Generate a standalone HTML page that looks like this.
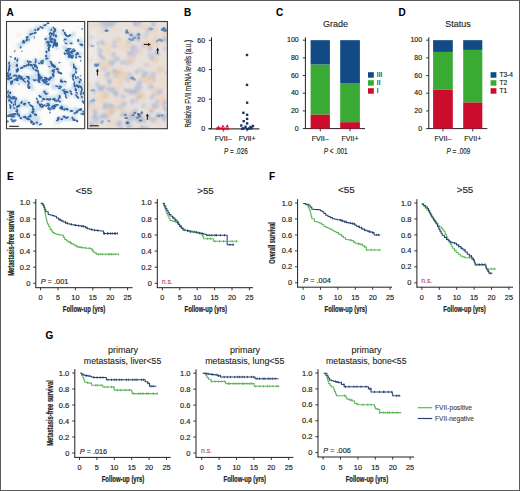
<!DOCTYPE html>
<html><head><meta charset="utf-8"><style>
html,body{margin:0;padding:0;background:#fff;}
svg{display:block;font-family:"Liberation Sans", sans-serif;}
</style></head><body>
<svg width="520" height="491" viewBox="0 0 520 491">
<rect width="520" height="491" fill="#fff"/>
<text x="6.60" y="15.60" font-size="10" text-anchor="start" fill="#000" font-weight="bold" stroke="#000" stroke-width="0.1">A</text>
<text x="184.00" y="15.60" font-size="10" text-anchor="start" fill="#000" font-weight="bold" stroke="#000" stroke-width="0.1">B</text>
<text x="276.00" y="15.60" font-size="10" text-anchor="start" fill="#000" font-weight="bold" stroke="#000" stroke-width="0.1">C</text>
<text x="398.60" y="15.60" font-size="10" text-anchor="start" fill="#000" font-weight="bold" stroke="#000" stroke-width="0.1">D</text>
<text x="6.90" y="179.60" font-size="10" text-anchor="start" fill="#000" font-weight="bold" stroke="#000" stroke-width="0.1">E</text>
<text x="269.00" y="179.60" font-size="10" text-anchor="start" fill="#000" font-weight="bold" stroke="#000" stroke-width="0.1">F</text>
<text x="45.60" y="338.60" font-size="10" text-anchor="start" fill="#000" font-weight="bold" stroke="#000" stroke-width="0.1">G</text>
<defs><clipPath id="f1"><rect x="7" y="22" width="77.2" height="106.3"/></clipPath><clipPath id="f2"><rect x="88" y="22" width="79.5" height="106.5"/></clipPath><filter id="bl" x="-10%" y="-10%" width="120%" height="120%"><feGaussianBlur stdDeviation="0.45"/></filter><filter id="bl2" x="-10%" y="-10%" width="120%" height="120%"><feGaussianBlur stdDeviation="1.2"/></filter><filter id="bl3" x="-10%" y="-10%" width="120%" height="120%"><feGaussianBlur stdDeviation="0.9"/></filter></defs>
<g clip-path="url(#f1)">
<rect x="7.00" y="22.00" width="78.00" height="106.50" fill="#fbfbf9"/>
<ellipse cx="32.3" cy="38.0" rx="4.0" ry="1.7" fill="#f6f1e6" opacity="0.45"/>
<ellipse cx="48.8" cy="60.8" rx="2.2" ry="2.8" fill="#f6f1e6" opacity="0.45"/>
<ellipse cx="9.9" cy="68.0" rx="2.2" ry="1.7" fill="#f6f1e6" opacity="0.45"/>
<ellipse cx="40.1" cy="109.6" rx="2.4" ry="2.1" fill="#f6f1e6" opacity="0.45"/>
<ellipse cx="55.9" cy="122.5" rx="3.7" ry="2.5" fill="#f6f1e6" opacity="0.45"/>
<ellipse cx="83.1" cy="26.9" rx="4.6" ry="2.2" fill="#f6f1e6" opacity="0.45"/>
<ellipse cx="18.3" cy="34.5" rx="2.9" ry="3.5" fill="#f6f1e6" opacity="0.45"/>
<ellipse cx="21.1" cy="83.6" rx="3.9" ry="2.4" fill="#f6f1e6" opacity="0.45"/>
<ellipse cx="49.7" cy="28.7" rx="2.2" ry="2.0" fill="#f6f1e6" opacity="0.45"/>
<ellipse cx="60.1" cy="67.3" rx="2.9" ry="3.0" fill="#f6f1e6" opacity="0.45"/>
<ellipse cx="42.3" cy="53.8" rx="4.4" ry="3.2" fill="#f6f1e6" opacity="0.45"/>
<ellipse cx="26.0" cy="82.9" rx="3.6" ry="3.7" fill="#f6f1e6" opacity="0.45"/>
<ellipse cx="63.9" cy="52.5" rx="4.9" ry="1.8" fill="#f6f1e6" opacity="0.45"/>
<ellipse cx="39.6" cy="102.3" rx="2.5" ry="2.7" fill="#f6f1e6" opacity="0.45"/>
<ellipse cx="10.1" cy="92.8" rx="4.3" ry="2.9" fill="#f6f1e6" opacity="0.45"/>
<ellipse cx="75.3" cy="55.3" rx="4.1" ry="3.0" fill="#f6f1e6" opacity="0.45"/>
<ellipse cx="52.2" cy="70.4" rx="4.5" ry="3.9" fill="#f6f1e6" opacity="0.45"/>
<ellipse cx="44.0" cy="92.4" rx="2.2" ry="3.3" fill="#f6f1e6" opacity="0.45"/>
<ellipse cx="57.5" cy="127.3" rx="4.5" ry="2.2" fill="#f6f1e6" opacity="0.45"/>
<ellipse cx="37.1" cy="92.9" rx="2.1" ry="2.7" fill="#f6f1e6" opacity="0.45"/>
<ellipse cx="20.1" cy="34.4" rx="2.2" ry="3.4" fill="#f6f1e6" opacity="0.45"/>
<ellipse cx="17.1" cy="48.2" rx="3.2" ry="3.7" fill="#f6f1e6" opacity="0.45"/>
<ellipse cx="13.3" cy="69.6" rx="3.6" ry="3.7" fill="#f6f1e6" opacity="0.45"/>
<ellipse cx="70.9" cy="113.6" rx="2.8" ry="2.5" fill="#f6f1e6" opacity="0.45"/>
<ellipse cx="35.0" cy="115.7" rx="4.9" ry="1.9" fill="#f6f1e6" opacity="0.45"/>
<g filter="url(#bl2)" opacity="0.7">
<ellipse cx="20.0" cy="44.8" rx="3.19" ry="2.21" fill="#b4d3ec" transform="rotate(-50 20.0 44.8)"/>
<ellipse cx="22.8" cy="43.1" rx="3.55" ry="2.55" fill="#b4d3ec" transform="rotate(-44 22.8 43.1)"/>
<ellipse cx="27.3" cy="40.1" rx="3.50" ry="2.62" fill="#b4d3ec" transform="rotate(-80 27.3 40.1)"/>
<ellipse cx="31.5" cy="35.2" rx="2.70" ry="2.51" fill="#b4d3ec" transform="rotate(-52 31.5 35.2)"/>
<ellipse cx="29.1" cy="34.0" rx="2.94" ry="2.04" fill="#b4d3ec" transform="rotate(-69 29.1 34.0)"/>
<ellipse cx="31.9" cy="31.1" rx="2.63" ry="2.70" fill="#b4d3ec" transform="rotate(-55 31.9 31.1)"/>
<ellipse cx="36.7" cy="27.7" rx="2.96" ry="2.10" fill="#b4d3ec" transform="rotate(-43 36.7 27.7)"/>
<ellipse cx="44.4" cy="25.8" rx="2.69" ry="2.08" fill="#b4d3ec" transform="rotate(-33 44.4 25.8)"/>
<ellipse cx="43.8" cy="26.2" rx="2.62" ry="2.76" fill="#b4d3ec" transform="rotate(-46 43.8 26.2)"/>
<ellipse cx="50.3" cy="29.8" rx="3.13" ry="2.78" fill="#b4d3ec" transform="rotate(66 50.3 29.8)"/>
<ellipse cx="51.9" cy="32.6" rx="2.77" ry="2.62" fill="#b4d3ec" transform="rotate(90 51.9 32.6)"/>
<ellipse cx="51.8" cy="34.8" rx="3.41" ry="2.79" fill="#b4d3ec" transform="rotate(84 51.8 34.8)"/>
<ellipse cx="51.0" cy="40.5" rx="2.83" ry="2.41" fill="#b4d3ec" transform="rotate(120 51.0 40.5)"/>
<ellipse cx="47.5" cy="38.8" rx="2.86" ry="2.55" fill="#b4d3ec" transform="rotate(88 47.5 38.8)"/>
<ellipse cx="48.3" cy="47.2" rx="3.56" ry="2.29" fill="#b4d3ec" transform="rotate(133 48.3 47.2)"/>
<ellipse cx="47.3" cy="45.1" rx="3.22" ry="2.72" fill="#b4d3ec" transform="rotate(78 47.3 45.1)"/>
<ellipse cx="47.5" cy="51.9" rx="2.68" ry="2.53" fill="#b4d3ec" transform="rotate(120 47.5 51.9)"/>
<ellipse cx="48.2" cy="56.6" rx="2.78" ry="2.63" fill="#b4d3ec" transform="rotate(95 48.2 56.6)"/>
<ellipse cx="55.3" cy="31.0" rx="3.00" ry="2.76" fill="#b4d3ec" transform="rotate(77 55.3 31.0)"/>
<ellipse cx="53.3" cy="32.3" rx="3.50" ry="2.65" fill="#b4d3ec" transform="rotate(60 53.3 32.3)"/>
<ellipse cx="56.0" cy="37.1" rx="2.95" ry="2.44" fill="#b4d3ec" transform="rotate(95 56.0 37.1)"/>
<ellipse cx="53.0" cy="40.3" rx="3.13" ry="2.75" fill="#b4d3ec" transform="rotate(112 53.0 40.3)"/>
<ellipse cx="55.5" cy="44.1" rx="2.85" ry="2.23" fill="#b4d3ec" transform="rotate(81 55.5 44.1)"/>
<ellipse cx="53.9" cy="44.5" rx="2.73" ry="2.73" fill="#b4d3ec" transform="rotate(96 53.9 44.5)"/>
<ellipse cx="55.3" cy="42.7" rx="3.02" ry="2.73" fill="#b4d3ec" transform="rotate(107 55.3 42.7)"/>
<ellipse cx="56.5" cy="46.9" rx="3.04" ry="2.15" fill="#b4d3ec" transform="rotate(45 56.5 46.9)"/>
<ellipse cx="65.2" cy="47.7" rx="3.33" ry="2.45" fill="#b4d3ec" transform="rotate(17 65.2 47.7)"/>
<ellipse cx="68.1" cy="50.5" rx="2.71" ry="2.45" fill="#b4d3ec" transform="rotate(38 68.1 50.5)"/>
<ellipse cx="69.9" cy="52.3" rx="3.16" ry="2.61" fill="#b4d3ec" transform="rotate(19 69.9 52.3)"/>
<ellipse cx="75.5" cy="53.4" rx="3.11" ry="2.55" fill="#b4d3ec" transform="rotate(19 75.5 53.4)"/>
<ellipse cx="77.9" cy="54.7" rx="3.30" ry="2.70" fill="#b4d3ec" transform="rotate(76 77.9 54.7)"/>
<ellipse cx="67.9" cy="56.7" rx="3.44" ry="2.11" fill="#b4d3ec" transform="rotate(58 67.9 56.7)"/>
<ellipse cx="69.1" cy="55.0" rx="2.67" ry="2.54" fill="#b4d3ec" transform="rotate(8 69.1 55.0)"/>
<ellipse cx="75.9" cy="55.4" rx="3.26" ry="2.11" fill="#b4d3ec" transform="rotate(-11 75.9 55.4)"/>
<ellipse cx="79.5" cy="54.1" rx="3.00" ry="2.39" fill="#b4d3ec" transform="rotate(5 79.5 54.1)"/>
<ellipse cx="17.5" cy="60.1" rx="3.12" ry="2.27" fill="#b4d3ec" transform="rotate(96 17.5 60.1)"/>
<ellipse cx="15.3" cy="63.0" rx="3.15" ry="2.35" fill="#b4d3ec" transform="rotate(67 15.3 63.0)"/>
<ellipse cx="14.8" cy="65.5" rx="2.66" ry="2.79" fill="#b4d3ec" transform="rotate(72 14.8 65.5)"/>
<ellipse cx="19.1" cy="68.4" rx="2.64" ry="2.62" fill="#b4d3ec" transform="rotate(55 19.1 68.4)"/>
<ellipse cx="16.1" cy="71.0" rx="3.42" ry="2.21" fill="#b4d3ec" transform="rotate(100 16.1 71.0)"/>
<ellipse cx="9.7" cy="62.8" rx="2.69" ry="2.05" fill="#b4d3ec" transform="rotate(98 9.7 62.8)"/>
<ellipse cx="8.3" cy="65.9" rx="3.23" ry="2.64" fill="#b4d3ec" transform="rotate(115 8.3 65.9)"/>
<ellipse cx="10.1" cy="67.2" rx="3.05" ry="2.27" fill="#b4d3ec" transform="rotate(110 10.1 67.2)"/>
<ellipse cx="10.5" cy="72.9" rx="3.13" ry="2.19" fill="#b4d3ec" transform="rotate(70 10.5 72.9)"/>
<ellipse cx="7.3" cy="73.9" rx="2.91" ry="2.24" fill="#b4d3ec" transform="rotate(75 7.3 73.9)"/>
<ellipse cx="7.2" cy="81.2" rx="2.95" ry="2.01" fill="#b4d3ec" transform="rotate(73 7.2 81.2)"/>
<ellipse cx="20.4" cy="67.9" rx="2.79" ry="2.38" fill="#b4d3ec" transform="rotate(-13 20.4 67.9)"/>
<ellipse cx="26.8" cy="66.4" rx="3.10" ry="2.67" fill="#b4d3ec" transform="rotate(-21 26.8 66.4)"/>
<ellipse cx="30.0" cy="65.4" rx="2.94" ry="2.67" fill="#b4d3ec" transform="rotate(17 30.0 65.4)"/>
<ellipse cx="34.9" cy="63.3" rx="2.65" ry="2.10" fill="#b4d3ec" transform="rotate(-20 34.9 63.3)"/>
<ellipse cx="36.4" cy="62.5" rx="2.68" ry="2.67" fill="#b4d3ec" transform="rotate(-33 36.4 62.5)"/>
<ellipse cx="41.7" cy="61.7" rx="2.89" ry="2.37" fill="#b4d3ec" transform="rotate(-27 41.7 61.7)"/>
<ellipse cx="41.7" cy="61.2" rx="3.57" ry="2.44" fill="#b4d3ec" transform="rotate(-5 41.7 61.2)"/>
<ellipse cx="47.1" cy="58.9" rx="2.60" ry="2.31" fill="#b4d3ec" transform="rotate(-47 47.1 58.9)"/>
<ellipse cx="9.6" cy="76.5" rx="2.60" ry="2.21" fill="#b4d3ec" transform="rotate(-11 9.6 76.5)"/>
<ellipse cx="11.2" cy="75.4" rx="2.90" ry="2.19" fill="#b4d3ec" transform="rotate(-45 11.2 75.4)"/>
<ellipse cx="16.7" cy="77.3" rx="3.32" ry="2.70" fill="#b4d3ec" transform="rotate(-0 16.7 77.3)"/>
<ellipse cx="18.6" cy="78.2" rx="3.32" ry="2.51" fill="#b4d3ec" transform="rotate(-13 18.6 78.2)"/>
<ellipse cx="22.8" cy="78.3" rx="3.33" ry="2.65" fill="#b4d3ec" transform="rotate(20 22.8 78.3)"/>
<ellipse cx="25.2" cy="77.4" rx="3.40" ry="2.66" fill="#b4d3ec" transform="rotate(35 25.2 77.4)"/>
<ellipse cx="31.5" cy="79.1" rx="2.83" ry="2.02" fill="#b4d3ec" transform="rotate(25 31.5 79.1)"/>
<ellipse cx="31.2" cy="77.2" rx="3.16" ry="2.50" fill="#b4d3ec" transform="rotate(35 31.2 77.2)"/>
<ellipse cx="37.5" cy="79.7" rx="3.40" ry="2.60" fill="#b4d3ec" transform="rotate(-23 37.5 79.7)"/>
<ellipse cx="39.8" cy="80.5" rx="3.34" ry="2.20" fill="#b4d3ec" transform="rotate(-36 39.8 80.5)"/>
<ellipse cx="40.6" cy="80.6" rx="3.34" ry="2.78" fill="#b4d3ec" transform="rotate(-26 40.6 80.6)"/>
<ellipse cx="45.8" cy="79.1" rx="3.37" ry="2.49" fill="#b4d3ec" transform="rotate(7 45.8 79.1)"/>
<ellipse cx="35.1" cy="60.7" rx="3.34" ry="2.24" fill="#b4d3ec" transform="rotate(78 35.1 60.7)"/>
<ellipse cx="34.5" cy="63.5" rx="3.27" ry="2.55" fill="#b4d3ec" transform="rotate(80 34.5 63.5)"/>
<ellipse cx="35.3" cy="69.0" rx="3.07" ry="2.09" fill="#b4d3ec" transform="rotate(93 35.3 69.0)"/>
<ellipse cx="36.0" cy="74.9" rx="2.62" ry="2.37" fill="#b4d3ec" transform="rotate(99 36.0 74.9)"/>
<ellipse cx="40.3" cy="75.9" rx="2.81" ry="2.76" fill="#b4d3ec" transform="rotate(52 40.3 75.9)"/>
<ellipse cx="39.3" cy="75.9" rx="3.55" ry="2.11" fill="#b4d3ec" transform="rotate(70 39.3 75.9)"/>
<ellipse cx="43.3" cy="82.8" rx="2.83" ry="2.72" fill="#b4d3ec" transform="rotate(35 43.3 82.8)"/>
<ellipse cx="44.0" cy="80.2" rx="3.05" ry="2.24" fill="#b4d3ec" transform="rotate(20 44.0 80.2)"/>
<ellipse cx="47.7" cy="81.9" rx="2.60" ry="2.60" fill="#b4d3ec" transform="rotate(-21 47.7 81.9)"/>
<ellipse cx="51.1" cy="80.1" rx="3.50" ry="2.23" fill="#b4d3ec" transform="rotate(-30 51.1 80.1)"/>
<ellipse cx="52.7" cy="78.8" rx="2.96" ry="2.34" fill="#b4d3ec" transform="rotate(-78 52.7 78.8)"/>
<ellipse cx="51.6" cy="72.2" rx="2.89" ry="2.75" fill="#b4d3ec" transform="rotate(-61 51.6 72.2)"/>
<ellipse cx="52.8" cy="70.5" rx="2.97" ry="2.76" fill="#b4d3ec" transform="rotate(-106 52.8 70.5)"/>
<ellipse cx="54.1" cy="66.2" rx="3.54" ry="2.44" fill="#b4d3ec" transform="rotate(-88 54.1 66.2)"/>
<ellipse cx="49.9" cy="64.3" rx="3.35" ry="2.52" fill="#b4d3ec" transform="rotate(-120 49.9 64.3)"/>
<ellipse cx="49.1" cy="63.6" rx="3.07" ry="2.27" fill="#b4d3ec" transform="rotate(-143 49.1 63.6)"/>
<ellipse cx="52.3" cy="66.5" rx="3.26" ry="2.24" fill="#b4d3ec" transform="rotate(22 52.3 66.5)"/>
<ellipse cx="54.2" cy="65.9" rx="2.81" ry="2.72" fill="#b4d3ec" transform="rotate(15 54.2 65.9)"/>
<ellipse cx="55.9" cy="70.8" rx="3.05" ry="2.11" fill="#b4d3ec" transform="rotate(74 55.9 70.8)"/>
<ellipse cx="57.4" cy="70.3" rx="2.84" ry="2.21" fill="#b4d3ec" transform="rotate(17 57.4 70.3)"/>
<ellipse cx="12.3" cy="83.9" rx="3.01" ry="2.42" fill="#b4d3ec" transform="rotate(-43 12.3 83.9)"/>
<ellipse cx="12.6" cy="79.3" rx="3.57" ry="2.10" fill="#b4d3ec" transform="rotate(-52 12.6 79.3)"/>
<ellipse cx="17.3" cy="80.7" rx="2.87" ry="2.20" fill="#b4d3ec" transform="rotate(-33 17.3 80.7)"/>
<ellipse cx="19.3" cy="80.4" rx="3.47" ry="2.02" fill="#b4d3ec" transform="rotate(11 19.3 80.4)"/>
<ellipse cx="22.3" cy="79.7" rx="3.19" ry="2.00" fill="#b4d3ec" transform="rotate(29 22.3 79.7)"/>
<ellipse cx="26.6" cy="81.5" rx="3.57" ry="2.20" fill="#b4d3ec" transform="rotate(56 26.6 81.5)"/>
<ellipse cx="25.4" cy="81.4" rx="3.54" ry="2.58" fill="#b4d3ec" transform="rotate(44 25.4 81.4)"/>
<ellipse cx="30.6" cy="85.0" rx="2.64" ry="2.63" fill="#b4d3ec" transform="rotate(82 30.6 85.0)"/>
<ellipse cx="31.7" cy="88.0" rx="2.73" ry="2.20" fill="#b4d3ec" transform="rotate(65 31.7 88.0)"/>
<ellipse cx="41.1" cy="76.4" rx="3.12" ry="2.47" fill="#b4d3ec" transform="rotate(7 41.1 76.4)"/>
<ellipse cx="41.5" cy="80.2" rx="2.90" ry="2.37" fill="#b4d3ec" transform="rotate(3 41.5 80.2)"/>
<ellipse cx="48.0" cy="82.0" rx="2.83" ry="2.20" fill="#b4d3ec" transform="rotate(-16 48.0 82.0)"/>
<ellipse cx="51.3" cy="78.9" rx="3.10" ry="2.54" fill="#b4d3ec" transform="rotate(-48 51.3 78.9)"/>
<ellipse cx="50.9" cy="78.3" rx="2.83" ry="2.03" fill="#b4d3ec" transform="rotate(-26 50.9 78.3)"/>
<ellipse cx="8.8" cy="92.2" rx="3.40" ry="2.59" fill="#b4d3ec" transform="rotate(61 8.8 92.2)"/>
<ellipse cx="8.4" cy="96.9" rx="3.42" ry="2.18" fill="#b4d3ec" transform="rotate(69 8.4 96.9)"/>
<ellipse cx="10.9" cy="96.4" rx="3.10" ry="2.15" fill="#b4d3ec" transform="rotate(114 10.9 96.4)"/>
<ellipse cx="10.0" cy="101.0" rx="2.75" ry="2.31" fill="#b4d3ec" transform="rotate(114 10.0 101.0)"/>
<ellipse cx="12.4" cy="102.0" rx="2.66" ry="2.31" fill="#b4d3ec" transform="rotate(67 12.4 102.0)"/>
<ellipse cx="11.1" cy="110.6" rx="3.53" ry="2.26" fill="#b4d3ec" transform="rotate(133 11.1 110.6)"/>
<ellipse cx="17.4" cy="109.4" rx="3.26" ry="2.30" fill="#b4d3ec" transform="rotate(-71 17.4 109.4)"/>
<ellipse cx="18.1" cy="104.7" rx="2.88" ry="2.28" fill="#b4d3ec" transform="rotate(-73 18.1 104.7)"/>
<ellipse cx="21.3" cy="104.6" rx="2.96" ry="2.66" fill="#b4d3ec" transform="rotate(-59 21.3 104.6)"/>
<ellipse cx="25.1" cy="101.5" rx="2.97" ry="2.74" fill="#b4d3ec" transform="rotate(12 25.1 101.5)"/>
<ellipse cx="26.0" cy="105.2" rx="3.01" ry="2.65" fill="#b4d3ec" transform="rotate(-19 26.0 105.2)"/>
<ellipse cx="29.0" cy="104.7" rx="3.52" ry="2.21" fill="#b4d3ec" transform="rotate(22 29.0 104.7)"/>
<ellipse cx="34.7" cy="109.0" rx="3.56" ry="2.49" fill="#b4d3ec" transform="rotate(37 34.7 109.0)"/>
<ellipse cx="35.0" cy="110.5" rx="2.60" ry="2.60" fill="#b4d3ec" transform="rotate(47 35.0 110.5)"/>
<ellipse cx="37.2" cy="118.0" rx="2.83" ry="2.38" fill="#b4d3ec" transform="rotate(30 37.2 118.0)"/>
<ellipse cx="16.5" cy="100.1" rx="3.03" ry="2.39" fill="#b4d3ec" transform="rotate(78 16.5 100.1)"/>
<ellipse cx="13.1" cy="105.3" rx="3.42" ry="2.62" fill="#b4d3ec" transform="rotate(112 13.1 105.3)"/>
<ellipse cx="13.4" cy="105.8" rx="3.38" ry="2.06" fill="#b4d3ec" transform="rotate(86 13.4 105.8)"/>
<ellipse cx="15.4" cy="107.6" rx="2.63" ry="2.44" fill="#b4d3ec" transform="rotate(26 15.4 107.6)"/>
<ellipse cx="18.6" cy="113.5" rx="2.86" ry="2.07" fill="#b4d3ec" transform="rotate(90 18.6 113.5)"/>
<ellipse cx="18.2" cy="115.1" rx="2.83" ry="2.33" fill="#b4d3ec" transform="rotate(53 18.2 115.1)"/>
<ellipse cx="22.8" cy="118.2" rx="3.26" ry="2.10" fill="#b4d3ec" transform="rotate(30 22.8 118.2)"/>
<ellipse cx="25.3" cy="117.9" rx="3.34" ry="2.16" fill="#b4d3ec" transform="rotate(-3 25.3 117.9)"/>
<ellipse cx="26.5" cy="116.4" rx="3.18" ry="2.26" fill="#b4d3ec" transform="rotate(33 26.5 116.4)"/>
<ellipse cx="32.5" cy="117.0" rx="3.41" ry="2.52" fill="#b4d3ec" transform="rotate(-82 32.5 117.0)"/>
<ellipse cx="31.1" cy="112.6" rx="3.44" ry="2.73" fill="#b4d3ec" transform="rotate(-41 31.1 112.6)"/>
<ellipse cx="31.9" cy="111.0" rx="3.57" ry="2.47" fill="#b4d3ec" transform="rotate(-85 31.9 111.0)"/>
<ellipse cx="37.7" cy="102.3" rx="2.86" ry="2.62" fill="#b4d3ec" transform="rotate(60 37.7 102.3)"/>
<ellipse cx="38.2" cy="104.4" rx="2.82" ry="2.29" fill="#b4d3ec" transform="rotate(72 38.2 104.4)"/>
<ellipse cx="38.9" cy="103.7" rx="3.25" ry="2.16" fill="#b4d3ec" transform="rotate(71 38.9 103.7)"/>
<ellipse cx="40.8" cy="108.0" rx="2.91" ry="2.16" fill="#b4d3ec" transform="rotate(-33 40.8 108.0)"/>
<ellipse cx="48.4" cy="104.2" rx="3.00" ry="2.44" fill="#b4d3ec" transform="rotate(-39 48.4 104.2)"/>
<ellipse cx="49.9" cy="104.5" rx="3.01" ry="2.23" fill="#b4d3ec" transform="rotate(14 49.9 104.5)"/>
<ellipse cx="55.9" cy="105.0" rx="2.96" ry="2.33" fill="#b4d3ec" transform="rotate(5 55.9 105.0)"/>
<ellipse cx="62.1" cy="106.6" rx="3.33" ry="2.16" fill="#b4d3ec" transform="rotate(0 62.1 106.6)"/>
<ellipse cx="62.3" cy="107.0" rx="3.01" ry="2.71" fill="#b4d3ec" transform="rotate(44 62.3 107.0)"/>
<ellipse cx="64.9" cy="107.6" rx="3.24" ry="2.73" fill="#b4d3ec" transform="rotate(26 64.9 107.6)"/>
<ellipse cx="69.2" cy="110.0" rx="2.75" ry="2.23" fill="#b4d3ec" transform="rotate(22 69.2 110.0)"/>
<ellipse cx="75.8" cy="110.1" rx="3.40" ry="2.77" fill="#b4d3ec" transform="rotate(-9 75.8 110.1)"/>
<ellipse cx="75.0" cy="113.1" rx="3.08" ry="2.04" fill="#b4d3ec" transform="rotate(25 75.0 113.1)"/>
<ellipse cx="82.3" cy="112.1" rx="3.42" ry="2.13" fill="#b4d3ec" transform="rotate(1 82.3 112.1)"/>
<ellipse cx="77.8" cy="80.1" rx="3.43" ry="2.15" fill="#b4d3ec" transform="rotate(100 77.8 80.1)"/>
<ellipse cx="78.8" cy="81.9" rx="2.72" ry="2.20" fill="#b4d3ec" transform="rotate(68 78.8 81.9)"/>
<ellipse cx="82.0" cy="84.6" rx="3.36" ry="2.03" fill="#b4d3ec" transform="rotate(80 82.0 84.6)"/>
<ellipse cx="79.7" cy="90.3" rx="3.23" ry="2.24" fill="#b4d3ec" transform="rotate(79 79.7 90.3)"/>
<ellipse cx="82.0" cy="91.6" rx="3.05" ry="2.35" fill="#b4d3ec" transform="rotate(93 82.0 91.6)"/>
<ellipse cx="82.4" cy="94.0" rx="3.36" ry="2.62" fill="#b4d3ec" transform="rotate(63 82.4 94.0)"/>
<ellipse cx="81.4" cy="99.1" rx="2.73" ry="2.34" fill="#b4d3ec" transform="rotate(54 81.4 99.1)"/>
<ellipse cx="73.8" cy="76.3" rx="3.24" ry="2.07" fill="#b4d3ec" transform="rotate(48 73.8 76.3)"/>
<ellipse cx="76.0" cy="81.2" rx="3.10" ry="2.30" fill="#b4d3ec" transform="rotate(49 76.0 81.2)"/>
<ellipse cx="74.0" cy="86.3" rx="3.33" ry="2.65" fill="#b4d3ec" transform="rotate(115 74.0 86.3)"/>
<ellipse cx="77.5" cy="85.5" rx="3.52" ry="2.13" fill="#b4d3ec" transform="rotate(113 77.5 85.5)"/>
<ellipse cx="78.2" cy="88.9" rx="3.36" ry="2.13" fill="#b4d3ec" transform="rotate(68 78.2 88.9)"/>
<ellipse cx="76.4" cy="95.6" rx="3.10" ry="2.74" fill="#b4d3ec" transform="rotate(54 76.4 95.6)"/>
<ellipse cx="76.5" cy="95.4" rx="2.64" ry="2.15" fill="#b4d3ec" transform="rotate(66 76.5 95.4)"/>
<ellipse cx="45.4" cy="91.6" rx="2.77" ry="2.63" fill="#b4d3ec" transform="rotate(62 45.4 91.6)"/>
<ellipse cx="64.8" cy="91.4" rx="3.47" ry="2.44" fill="#b4d3ec" transform="rotate(59 64.8 91.4)"/>
<ellipse cx="68.4" cy="94.8" rx="3.23" ry="2.32" fill="#b4d3ec" transform="rotate(103 68.4 94.8)"/>
<ellipse cx="58.3" cy="120.9" rx="2.96" ry="2.61" fill="#b4d3ec" transform="rotate(-9 58.3 120.9)"/>
<ellipse cx="60.0" cy="119.4" rx="3.42" ry="2.20" fill="#b4d3ec" transform="rotate(-46 60.0 119.4)"/>
<ellipse cx="67.4" cy="118.3" rx="2.91" ry="2.00" fill="#b4d3ec" transform="rotate(11 67.4 118.3)"/>
<ellipse cx="65.5" cy="118.5" rx="3.11" ry="2.72" fill="#b4d3ec" transform="rotate(-5 65.5 118.5)"/>
<ellipse cx="70.0" cy="118.8" rx="2.60" ry="2.28" fill="#b4d3ec" transform="rotate(-11 70.0 118.8)"/>
<ellipse cx="74.1" cy="118.6" rx="3.19" ry="2.16" fill="#b4d3ec" transform="rotate(28 74.1 118.6)"/>
<ellipse cx="61.8" cy="79.8" rx="2.84" ry="2.12" fill="#b4d3ec" transform="rotate(64 61.8 79.8)"/>
<ellipse cx="63.8" cy="83.7" rx="3.00" ry="2.21" fill="#b4d3ec" transform="rotate(53 63.8 83.7)"/>
<ellipse cx="72.6" cy="64.3" rx="3.25" ry="2.36" fill="#b4d3ec" transform="rotate(46 72.6 64.3)"/>
<ellipse cx="76.8" cy="68.8" rx="2.64" ry="2.43" fill="#b4d3ec" transform="rotate(85 76.8 68.8)"/>
<ellipse cx="74.5" cy="69.5" rx="2.61" ry="2.44" fill="#b4d3ec" transform="rotate(128 74.5 69.5)"/>
<ellipse cx="72.6" cy="74.6" rx="3.11" ry="2.51" fill="#b4d3ec" transform="rotate(116 72.6 74.6)"/>
<ellipse cx="27.1" cy="118.9" rx="2.65" ry="2.71" fill="#b4d3ec" transform="rotate(20 27.1 118.9)"/>
<ellipse cx="32.2" cy="119.6" rx="3.35" ry="2.37" fill="#b4d3ec" transform="rotate(58 32.2 119.6)"/>
<ellipse cx="34.8" cy="121.3" rx="2.83" ry="2.03" fill="#b4d3ec" transform="rotate(-21 34.8 121.3)"/>
<ellipse cx="38.3" cy="123.4" rx="3.31" ry="2.21" fill="#b4d3ec" transform="rotate(31 38.3 123.4)"/>
<ellipse cx="63.4" cy="32.8" rx="2.87" ry="2.51" fill="#b4d3ec" transform="rotate(47 63.4 32.8)"/>
<ellipse cx="66.8" cy="37.4" rx="2.86" ry="2.19" fill="#b4d3ec" transform="rotate(11 66.8 37.4)"/>
<ellipse cx="72.8" cy="34.8" rx="3.48" ry="2.26" fill="#b4d3ec" transform="rotate(-49 72.8 34.8)"/>
<ellipse cx="80.1" cy="41.2" rx="3.27" ry="2.78" fill="#b4d3ec" transform="rotate(70 80.1 41.2)"/>
<ellipse cx="82.3" cy="45.2" rx="3.04" ry="2.58" fill="#b4d3ec" transform="rotate(81 82.3 45.2)"/>
<ellipse cx="58.7" cy="96.1" rx="2.68" ry="2.73" fill="#b4d3ec" transform="rotate(113 58.7 96.1)"/>
<ellipse cx="57.0" cy="98.0" rx="2.94" ry="2.11" fill="#b4d3ec" transform="rotate(134 57.0 98.0)"/>
<ellipse cx="54.2" cy="86.8" rx="3.30" ry="2.59" fill="#b4d3ec" transform="rotate(36 54.2 86.8)"/>
<ellipse cx="59.2" cy="86.9" rx="3.42" ry="2.71" fill="#b4d3ec" transform="rotate(49 59.2 86.9)"/>
<ellipse cx="63.0" cy="90.4" rx="2.71" ry="2.16" fill="#b4d3ec" transform="rotate(58 63.0 90.4)"/>
<ellipse cx="62.4" cy="91.5" rx="3.23" ry="2.66" fill="#b4d3ec" transform="rotate(48 62.4 91.5)"/>
<ellipse cx="67.5" cy="90.6" rx="3.36" ry="2.16" fill="#b4d3ec" transform="rotate(-2 67.5 90.6)"/>
<ellipse cx="69.9" cy="91.2" rx="2.88" ry="2.57" fill="#b4d3ec" transform="rotate(10 69.9 91.2)"/>
<ellipse cx="26.4" cy="63.0" rx="3.45" ry="2.49" fill="#b4d3ec" transform="rotate(45 26.4 63.0)"/>
<ellipse cx="28.7" cy="62.8" rx="2.95" ry="2.56" fill="#b4d3ec" transform="rotate(64 28.7 62.8)"/>
<ellipse cx="32.5" cy="68.5" rx="3.42" ry="2.14" fill="#b4d3ec" transform="rotate(5 32.5 68.5)"/>
<ellipse cx="33.8" cy="69.1" rx="2.60" ry="2.39" fill="#b4d3ec" transform="rotate(67 33.8 69.1)"/>
<ellipse cx="42.7" cy="95.0" rx="2.95" ry="2.67" fill="#b4d3ec" transform="rotate(39 42.7 95.0)"/>
<ellipse cx="45.6" cy="97.3" rx="3.30" ry="2.40" fill="#b4d3ec" transform="rotate(20 45.6 97.3)"/>
<ellipse cx="47.0" cy="98.2" rx="3.30" ry="2.63" fill="#b4d3ec" transform="rotate(6 47.0 98.2)"/>
<ellipse cx="51.9" cy="98.0" rx="3.49" ry="2.07" fill="#b4d3ec" transform="rotate(-21 51.9 98.0)"/>
<ellipse cx="54.8" cy="98.6" rx="3.50" ry="2.40" fill="#b4d3ec" transform="rotate(17 54.8 98.6)"/>
<ellipse cx="59.7" cy="99.7" rx="3.13" ry="2.60" fill="#b4d3ec" transform="rotate(31 59.7 99.7)"/>
<ellipse cx="66.8" cy="40.9" rx="2.76" ry="2.67" fill="#b4d3ec" transform="rotate(22 66.8 40.9)"/>
<ellipse cx="70.0" cy="42.0" rx="3.37" ry="2.46" fill="#b4d3ec" transform="rotate(29 70.0 42.0)"/>
</g>
<g filter="url(#bl)">
<ellipse cx="20.7" cy="47.4" rx="1.33" ry="0.82" fill="#33609a" transform="rotate(-67 20.7 47.4)"/>
<ellipse cx="24.2" cy="42.4" rx="1.37" ry="0.83" fill="#33609a" transform="rotate(-73 24.2 42.4)"/>
<ellipse cx="23.2" cy="41.6" rx="1.88" ry="0.99" fill="#33609a" transform="rotate(-70 23.2 41.6)"/>
<ellipse cx="26.7" cy="39.9" rx="1.89" ry="1.02" fill="#33609a" transform="rotate(-57 26.7 39.9)"/>
<ellipse cx="27.4" cy="37.5" rx="1.27" ry="0.78" fill="#33609a" transform="rotate(-39 27.4 37.5)"/>
<ellipse cx="27.1" cy="37.1" rx="1.69" ry="0.90" fill="#33609a" transform="rotate(-25 27.1 37.1)"/>
<ellipse cx="30.5" cy="34.2" rx="1.48" ry="1.00" fill="#33609a" transform="rotate(-38 30.5 34.2)"/>
<ellipse cx="32.4" cy="33.6" rx="1.49" ry="0.79" fill="#33609a" transform="rotate(-28 32.4 33.6)"/>
<ellipse cx="35.2" cy="32.9" rx="1.80" ry="0.97" fill="#33609a" transform="rotate(-31 35.2 32.9)"/>
<ellipse cx="35.3" cy="30.0" rx="1.27" ry="0.87" fill="#33609a" transform="rotate(-36 35.3 30.0)"/>
<ellipse cx="38.1" cy="29.6" rx="1.50" ry="0.88" fill="#33609a" transform="rotate(-50 38.1 29.6)"/>
<ellipse cx="38.5" cy="28.8" rx="1.33" ry="0.96" fill="#33609a" transform="rotate(-2 38.5 28.8)"/>
<ellipse cx="40.5" cy="26.9" rx="1.23" ry="0.92" fill="#33609a" transform="rotate(1 40.5 26.9)"/>
<ellipse cx="42.4" cy="27.9" rx="1.27" ry="0.93" fill="#33609a" transform="rotate(-31 42.4 27.9)"/>
<ellipse cx="45.0" cy="25.1" rx="1.78" ry="0.91" fill="#33609a" transform="rotate(-13 45.0 25.1)"/>
<ellipse cx="48.0" cy="23.2" rx="1.47" ry="1.01" fill="#33609a" transform="rotate(-10 48.0 23.2)"/>
<ellipse cx="53.5" cy="27.8" rx="1.39" ry="0.86" fill="#33609a" transform="rotate(68 53.5 27.8)"/>
<ellipse cx="51.4" cy="29.8" rx="1.45" ry="0.81" fill="#33609a" transform="rotate(113 51.4 29.8)"/>
<ellipse cx="52.0" cy="33.9" rx="1.35" ry="1.02" fill="#33609a" transform="rotate(101 52.0 33.9)"/>
<ellipse cx="49.9" cy="33.6" rx="1.77" ry="0.95" fill="#33609a" transform="rotate(123 49.9 33.6)"/>
<ellipse cx="50.5" cy="36.2" rx="1.45" ry="0.96" fill="#33609a" transform="rotate(136 50.5 36.2)"/>
<ellipse cx="50.6" cy="39.9" rx="1.58" ry="0.75" fill="#33609a" transform="rotate(89 50.6 39.9)"/>
<ellipse cx="48.6" cy="43.3" rx="1.46" ry="0.80" fill="#33609a" transform="rotate(87 48.6 43.3)"/>
<ellipse cx="47.8" cy="41.9" rx="1.40" ry="0.80" fill="#33609a" transform="rotate(115 47.8 41.9)"/>
<ellipse cx="48.4" cy="45.3" rx="1.66" ry="0.84" fill="#33609a" transform="rotate(109 48.4 45.3)"/>
<ellipse cx="49.0" cy="47.9" rx="1.83" ry="1.01" fill="#33609a" transform="rotate(122 49.0 47.9)"/>
<ellipse cx="48.9" cy="50.2" rx="1.21" ry="1.08" fill="#33609a" transform="rotate(65 48.9 50.2)"/>
<ellipse cx="46.5" cy="51.9" rx="1.36" ry="1.01" fill="#33609a" transform="rotate(72 46.5 51.9)"/>
<ellipse cx="46.1" cy="55.9" rx="1.32" ry="1.06" fill="#33609a" transform="rotate(117 46.1 55.9)"/>
<ellipse cx="55.0" cy="29.8" rx="1.75" ry="1.04" fill="#33609a" transform="rotate(112 55.0 29.8)"/>
<ellipse cx="54.9" cy="30.5" rx="1.51" ry="1.05" fill="#33609a" transform="rotate(101 54.9 30.5)"/>
<ellipse cx="53.8" cy="32.3" rx="1.55" ry="0.72" fill="#33609a" transform="rotate(59 53.8 32.3)"/>
<ellipse cx="53.6" cy="34.9" rx="1.58" ry="1.05" fill="#33609a" transform="rotate(84 53.6 34.9)"/>
<ellipse cx="55.9" cy="35.9" rx="1.67" ry="1.04" fill="#33609a" transform="rotate(89 55.9 35.9)"/>
<ellipse cx="54.6" cy="40.2" rx="1.65" ry="0.95" fill="#33609a" transform="rotate(72 54.6 40.2)"/>
<ellipse cx="54.9" cy="40.6" rx="1.43" ry="1.09" fill="#33609a" transform="rotate(132 54.9 40.6)"/>
<ellipse cx="53.9" cy="44.3" rx="1.70" ry="0.95" fill="#33609a" transform="rotate(69 53.9 44.3)"/>
<ellipse cx="54.8" cy="44.2" rx="1.57" ry="1.01" fill="#33609a" transform="rotate(100 54.8 44.2)"/>
<ellipse cx="53.1" cy="46.2" rx="1.78" ry="0.82" fill="#33609a" transform="rotate(105 53.1 46.2)"/>
<ellipse cx="55.2" cy="42.6" rx="1.55" ry="1.09" fill="#33609a" transform="rotate(62 55.2 42.6)"/>
<ellipse cx="56.8" cy="43.6" rx="1.41" ry="0.93" fill="#33609a" transform="rotate(65 56.8 43.6)"/>
<ellipse cx="57.2" cy="44.6" rx="1.82" ry="0.92" fill="#33609a" transform="rotate(94 57.2 44.6)"/>
<ellipse cx="55.8" cy="45.3" rx="1.85" ry="0.94" fill="#33609a" transform="rotate(57 55.8 45.3)"/>
<ellipse cx="66.2" cy="50.8" rx="1.63" ry="0.95" fill="#33609a" transform="rotate(26 66.2 50.8)"/>
<ellipse cx="67.7" cy="50.7" rx="1.67" ry="0.88" fill="#33609a" transform="rotate(-2 67.7 50.7)"/>
<ellipse cx="68.2" cy="49.8" rx="1.74" ry="1.07" fill="#33609a" transform="rotate(-14 68.2 49.8)"/>
<ellipse cx="70.9" cy="52.5" rx="1.59" ry="0.80" fill="#33609a" transform="rotate(38 70.9 52.5)"/>
<ellipse cx="72.4" cy="51.3" rx="1.65" ry="1.07" fill="#33609a" transform="rotate(14 72.4 51.3)"/>
<ellipse cx="74.3" cy="50.9" rx="1.77" ry="0.93" fill="#33609a" transform="rotate(-8 74.3 50.9)"/>
<ellipse cx="77.7" cy="53.3" rx="1.61" ry="1.08" fill="#33609a" transform="rotate(37 77.7 53.3)"/>
<ellipse cx="79.9" cy="56.7" rx="1.65" ry="0.78" fill="#33609a" transform="rotate(17 79.9 56.7)"/>
<ellipse cx="64.8" cy="53.6" rx="1.29" ry="1.09" fill="#33609a" transform="rotate(39 64.8 53.6)"/>
<ellipse cx="69.4" cy="54.9" rx="1.70" ry="0.80" fill="#33609a" transform="rotate(-7 69.4 54.9)"/>
<ellipse cx="70.5" cy="56.3" rx="1.70" ry="1.04" fill="#33609a" transform="rotate(46 70.5 56.3)"/>
<ellipse cx="72.1" cy="57.7" rx="1.52" ry="1.07" fill="#33609a" transform="rotate(-12 72.1 57.7)"/>
<ellipse cx="76.0" cy="57.4" rx="1.21" ry="0.96" fill="#33609a" transform="rotate(-61 76.0 57.4)"/>
<ellipse cx="76.3" cy="54.6" rx="1.32" ry="1.04" fill="#33609a" transform="rotate(-11 76.3 54.6)"/>
<ellipse cx="15.2" cy="58.6" rx="1.51" ry="0.97" fill="#33609a" transform="rotate(106 15.2 58.6)"/>
<ellipse cx="17.3" cy="60.2" rx="1.64" ry="0.87" fill="#33609a" transform="rotate(111 17.3 60.2)"/>
<ellipse cx="16.7" cy="65.0" rx="1.60" ry="0.82" fill="#33609a" transform="rotate(120 16.7 65.0)"/>
<ellipse cx="17.1" cy="65.8" rx="1.43" ry="0.94" fill="#33609a" transform="rotate(94 17.1 65.8)"/>
<ellipse cx="17.9" cy="69.4" rx="1.50" ry="1.06" fill="#33609a" transform="rotate(58 17.9 69.4)"/>
<ellipse cx="17.8" cy="70.3" rx="1.77" ry="0.81" fill="#33609a" transform="rotate(99 17.8 70.3)"/>
<ellipse cx="16.8" cy="71.0" rx="1.77" ry="1.05" fill="#33609a" transform="rotate(77 16.8 71.0)"/>
<ellipse cx="9.1" cy="63.1" rx="1.60" ry="0.81" fill="#33609a" transform="rotate(110 9.1 63.1)"/>
<ellipse cx="9.4" cy="66.3" rx="1.44" ry="0.73" fill="#33609a" transform="rotate(113 9.4 66.3)"/>
<ellipse cx="9.5" cy="66.1" rx="1.85" ry="0.79" fill="#33609a" transform="rotate(102 9.5 66.1)"/>
<ellipse cx="9.3" cy="69.1" rx="1.38" ry="1.00" fill="#33609a" transform="rotate(64 9.3 69.1)"/>
<ellipse cx="8.8" cy="70.3" rx="1.74" ry="0.79" fill="#33609a" transform="rotate(106 8.8 70.3)"/>
<ellipse cx="10.2" cy="74.4" rx="1.53" ry="0.94" fill="#33609a" transform="rotate(97 10.2 74.4)"/>
<ellipse cx="7.8" cy="73.4" rx="1.45" ry="0.93" fill="#33609a" transform="rotate(110 7.8 73.4)"/>
<ellipse cx="8.6" cy="75.7" rx="1.90" ry="0.85" fill="#33609a" transform="rotate(64 8.6 75.7)"/>
<ellipse cx="8.8" cy="79.1" rx="1.62" ry="0.84" fill="#33609a" transform="rotate(72 8.8 79.1)"/>
<ellipse cx="6.6" cy="79.5" rx="1.81" ry="0.89" fill="#33609a" transform="rotate(130 6.6 79.5)"/>
<ellipse cx="21.9" cy="67.7" rx="1.86" ry="1.01" fill="#33609a" transform="rotate(-22 21.9 67.7)"/>
<ellipse cx="26.8" cy="65.2" rx="1.34" ry="0.77" fill="#33609a" transform="rotate(-49 26.8 65.2)"/>
<ellipse cx="24.5" cy="66.1" rx="1.52" ry="1.08" fill="#33609a" transform="rotate(9 24.5 66.1)"/>
<ellipse cx="28.5" cy="65.0" rx="1.28" ry="1.08" fill="#33609a" transform="rotate(-24 28.5 65.0)"/>
<ellipse cx="30.8" cy="64.9" rx="1.67" ry="0.86" fill="#33609a" transform="rotate(15 30.8 64.9)"/>
<ellipse cx="32.1" cy="65.3" rx="1.36" ry="0.72" fill="#33609a" transform="rotate(25 32.1 65.3)"/>
<ellipse cx="34.6" cy="64.8" rx="1.79" ry="0.72" fill="#33609a" transform="rotate(19 34.6 64.8)"/>
<ellipse cx="39.3" cy="63.4" rx="1.24" ry="0.76" fill="#33609a" transform="rotate(25 39.3 63.4)"/>
<ellipse cx="42.2" cy="63.2" rx="1.61" ry="1.00" fill="#33609a" transform="rotate(-23 42.2 63.2)"/>
<ellipse cx="41.1" cy="61.6" rx="1.54" ry="0.77" fill="#33609a" transform="rotate(-63 41.1 61.6)"/>
<ellipse cx="42.8" cy="61.2" rx="1.70" ry="0.78" fill="#33609a" transform="rotate(-71 42.8 61.2)"/>
<ellipse cx="46.9" cy="58.5" rx="1.81" ry="1.06" fill="#33609a" transform="rotate(-7 46.9 58.5)"/>
<ellipse cx="8.1" cy="76.7" rx="1.79" ry="0.95" fill="#33609a" transform="rotate(19 8.1 76.7)"/>
<ellipse cx="10.4" cy="78.5" rx="1.64" ry="0.76" fill="#33609a" transform="rotate(-13 10.4 78.5)"/>
<ellipse cx="11.0" cy="77.8" rx="1.30" ry="1.05" fill="#33609a" transform="rotate(-8 11.0 77.8)"/>
<ellipse cx="14.3" cy="75.6" rx="1.79" ry="0.83" fill="#33609a" transform="rotate(-27 14.3 75.6)"/>
<ellipse cx="16.3" cy="75.8" rx="1.28" ry="1.09" fill="#33609a" transform="rotate(17 16.3 75.8)"/>
<ellipse cx="19.4" cy="76.6" rx="1.53" ry="0.81" fill="#33609a" transform="rotate(-9 19.4 76.6)"/>
<ellipse cx="19.6" cy="76.1" rx="1.90" ry="1.07" fill="#33609a" transform="rotate(46 19.6 76.1)"/>
<ellipse cx="21.5" cy="78.1" rx="1.71" ry="0.82" fill="#33609a" transform="rotate(-20 21.5 78.1)"/>
<ellipse cx="24.4" cy="78.6" rx="1.30" ry="0.70" fill="#33609a" transform="rotate(0 24.4 78.6)"/>
<ellipse cx="27.7" cy="76.9" rx="1.84" ry="0.79" fill="#33609a" transform="rotate(7 27.7 76.9)"/>
<ellipse cx="28.0" cy="77.2" rx="1.70" ry="0.78" fill="#33609a" transform="rotate(30 28.0 77.2)"/>
<ellipse cx="28.8" cy="78.8" rx="1.39" ry="0.78" fill="#33609a" transform="rotate(11 28.8 78.8)"/>
<ellipse cx="33.9" cy="80.0" rx="1.34" ry="0.73" fill="#33609a" transform="rotate(17 33.9 80.0)"/>
<ellipse cx="35.2" cy="80.2" rx="1.77" ry="0.83" fill="#33609a" transform="rotate(-20 35.2 80.2)"/>
<ellipse cx="38.9" cy="79.9" rx="1.84" ry="0.89" fill="#33609a" transform="rotate(-23 38.9 79.9)"/>
<ellipse cx="39.0" cy="78.8" rx="1.46" ry="0.77" fill="#33609a" transform="rotate(18 39.0 78.8)"/>
<ellipse cx="41.0" cy="78.1" rx="1.51" ry="0.91" fill="#33609a" transform="rotate(-4 41.0 78.1)"/>
<ellipse cx="42.9" cy="80.6" rx="1.42" ry="0.98" fill="#33609a" transform="rotate(20 42.9 80.6)"/>
<ellipse cx="45.6" cy="77.9" rx="1.87" ry="0.90" fill="#33609a" transform="rotate(20 45.6 77.9)"/>
<ellipse cx="47.1" cy="79.2" rx="1.88" ry="0.79" fill="#33609a" transform="rotate(-39 47.1 79.2)"/>
<ellipse cx="35.7" cy="59.6" rx="1.22" ry="0.74" fill="#33609a" transform="rotate(118 35.7 59.6)"/>
<ellipse cx="35.7" cy="61.9" rx="1.60" ry="0.91" fill="#33609a" transform="rotate(103 35.7 61.9)"/>
<ellipse cx="35.2" cy="66.6" rx="1.23" ry="0.75" fill="#33609a" transform="rotate(111 35.2 66.6)"/>
<ellipse cx="36.3" cy="66.3" rx="1.48" ry="0.75" fill="#33609a" transform="rotate(69 36.3 66.3)"/>
<ellipse cx="37.2" cy="68.1" rx="1.72" ry="0.77" fill="#33609a" transform="rotate(101 37.2 68.1)"/>
<ellipse cx="38.1" cy="71.3" rx="1.79" ry="0.91" fill="#33609a" transform="rotate(63 38.1 71.3)"/>
<ellipse cx="38.5" cy="73.7" rx="1.37" ry="0.83" fill="#33609a" transform="rotate(57 38.5 73.7)"/>
<ellipse cx="39.5" cy="75.8" rx="1.77" ry="1.04" fill="#33609a" transform="rotate(97 39.5 75.8)"/>
<ellipse cx="38.5" cy="77.6" rx="1.37" ry="0.87" fill="#33609a" transform="rotate(99 38.5 77.6)"/>
<ellipse cx="39.3" cy="79.4" rx="1.50" ry="0.90" fill="#33609a" transform="rotate(38 39.3 79.4)"/>
<ellipse cx="38.9" cy="81.5" rx="1.86" ry="0.95" fill="#33609a" transform="rotate(40 38.9 81.5)"/>
<ellipse cx="44.8" cy="82.6" rx="1.65" ry="0.81" fill="#33609a" transform="rotate(-12 44.8 82.6)"/>
<ellipse cx="44.6" cy="82.1" rx="1.63" ry="0.80" fill="#33609a" transform="rotate(50 44.6 82.1)"/>
<ellipse cx="46.8" cy="84.1" rx="1.41" ry="0.96" fill="#33609a" transform="rotate(6 46.8 84.1)"/>
<ellipse cx="48.5" cy="84.3" rx="1.39" ry="0.89" fill="#33609a" transform="rotate(-44 48.5 84.3)"/>
<ellipse cx="49.4" cy="79.2" rx="1.41" ry="0.86" fill="#33609a" transform="rotate(-71 49.4 79.2)"/>
<ellipse cx="51.0" cy="77.9" rx="1.79" ry="0.94" fill="#33609a" transform="rotate(-42 51.0 77.9)"/>
<ellipse cx="53.6" cy="75.9" rx="1.52" ry="0.92" fill="#33609a" transform="rotate(-70 53.6 75.9)"/>
<ellipse cx="53.2" cy="74.2" rx="1.36" ry="0.90" fill="#33609a" transform="rotate(-102 53.2 74.2)"/>
<ellipse cx="53.8" cy="71.7" rx="1.80" ry="0.80" fill="#33609a" transform="rotate(-95 53.8 71.7)"/>
<ellipse cx="53.7" cy="70.2" rx="1.41" ry="1.01" fill="#33609a" transform="rotate(-50 53.7 70.2)"/>
<ellipse cx="52.4" cy="70.9" rx="1.24" ry="0.86" fill="#33609a" transform="rotate(-88 52.4 70.9)"/>
<ellipse cx="54.3" cy="65.9" rx="1.87" ry="1.00" fill="#33609a" transform="rotate(-136 54.3 65.9)"/>
<ellipse cx="52.3" cy="65.2" rx="1.63" ry="1.04" fill="#33609a" transform="rotate(-104 52.3 65.2)"/>
<ellipse cx="51.2" cy="63.1" rx="1.73" ry="0.89" fill="#33609a" transform="rotate(-100 51.2 63.1)"/>
<ellipse cx="50.9" cy="61.8" rx="1.81" ry="0.70" fill="#33609a" transform="rotate(-143 50.9 61.8)"/>
<ellipse cx="52.1" cy="64.9" rx="1.60" ry="0.87" fill="#33609a" transform="rotate(71 52.1 64.9)"/>
<ellipse cx="54.5" cy="66.6" rx="1.52" ry="0.88" fill="#33609a" transform="rotate(30 54.5 66.6)"/>
<ellipse cx="54.1" cy="67.0" rx="1.47" ry="0.83" fill="#33609a" transform="rotate(43 54.1 67.0)"/>
<ellipse cx="57.6" cy="68.7" rx="1.33" ry="0.82" fill="#33609a" transform="rotate(35 57.6 68.7)"/>
<ellipse cx="57.2" cy="69.4" rx="1.84" ry="0.83" fill="#33609a" transform="rotate(10 57.2 69.4)"/>
<ellipse cx="60.9" cy="73.3" rx="1.50" ry="1.06" fill="#33609a" transform="rotate(25 60.9 73.3)"/>
<ellipse cx="58.7" cy="72.3" rx="1.84" ry="1.01" fill="#33609a" transform="rotate(46 58.7 72.3)"/>
<ellipse cx="11.4" cy="83.6" rx="1.68" ry="0.86" fill="#33609a" transform="rotate(-35 11.4 83.6)"/>
<ellipse cx="11.4" cy="82.2" rx="1.67" ry="0.91" fill="#33609a" transform="rotate(-5 11.4 82.2)"/>
<ellipse cx="11.9" cy="81.5" rx="1.60" ry="1.05" fill="#33609a" transform="rotate(-32 11.9 81.5)"/>
<ellipse cx="15.1" cy="79.4" rx="1.90" ry="0.84" fill="#33609a" transform="rotate(-28 15.1 79.4)"/>
<ellipse cx="17.3" cy="78.3" rx="1.88" ry="1.03" fill="#33609a" transform="rotate(-26 17.3 78.3)"/>
<ellipse cx="17.1" cy="80.1" rx="1.77" ry="1.10" fill="#33609a" transform="rotate(-0 17.1 80.1)"/>
<ellipse cx="20.9" cy="77.1" rx="1.56" ry="0.90" fill="#33609a" transform="rotate(-28 20.9 77.1)"/>
<ellipse cx="20.7" cy="78.7" rx="1.45" ry="1.10" fill="#33609a" transform="rotate(38 20.7 78.7)"/>
<ellipse cx="23.0" cy="79.7" rx="1.41" ry="0.98" fill="#33609a" transform="rotate(51 23.0 79.7)"/>
<ellipse cx="24.6" cy="81.5" rx="1.67" ry="0.78" fill="#33609a" transform="rotate(37 24.6 81.5)"/>
<ellipse cx="28.2" cy="81.4" rx="1.57" ry="1.10" fill="#33609a" transform="rotate(41 28.2 81.4)"/>
<ellipse cx="28.9" cy="82.6" rx="1.73" ry="0.74" fill="#33609a" transform="rotate(54 28.9 82.6)"/>
<ellipse cx="28.4" cy="84.9" rx="1.63" ry="1.02" fill="#33609a" transform="rotate(101 28.4 84.9)"/>
<ellipse cx="28.3" cy="87.5" rx="1.70" ry="0.84" fill="#33609a" transform="rotate(66 28.3 87.5)"/>
<ellipse cx="29.5" cy="87.5" rx="1.61" ry="0.84" fill="#33609a" transform="rotate(107 29.5 87.5)"/>
<ellipse cx="38.6" cy="75.6" rx="1.61" ry="1.08" fill="#33609a" transform="rotate(65 38.6 75.6)"/>
<ellipse cx="40.9" cy="77.4" rx="1.85" ry="1.04" fill="#33609a" transform="rotate(5 40.9 77.4)"/>
<ellipse cx="43.2" cy="80.2" rx="1.62" ry="1.08" fill="#33609a" transform="rotate(23 43.2 80.2)"/>
<ellipse cx="45.2" cy="79.8" rx="1.70" ry="0.79" fill="#33609a" transform="rotate(29 45.2 79.8)"/>
<ellipse cx="46.3" cy="81.0" rx="1.37" ry="0.77" fill="#33609a" transform="rotate(6 46.3 81.0)"/>
<ellipse cx="46.3" cy="82.0" rx="1.59" ry="0.75" fill="#33609a" transform="rotate(-29 46.3 82.0)"/>
<ellipse cx="49.3" cy="79.5" rx="1.29" ry="1.03" fill="#33609a" transform="rotate(-45 49.3 79.5)"/>
<ellipse cx="50.3" cy="77.8" rx="1.37" ry="0.71" fill="#33609a" transform="rotate(-71 50.3 77.8)"/>
<ellipse cx="52.7" cy="74.7" rx="1.26" ry="0.81" fill="#33609a" transform="rotate(-42 52.7 74.7)"/>
<ellipse cx="8.0" cy="91.9" rx="1.76" ry="0.76" fill="#33609a" transform="rotate(106 8.0 91.9)"/>
<ellipse cx="10.1" cy="92.8" rx="1.35" ry="1.08" fill="#33609a" transform="rotate(115 10.1 92.8)"/>
<ellipse cx="8.8" cy="95.4" rx="1.69" ry="0.80" fill="#33609a" transform="rotate(57 8.8 95.4)"/>
<ellipse cx="10.3" cy="98.0" rx="1.63" ry="0.79" fill="#33609a" transform="rotate(65 10.3 98.0)"/>
<ellipse cx="9.1" cy="100.4" rx="1.39" ry="1.01" fill="#33609a" transform="rotate(86 9.1 100.4)"/>
<ellipse cx="10.9" cy="101.7" rx="1.47" ry="0.73" fill="#33609a" transform="rotate(69 10.9 101.7)"/>
<ellipse cx="11.7" cy="102.6" rx="1.28" ry="0.92" fill="#33609a" transform="rotate(110 11.7 102.6)"/>
<ellipse cx="10.1" cy="105.4" rx="1.42" ry="0.79" fill="#33609a" transform="rotate(68 10.1 105.4)"/>
<ellipse cx="10.5" cy="107.2" rx="1.84" ry="1.01" fill="#33609a" transform="rotate(92 10.5 107.2)"/>
<ellipse cx="17.7" cy="106.5" rx="1.22" ry="0.97" fill="#33609a" transform="rotate(-54 17.7 106.5)"/>
<ellipse cx="17.3" cy="106.5" rx="1.69" ry="0.80" fill="#33609a" transform="rotate(-27 17.3 106.5)"/>
<ellipse cx="19.1" cy="105.7" rx="1.28" ry="1.07" fill="#33609a" transform="rotate(-61 19.1 105.7)"/>
<ellipse cx="21.6" cy="102.8" rx="1.31" ry="0.78" fill="#33609a" transform="rotate(-71 21.6 102.8)"/>
<ellipse cx="21.4" cy="102.1" rx="1.65" ry="0.77" fill="#33609a" transform="rotate(-52 21.4 102.1)"/>
<ellipse cx="24.8" cy="103.8" rx="1.50" ry="0.97" fill="#33609a" transform="rotate(-3 24.8 103.8)"/>
<ellipse cx="24.0" cy="104.4" rx="1.40" ry="0.72" fill="#33609a" transform="rotate(33 24.0 104.4)"/>
<ellipse cx="29.0" cy="102.7" rx="1.28" ry="1.02" fill="#33609a" transform="rotate(-4 29.0 102.7)"/>
<ellipse cx="30.6" cy="105.3" rx="1.69" ry="0.86" fill="#33609a" transform="rotate(24 30.6 105.3)"/>
<ellipse cx="32.1" cy="106.2" rx="1.86" ry="0.87" fill="#33609a" transform="rotate(24 32.1 106.2)"/>
<ellipse cx="33.1" cy="109.5" rx="1.64" ry="0.88" fill="#33609a" transform="rotate(76 33.1 109.5)"/>
<ellipse cx="33.2" cy="108.7" rx="1.85" ry="0.75" fill="#33609a" transform="rotate(54 33.2 108.7)"/>
<ellipse cx="33.0" cy="112.6" rx="1.38" ry="0.92" fill="#33609a" transform="rotate(84 33.0 112.6)"/>
<ellipse cx="36.2" cy="114.5" rx="1.24" ry="0.84" fill="#33609a" transform="rotate(46 36.2 114.5)"/>
<ellipse cx="35.2" cy="114.7" rx="1.69" ry="0.97" fill="#33609a" transform="rotate(38 35.2 114.7)"/>
<ellipse cx="14.1" cy="97.6" rx="1.86" ry="0.84" fill="#33609a" transform="rotate(91 14.1 97.6)"/>
<ellipse cx="16.0" cy="98.7" rx="1.43" ry="1.03" fill="#33609a" transform="rotate(100 16.0 98.7)"/>
<ellipse cx="15.3" cy="101.5" rx="1.62" ry="0.88" fill="#33609a" transform="rotate(107 15.3 101.5)"/>
<ellipse cx="15.3" cy="104.1" rx="1.45" ry="0.78" fill="#33609a" transform="rotate(80 15.3 104.1)"/>
<ellipse cx="13.5" cy="105.0" rx="1.51" ry="0.75" fill="#33609a" transform="rotate(109 13.5 105.0)"/>
<ellipse cx="14.3" cy="108.1" rx="1.25" ry="0.70" fill="#33609a" transform="rotate(33 14.3 108.1)"/>
<ellipse cx="17.2" cy="110.3" rx="1.89" ry="0.93" fill="#33609a" transform="rotate(72 17.2 110.3)"/>
<ellipse cx="16.5" cy="111.6" rx="1.58" ry="0.70" fill="#33609a" transform="rotate(35 16.5 111.6)"/>
<ellipse cx="19.2" cy="115.5" rx="1.66" ry="0.80" fill="#33609a" transform="rotate(87 19.2 115.5)"/>
<ellipse cx="17.9" cy="114.1" rx="1.79" ry="0.82" fill="#33609a" transform="rotate(76 17.9 114.1)"/>
<ellipse cx="20.8" cy="118.1" rx="1.32" ry="1.01" fill="#33609a" transform="rotate(36 20.8 118.1)"/>
<ellipse cx="24.4" cy="116.8" rx="1.78" ry="0.83" fill="#33609a" transform="rotate(-16 24.4 116.8)"/>
<ellipse cx="24.9" cy="117.1" rx="1.37" ry="0.72" fill="#33609a" transform="rotate(29 24.9 117.1)"/>
<ellipse cx="27.5" cy="118.7" rx="1.83" ry="1.08" fill="#33609a" transform="rotate(20 27.5 118.7)"/>
<ellipse cx="29.0" cy="116.8" rx="1.61" ry="0.73" fill="#33609a" transform="rotate(-8 29.0 116.8)"/>
<ellipse cx="29.6" cy="116.4" rx="1.26" ry="0.72" fill="#33609a" transform="rotate(-31 29.6 116.4)"/>
<ellipse cx="30.5" cy="115.8" rx="1.79" ry="1.04" fill="#33609a" transform="rotate(-98 30.5 115.8)"/>
<ellipse cx="32.5" cy="111.7" rx="1.56" ry="0.87" fill="#33609a" transform="rotate(-52 32.5 111.7)"/>
<ellipse cx="33.1" cy="111.9" rx="1.83" ry="0.77" fill="#33609a" transform="rotate(-41 33.1 111.9)"/>
<ellipse cx="36.9" cy="98.8" rx="1.34" ry="0.73" fill="#33609a" transform="rotate(53 36.9 98.8)"/>
<ellipse cx="37.9" cy="102.0" rx="1.81" ry="1.09" fill="#33609a" transform="rotate(92 37.9 102.0)"/>
<ellipse cx="39.9" cy="104.5" rx="1.67" ry="0.94" fill="#33609a" transform="rotate(33 39.9 104.5)"/>
<ellipse cx="40.1" cy="105.6" rx="1.65" ry="0.82" fill="#33609a" transform="rotate(62 40.1 105.6)"/>
<ellipse cx="42.0" cy="104.6" rx="1.68" ry="0.88" fill="#33609a" transform="rotate(42 42.0 104.6)"/>
<ellipse cx="42.1" cy="106.9" rx="1.49" ry="0.91" fill="#33609a" transform="rotate(-6 42.1 106.9)"/>
<ellipse cx="44.0" cy="105.5" rx="1.82" ry="0.92" fill="#33609a" transform="rotate(-34 44.0 105.5)"/>
<ellipse cx="46.6" cy="105.7" rx="1.57" ry="0.80" fill="#33609a" transform="rotate(-40 46.6 105.7)"/>
<ellipse cx="48.2" cy="105.1" rx="1.28" ry="0.91" fill="#33609a" transform="rotate(-6 48.2 105.1)"/>
<ellipse cx="48.8" cy="105.5" rx="1.51" ry="1.05" fill="#33609a" transform="rotate(-30 48.8 105.5)"/>
<ellipse cx="52.7" cy="106.6" rx="1.89" ry="0.99" fill="#33609a" transform="rotate(-27 52.7 106.6)"/>
<ellipse cx="54.2" cy="105.5" rx="1.87" ry="0.93" fill="#33609a" transform="rotate(-23 54.2 105.5)"/>
<ellipse cx="55.2" cy="106.7" rx="1.37" ry="0.85" fill="#33609a" transform="rotate(-31 55.2 106.7)"/>
<ellipse cx="57.1" cy="104.9" rx="1.70" ry="0.87" fill="#33609a" transform="rotate(7 57.1 104.9)"/>
<ellipse cx="60.8" cy="108.4" rx="1.84" ry="1.05" fill="#33609a" transform="rotate(26 60.8 108.4)"/>
<ellipse cx="61.8" cy="106.9" rx="1.68" ry="1.03" fill="#33609a" transform="rotate(40 61.8 106.9)"/>
<ellipse cx="62.4" cy="108.9" rx="1.71" ry="0.72" fill="#33609a" transform="rotate(53 62.4 108.9)"/>
<ellipse cx="64.4" cy="109.4" rx="1.28" ry="1.07" fill="#33609a" transform="rotate(43 64.4 109.4)"/>
<ellipse cx="66.9" cy="109.1" rx="1.79" ry="0.93" fill="#33609a" transform="rotate(18 66.9 109.1)"/>
<ellipse cx="67.0" cy="109.2" rx="1.33" ry="0.92" fill="#33609a" transform="rotate(43 67.0 109.2)"/>
<ellipse cx="71.4" cy="111.0" rx="1.81" ry="0.92" fill="#33609a" transform="rotate(-3 71.4 111.0)"/>
<ellipse cx="74.7" cy="113.1" rx="1.44" ry="0.76" fill="#33609a" transform="rotate(-42 74.7 113.1)"/>
<ellipse cx="76.6" cy="112.4" rx="1.33" ry="1.03" fill="#33609a" transform="rotate(-40 76.6 112.4)"/>
<ellipse cx="77.6" cy="111.0" rx="1.79" ry="0.86" fill="#33609a" transform="rotate(-32 77.6 111.0)"/>
<ellipse cx="80.9" cy="109.4" rx="1.35" ry="1.06" fill="#33609a" transform="rotate(-20 80.9 109.4)"/>
<ellipse cx="80.7" cy="109.5" rx="1.53" ry="0.93" fill="#33609a" transform="rotate(-18 80.7 109.5)"/>
<ellipse cx="78.0" cy="77.3" rx="1.43" ry="0.71" fill="#33609a" transform="rotate(81 78.0 77.3)"/>
<ellipse cx="80.6" cy="79.6" rx="1.67" ry="0.81" fill="#33609a" transform="rotate(51 80.6 79.6)"/>
<ellipse cx="79.5" cy="82.0" rx="1.57" ry="1.08" fill="#33609a" transform="rotate(81 79.5 82.0)"/>
<ellipse cx="78.9" cy="86.5" rx="1.81" ry="1.01" fill="#33609a" transform="rotate(95 78.9 86.5)"/>
<ellipse cx="81.1" cy="87.2" rx="1.76" ry="1.05" fill="#33609a" transform="rotate(61 81.1 87.2)"/>
<ellipse cx="81.9" cy="89.6" rx="1.72" ry="0.90" fill="#33609a" transform="rotate(94 81.9 89.6)"/>
<ellipse cx="81.1" cy="91.9" rx="1.24" ry="0.83" fill="#33609a" transform="rotate(75 81.1 91.9)"/>
<ellipse cx="83.4" cy="93.2" rx="1.37" ry="0.79" fill="#33609a" transform="rotate(72 83.4 93.2)"/>
<ellipse cx="81.0" cy="93.9" rx="1.52" ry="0.88" fill="#33609a" transform="rotate(108 81.0 93.9)"/>
<ellipse cx="81.9" cy="97.0" rx="1.41" ry="0.82" fill="#33609a" transform="rotate(51 81.9 97.0)"/>
<ellipse cx="83.1" cy="102.0" rx="1.84" ry="0.93" fill="#33609a" transform="rotate(70 83.1 102.0)"/>
<ellipse cx="73.0" cy="76.4" rx="1.45" ry="1.01" fill="#33609a" transform="rotate(115 73.0 76.4)"/>
<ellipse cx="75.7" cy="77.5" rx="1.83" ry="0.81" fill="#33609a" transform="rotate(79 75.7 77.5)"/>
<ellipse cx="73.2" cy="79.4" rx="1.69" ry="0.79" fill="#33609a" transform="rotate(64 73.2 79.4)"/>
<ellipse cx="74.2" cy="83.1" rx="1.65" ry="0.78" fill="#33609a" transform="rotate(106 74.2 83.1)"/>
<ellipse cx="77.1" cy="85.8" rx="1.77" ry="1.05" fill="#33609a" transform="rotate(51 77.1 85.8)"/>
<ellipse cx="74.6" cy="85.7" rx="1.81" ry="0.96" fill="#33609a" transform="rotate(83 74.6 85.7)"/>
<ellipse cx="75.4" cy="89.3" rx="1.65" ry="0.86" fill="#33609a" transform="rotate(96 75.4 89.3)"/>
<ellipse cx="76.2" cy="89.9" rx="1.23" ry="0.95" fill="#33609a" transform="rotate(73 76.2 89.9)"/>
<ellipse cx="76.9" cy="93.0" rx="1.52" ry="0.71" fill="#33609a" transform="rotate(62 76.9 93.0)"/>
<ellipse cx="77.8" cy="97.4" rx="1.63" ry="0.99" fill="#33609a" transform="rotate(48 77.8 97.4)"/>
<ellipse cx="76.4" cy="95.6" rx="1.74" ry="0.74" fill="#33609a" transform="rotate(54 76.4 95.6)"/>
<ellipse cx="44.5" cy="91.8" rx="1.59" ry="0.96" fill="#33609a" transform="rotate(40 44.5 91.8)"/>
<ellipse cx="46.0" cy="93.7" rx="1.70" ry="1.01" fill="#33609a" transform="rotate(17 46.0 93.7)"/>
<ellipse cx="64.5" cy="92.7" rx="1.52" ry="0.81" fill="#33609a" transform="rotate(102 64.5 92.7)"/>
<ellipse cx="67.1" cy="92.1" rx="1.53" ry="0.96" fill="#33609a" transform="rotate(34 67.1 92.1)"/>
<ellipse cx="66.1" cy="97.2" rx="1.73" ry="0.74" fill="#33609a" transform="rotate(49 66.1 97.2)"/>
<ellipse cx="65.6" cy="94.7" rx="1.59" ry="0.77" fill="#33609a" transform="rotate(69 65.6 94.7)"/>
<ellipse cx="58.3" cy="118.0" rx="1.72" ry="1.07" fill="#33609a" transform="rotate(-37 58.3 118.0)"/>
<ellipse cx="57.7" cy="119.9" rx="1.89" ry="0.90" fill="#33609a" transform="rotate(-32 57.7 119.9)"/>
<ellipse cx="61.7" cy="119.2" rx="1.43" ry="1.06" fill="#33609a" transform="rotate(-17 61.7 119.2)"/>
<ellipse cx="64.0" cy="116.6" rx="1.48" ry="1.05" fill="#33609a" transform="rotate(10 64.0 116.6)"/>
<ellipse cx="65.9" cy="117.7" rx="1.86" ry="0.95" fill="#33609a" transform="rotate(29 65.9 117.7)"/>
<ellipse cx="67.8" cy="117.2" rx="1.36" ry="0.78" fill="#33609a" transform="rotate(-5 67.8 117.2)"/>
<ellipse cx="72.5" cy="117.9" rx="1.35" ry="0.93" fill="#33609a" transform="rotate(57 72.5 117.9)"/>
<ellipse cx="73.9" cy="120.0" rx="1.73" ry="1.03" fill="#33609a" transform="rotate(6 73.9 120.0)"/>
<ellipse cx="74.3" cy="119.7" rx="1.31" ry="0.97" fill="#33609a" transform="rotate(49 74.3 119.7)"/>
<ellipse cx="77.1" cy="121.0" rx="1.35" ry="1.05" fill="#33609a" transform="rotate(49 77.1 121.0)"/>
<ellipse cx="61.6" cy="81.6" rx="1.80" ry="1.10" fill="#33609a" transform="rotate(11 61.6 81.6)"/>
<ellipse cx="61.1" cy="80.5" rx="1.21" ry="1.06" fill="#33609a" transform="rotate(67 61.1 80.5)"/>
<ellipse cx="65.1" cy="81.6" rx="1.68" ry="0.74" fill="#33609a" transform="rotate(11 65.1 81.6)"/>
<ellipse cx="73.8" cy="65.4" rx="1.89" ry="0.71" fill="#33609a" transform="rotate(83 73.8 65.4)"/>
<ellipse cx="74.6" cy="67.1" rx="1.55" ry="0.79" fill="#33609a" transform="rotate(24 74.6 67.1)"/>
<ellipse cx="74.0" cy="67.3" rx="1.42" ry="1.05" fill="#33609a" transform="rotate(91 74.0 67.3)"/>
<ellipse cx="75.9" cy="69.1" rx="1.33" ry="0.97" fill="#33609a" transform="rotate(103 75.9 69.1)"/>
<ellipse cx="76.0" cy="72.3" rx="1.45" ry="0.90" fill="#33609a" transform="rotate(81 76.0 72.3)"/>
<ellipse cx="73.6" cy="74.9" rx="1.82" ry="0.99" fill="#33609a" transform="rotate(141 73.6 74.9)"/>
<ellipse cx="25.5" cy="117.6" rx="1.23" ry="0.90" fill="#33609a" transform="rotate(4 25.5 117.6)"/>
<ellipse cx="29.0" cy="119.4" rx="1.68" ry="0.96" fill="#33609a" transform="rotate(-1 29.0 119.4)"/>
<ellipse cx="31.2" cy="122.0" rx="1.81" ry="0.99" fill="#33609a" transform="rotate(67 31.2 122.0)"/>
<ellipse cx="32.2" cy="121.8" rx="1.47" ry="0.85" fill="#33609a" transform="rotate(40 32.2 121.8)"/>
<ellipse cx="33.7" cy="123.9" rx="1.63" ry="1.07" fill="#33609a" transform="rotate(-28 33.7 123.9)"/>
<ellipse cx="36.9" cy="122.2" rx="1.34" ry="0.75" fill="#33609a" transform="rotate(-11 36.9 122.2)"/>
<ellipse cx="40.6" cy="124.3" rx="1.69" ry="0.83" fill="#33609a" transform="rotate(-24 40.6 124.3)"/>
<ellipse cx="63.1" cy="30.4" rx="1.20" ry="1.00" fill="#33609a" transform="rotate(78 63.1 30.4)"/>
<ellipse cx="64.8" cy="33.1" rx="1.36" ry="0.95" fill="#33609a" transform="rotate(80 64.8 33.1)"/>
<ellipse cx="65.7" cy="34.8" rx="1.57" ry="0.95" fill="#33609a" transform="rotate(38 65.7 34.8)"/>
<ellipse cx="66.9" cy="35.9" rx="1.36" ry="0.95" fill="#33609a" transform="rotate(48 66.9 35.9)"/>
<ellipse cx="69.8" cy="35.5" rx="1.57" ry="0.89" fill="#33609a" transform="rotate(-21 69.8 35.5)"/>
<ellipse cx="69.3" cy="35.5" rx="1.57" ry="0.91" fill="#33609a" transform="rotate(-35 69.3 35.5)"/>
<ellipse cx="78.2" cy="40.6" rx="1.52" ry="0.96" fill="#33609a" transform="rotate(79 78.2 40.6)"/>
<ellipse cx="81.7" cy="44.8" rx="1.47" ry="1.03" fill="#33609a" transform="rotate(24 81.7 44.8)"/>
<ellipse cx="80.6" cy="44.5" rx="1.27" ry="0.84" fill="#33609a" transform="rotate(39 80.6 44.5)"/>
<ellipse cx="59.7" cy="96.5" rx="1.48" ry="1.10" fill="#33609a" transform="rotate(75 59.7 96.5)"/>
<ellipse cx="59.0" cy="98.3" rx="1.73" ry="0.76" fill="#33609a" transform="rotate(125 59.0 98.3)"/>
<ellipse cx="58.2" cy="100.4" rx="1.46" ry="0.84" fill="#33609a" transform="rotate(86 58.2 100.4)"/>
<ellipse cx="56.8" cy="100.8" rx="1.24" ry="0.77" fill="#33609a" transform="rotate(109 56.8 100.8)"/>
<ellipse cx="56.7" cy="86.2" rx="1.78" ry="0.74" fill="#33609a" transform="rotate(8 56.7 86.2)"/>
<ellipse cx="60.4" cy="86.7" rx="1.75" ry="0.95" fill="#33609a" transform="rotate(21 60.4 86.7)"/>
<ellipse cx="59.3" cy="88.2" rx="1.70" ry="0.82" fill="#33609a" transform="rotate(17 59.3 88.2)"/>
<ellipse cx="63.3" cy="90.4" rx="1.47" ry="0.93" fill="#33609a" transform="rotate(16 63.3 90.4)"/>
<ellipse cx="64.9" cy="92.4" rx="1.46" ry="0.97" fill="#33609a" transform="rotate(41 64.9 92.4)"/>
<ellipse cx="65.3" cy="92.1" rx="1.57" ry="0.90" fill="#33609a" transform="rotate(18 65.3 92.1)"/>
<ellipse cx="70.6" cy="91.4" rx="1.52" ry="0.88" fill="#33609a" transform="rotate(33 70.6 91.4)"/>
<ellipse cx="71.4" cy="93.8" rx="1.51" ry="0.90" fill="#33609a" transform="rotate(54 71.4 93.8)"/>
<ellipse cx="27.8" cy="61.3" rx="1.48" ry="0.72" fill="#33609a" transform="rotate(62 27.8 61.3)"/>
<ellipse cx="28.7" cy="63.4" rx="1.28" ry="0.79" fill="#33609a" transform="rotate(64 28.7 63.4)"/>
<ellipse cx="30.1" cy="61.8" rx="1.73" ry="0.93" fill="#33609a" transform="rotate(16 30.1 61.8)"/>
<ellipse cx="31.2" cy="65.3" rx="1.24" ry="0.98" fill="#33609a" transform="rotate(44 31.2 65.3)"/>
<ellipse cx="33.1" cy="68.2" rx="1.81" ry="0.76" fill="#33609a" transform="rotate(56 33.1 68.2)"/>
<ellipse cx="34.7" cy="66.2" rx="1.39" ry="0.80" fill="#33609a" transform="rotate(68 34.7 66.2)"/>
<ellipse cx="35.8" cy="70.2" rx="1.56" ry="0.87" fill="#33609a" transform="rotate(38 35.8 70.2)"/>
<ellipse cx="39.5" cy="96.2" rx="1.80" ry="0.80" fill="#33609a" transform="rotate(61 39.5 96.2)"/>
<ellipse cx="40.4" cy="96.6" rx="1.52" ry="0.90" fill="#33609a" transform="rotate(31 40.4 96.6)"/>
<ellipse cx="43.4" cy="99.2" rx="1.84" ry="0.92" fill="#33609a" transform="rotate(19 43.4 99.2)"/>
<ellipse cx="44.0" cy="98.9" rx="1.60" ry="0.83" fill="#33609a" transform="rotate(33 44.0 98.9)"/>
<ellipse cx="47.5" cy="99.2" rx="1.76" ry="0.94" fill="#33609a" transform="rotate(1 47.5 99.2)"/>
<ellipse cx="50.3" cy="99.1" rx="1.24" ry="0.87" fill="#33609a" transform="rotate(12 50.3 99.1)"/>
<ellipse cx="49.8" cy="99.8" rx="1.62" ry="0.77" fill="#33609a" transform="rotate(-44 49.8 99.8)"/>
<ellipse cx="54.0" cy="99.0" rx="1.67" ry="0.97" fill="#33609a" transform="rotate(-14 54.0 99.0)"/>
<ellipse cx="53.7" cy="99.5" rx="1.84" ry="0.78" fill="#33609a" transform="rotate(9 53.7 99.5)"/>
<ellipse cx="54.9" cy="100.4" rx="1.49" ry="0.96" fill="#33609a" transform="rotate(65 54.9 100.4)"/>
<ellipse cx="59.8" cy="101.6" rx="1.24" ry="0.98" fill="#33609a" transform="rotate(10 59.8 101.6)"/>
<ellipse cx="65.2" cy="39.4" rx="1.61" ry="0.83" fill="#33609a" transform="rotate(15 65.2 39.4)"/>
<ellipse cx="66.0" cy="43.4" rx="1.79" ry="0.76" fill="#33609a" transform="rotate(21 66.0 43.4)"/>
<ellipse cx="71.1" cy="43.4" rx="1.47" ry="0.96" fill="#33609a" transform="rotate(1 71.1 43.4)"/>
<ellipse cx="46.8" cy="42.4" rx="1.3" ry="1.1" fill="#3a6aa8" opacity="0.85"/>
<ellipse cx="50.8" cy="41.4" rx="1.9" ry="0.9" fill="#3a6aa8" opacity="0.85"/>
<ellipse cx="51.6" cy="39.0" rx="2.1" ry="1.4" fill="#3a6aa8" opacity="0.85"/>
<ellipse cx="52.5" cy="42.2" rx="1.5" ry="1.0" fill="#3a6aa8" opacity="0.85"/>
<ellipse cx="51.0" cy="42.0" rx="2.1" ry="0.9" fill="#3a6aa8" opacity="0.85"/>
<ellipse cx="48.9" cy="44.9" rx="1.8" ry="1.1" fill="#3a6aa8" opacity="0.85"/>
<ellipse cx="45.7" cy="39.1" rx="1.5" ry="1.3" fill="#3a6aa8" opacity="0.85"/>
<ellipse cx="51.8" cy="39.8" rx="2.1" ry="0.8" fill="#3a6aa8" opacity="0.85"/>
<ellipse cx="49.8" cy="45.7" rx="1.5" ry="1.4" fill="#3a6aa8" opacity="0.85"/>
<ellipse cx="50.3" cy="38.4" rx="1.5" ry="1.1" fill="#3a6aa8" opacity="0.85"/>
<ellipse cx="69.5" cy="55.4" rx="1.4" ry="1.3" fill="#3a6aa8" opacity="0.85"/>
<ellipse cx="70.0" cy="48.7" rx="1.8" ry="0.9" fill="#3a6aa8" opacity="0.85"/>
<ellipse cx="72.5" cy="55.9" rx="1.8" ry="1.1" fill="#3a6aa8" opacity="0.85"/>
<ellipse cx="67.3" cy="53.1" rx="1.3" ry="1.2" fill="#3a6aa8" opacity="0.85"/>
<ellipse cx="68.3" cy="53.8" rx="1.6" ry="1.0" fill="#3a6aa8" opacity="0.85"/>
<ellipse cx="73.6" cy="49.6" rx="1.4" ry="1.4" fill="#3a6aa8" opacity="0.85"/>
<ellipse cx="70.3" cy="56.4" rx="2.1" ry="1.1" fill="#3a6aa8" opacity="0.85"/>
<ellipse cx="68.5" cy="48.9" rx="2.1" ry="0.9" fill="#3a6aa8" opacity="0.85"/>
<ellipse cx="72.0" cy="53.4" rx="1.3" ry="1.1" fill="#3a6aa8" opacity="0.85"/>
<ellipse cx="68.6" cy="53.4" rx="1.7" ry="1.0" fill="#3a6aa8" opacity="0.85"/>
<ellipse cx="69.0" cy="52.0" rx="1.4" ry="0.9" fill="#3a6aa8" opacity="0.85"/>
<ellipse cx="69.4" cy="56.7" rx="1.7" ry="1.3" fill="#3a6aa8" opacity="0.85"/>
<ellipse cx="7.1" cy="121.5" rx="1.7" ry="1.3" fill="#3a6aa8" opacity="0.85"/>
<ellipse cx="11.6" cy="119.5" rx="1.4" ry="1.3" fill="#3a6aa8" opacity="0.85"/>
<ellipse cx="8.2" cy="116.1" rx="1.2" ry="1.0" fill="#3a6aa8" opacity="0.85"/>
<ellipse cx="11.1" cy="116.3" rx="2.1" ry="0.9" fill="#3a6aa8" opacity="0.85"/>
<ellipse cx="11.6" cy="115.9" rx="1.8" ry="1.3" fill="#3a6aa8" opacity="0.85"/>
<ellipse cx="12.7" cy="114.5" rx="1.4" ry="1.2" fill="#3a6aa8" opacity="0.85"/>
<ellipse cx="14.9" cy="114.3" rx="1.8" ry="1.2" fill="#3a6aa8" opacity="0.85"/>
<ellipse cx="13.5" cy="116.7" rx="2.0" ry="1.1" fill="#3a6aa8" opacity="0.85"/>
<ellipse cx="14.4" cy="114.1" rx="2.1" ry="1.0" fill="#3a6aa8" opacity="0.85"/>
<ellipse cx="10.3" cy="114.7" rx="1.4" ry="1.2" fill="#3a6aa8" opacity="0.85"/>
<ellipse cx="12.4" cy="115.2" rx="1.5" ry="0.9" fill="#3a6aa8" opacity="0.85"/>
<ellipse cx="8.6" cy="115.8" rx="1.5" ry="1.4" fill="#3a6aa8" opacity="0.85"/>
<ellipse cx="15.0" cy="120.3" rx="1.7" ry="1.1" fill="#3a6aa8" opacity="0.85"/>
<ellipse cx="13.2" cy="121.3" rx="2.0" ry="1.2" fill="#3a6aa8" opacity="0.85"/>
<ellipse cx="9.2" cy="96.8" rx="2.0" ry="1.3" fill="#3a6aa8" opacity="0.85"/>
<ellipse cx="8.6" cy="97.3" rx="1.5" ry="0.9" fill="#3a6aa8" opacity="0.85"/>
<ellipse cx="13.8" cy="97.0" rx="1.9" ry="0.9" fill="#3a6aa8" opacity="0.85"/>
<ellipse cx="13.0" cy="98.6" rx="2.1" ry="1.2" fill="#3a6aa8" opacity="0.85"/>
<ellipse cx="13.0" cy="97.8" rx="1.8" ry="1.1" fill="#3a6aa8" opacity="0.85"/>
<ellipse cx="13.0" cy="97.7" rx="2.1" ry="1.0" fill="#3a6aa8" opacity="0.85"/>
<ellipse cx="53.7" cy="106.3" rx="2.1" ry="0.9" fill="#3a6aa8" opacity="0.85"/>
<ellipse cx="53.7" cy="108.3" rx="1.5" ry="1.3" fill="#3a6aa8" opacity="0.85"/>
<ellipse cx="47.9" cy="103.6" rx="1.7" ry="0.9" fill="#3a6aa8" opacity="0.85"/>
<ellipse cx="49.9" cy="109.3" rx="1.9" ry="1.2" fill="#3a6aa8" opacity="0.85"/>
<ellipse cx="49.1" cy="108.3" rx="2.0" ry="1.2" fill="#3a6aa8" opacity="0.85"/>
<ellipse cx="53.5" cy="108.6" rx="1.6" ry="0.9" fill="#3a6aa8" opacity="0.85"/>
<ellipse cx="83.9" cy="114.0" rx="1.5" ry="1.2" fill="#3a6aa8" opacity="0.85"/>
<ellipse cx="85.0" cy="113.8" rx="1.2" ry="1.1" fill="#3a6aa8" opacity="0.85"/>
<ellipse cx="80.1" cy="109.7" rx="2.0" ry="1.1" fill="#3a6aa8" opacity="0.85"/>
<ellipse cx="83.6" cy="111.7" rx="1.5" ry="0.9" fill="#3a6aa8" opacity="0.85"/>
<ellipse cx="82.1" cy="114.1" rx="1.8" ry="1.0" fill="#3a6aa8" opacity="0.85"/>
<ellipse cx="14.7" cy="51.2" rx="1.2" ry="0.8" fill="#4a6f9e" opacity="0.75" transform="rotate(126 14.7 51.2)"/>
<ellipse cx="69.3" cy="35.6" rx="0.9" ry="0.8" fill="#4a6f9e" opacity="0.75" transform="rotate(123 69.3 35.6)"/>
<ellipse cx="22.0" cy="51.2" rx="1.1" ry="0.6" fill="#4a6f9e" opacity="0.75" transform="rotate(172 22.0 51.2)"/>
<ellipse cx="75.6" cy="86.5" rx="1.1" ry="0.7" fill="#4a6f9e" opacity="0.75" transform="rotate(161 75.6 86.5)"/>
<ellipse cx="80.6" cy="75.7" rx="1.0" ry="0.8" fill="#4a6f9e" opacity="0.75" transform="rotate(178 80.6 75.7)"/>
<ellipse cx="20.3" cy="77.8" rx="1.0" ry="0.9" fill="#4a6f9e" opacity="0.75" transform="rotate(0 20.3 77.8)"/>
<ellipse cx="42.5" cy="107.2" rx="1.1" ry="0.5" fill="#4a6f9e" opacity="0.75" transform="rotate(45 42.5 107.2)"/>
<ellipse cx="50.0" cy="112.7" rx="1.1" ry="0.9" fill="#4a6f9e" opacity="0.75" transform="rotate(92 50.0 112.7)"/>
<ellipse cx="75.9" cy="92.3" rx="1.3" ry="0.7" fill="#4a6f9e" opacity="0.75" transform="rotate(14 75.9 92.3)"/>
<ellipse cx="80.8" cy="60.6" rx="1.3" ry="0.7" fill="#4a6f9e" opacity="0.75" transform="rotate(119 80.8 60.6)"/>
<ellipse cx="47.7" cy="93.4" rx="1.2" ry="0.6" fill="#4a6f9e" opacity="0.75" transform="rotate(163 47.7 93.4)"/>
<ellipse cx="82.2" cy="28.9" rx="1.3" ry="0.7" fill="#4a6f9e" opacity="0.75" transform="rotate(150 82.2 28.9)"/>
<ellipse cx="42.0" cy="101.1" rx="1.3" ry="0.8" fill="#4a6f9e" opacity="0.75" transform="rotate(160 42.0 101.1)"/>
<ellipse cx="10.7" cy="56.8" rx="1.5" ry="0.9" fill="#4a6f9e" opacity="0.75" transform="rotate(25 10.7 56.8)"/>
<ellipse cx="19.0" cy="84.1" rx="0.9" ry="0.7" fill="#4a6f9e" opacity="0.75" transform="rotate(104 19.0 84.1)"/>
<ellipse cx="64.8" cy="89.7" rx="1.4" ry="0.6" fill="#4a6f9e" opacity="0.75" transform="rotate(51 64.8 89.7)"/>
<ellipse cx="49.4" cy="66.8" rx="1.3" ry="0.8" fill="#4a6f9e" opacity="0.75" transform="rotate(176 49.4 66.8)"/>
<ellipse cx="59.4" cy="62.6" rx="1.3" ry="0.8" fill="#4a6f9e" opacity="0.75" transform="rotate(173 59.4 62.6)"/>
<ellipse cx="29.1" cy="39.8" rx="1.4" ry="0.8" fill="#4a6f9e" opacity="0.75" transform="rotate(104 29.1 39.8)"/>
<ellipse cx="34.4" cy="37.5" rx="1.4" ry="0.6" fill="#4a6f9e" opacity="0.75" transform="rotate(93 34.4 37.5)"/>
<ellipse cx="64.1" cy="40.8" rx="0.9" ry="0.6" fill="#4a6f9e" opacity="0.75" transform="rotate(56 64.1 40.8)"/>
<ellipse cx="37.1" cy="123.6" rx="1.0" ry="0.6" fill="#4a6f9e" opacity="0.75" transform="rotate(173 37.1 123.6)"/>
</g>
</g>
<g clip-path="url(#f2)">
<rect x="88.00" y="22.00" width="79.50" height="106.50" fill="#e7e0dc"/>
<g filter="url(#bl3)">
<ellipse cx="101.2" cy="95.8" rx="4.4" ry="2.9" fill="#f0dcc8" opacity="0.55"/>
<ellipse cx="151.4" cy="108.4" rx="4.5" ry="3.0" fill="#ebcfb2" opacity="0.55"/>
<ellipse cx="88.3" cy="61.7" rx="3.2" ry="4.1" fill="#efd6c0" opacity="0.55"/>
<ellipse cx="106.6" cy="46.9" rx="4.3" ry="4.5" fill="#eed3b8" opacity="0.55"/>
<ellipse cx="149.7" cy="65.5" rx="3.1" ry="3.2" fill="#efd6c0" opacity="0.55"/>
<ellipse cx="127.8" cy="34.4" rx="3.1" ry="4.0" fill="#f0dcc8" opacity="0.55"/>
<ellipse cx="95.1" cy="108.5" rx="4.4" ry="3.6" fill="#eed3b8" opacity="0.55"/>
<ellipse cx="115.4" cy="73.9" rx="5.0" ry="3.4" fill="#ebcfb2" opacity="0.55"/>
<ellipse cx="153.6" cy="30.0" rx="3.6" ry="4.4" fill="#ebcfb2" opacity="0.55"/>
<ellipse cx="159.5" cy="102.8" rx="3.4" ry="3.5" fill="#eed3b8" opacity="0.55"/>
<ellipse cx="154.2" cy="43.5" rx="5.7" ry="3.3" fill="#ebcfb2" opacity="0.55"/>
<ellipse cx="117.2" cy="70.3" rx="4.0" ry="3.5" fill="#efd6c0" opacity="0.55"/>
<ellipse cx="109.3" cy="111.3" rx="5.2" ry="4.5" fill="#ebcfb2" opacity="0.55"/>
<ellipse cx="127.7" cy="74.6" rx="4.7" ry="3.1" fill="#ebcfb2" opacity="0.55"/>
<ellipse cx="166.4" cy="34.1" rx="4.9" ry="4.2" fill="#ebcfb2" opacity="0.55"/>
<ellipse cx="114.6" cy="103.5" rx="3.7" ry="2.8" fill="#f0dcc8" opacity="0.55"/>
<ellipse cx="161.9" cy="40.6" rx="4.1" ry="3.9" fill="#efd6c0" opacity="0.55"/>
<ellipse cx="142.1" cy="118.2" rx="4.2" ry="4.5" fill="#ebcfb2" opacity="0.55"/>
<ellipse cx="164.9" cy="85.2" rx="4.5" ry="3.3" fill="#f0dcc8" opacity="0.55"/>
<ellipse cx="107.8" cy="115.7" rx="4.7" ry="3.4" fill="#ebcfb2" opacity="0.55"/>
<ellipse cx="120.6" cy="101.3" rx="5.5" ry="2.6" fill="#eed3b8" opacity="0.55"/>
<ellipse cx="108.6" cy="53.0" rx="3.7" ry="3.3" fill="#efd6c0" opacity="0.55"/>
<ellipse cx="157.6" cy="91.1" rx="6.0" ry="4.0" fill="#ebcfb2" opacity="0.55"/>
<ellipse cx="126.3" cy="49.0" rx="3.1" ry="2.9" fill="#efd6c0" opacity="0.55"/>
<ellipse cx="155.1" cy="107.1" rx="4.8" ry="3.4" fill="#f0dcc8" opacity="0.55"/>
<ellipse cx="134.5" cy="112.9" rx="3.4" ry="3.7" fill="#f0dcc8" opacity="0.55"/>
<ellipse cx="99.1" cy="99.1" rx="5.1" ry="4.4" fill="#efd6c0" opacity="0.55"/>
<ellipse cx="89.9" cy="85.5" rx="5.6" ry="3.7" fill="#ebcfb2" opacity="0.55"/>
<ellipse cx="108.6" cy="65.4" rx="3.4" ry="2.7" fill="#ebcfb2" opacity="0.55"/>
<ellipse cx="95.5" cy="24.7" rx="5.4" ry="2.6" fill="#efd6c0" opacity="0.55"/>
<ellipse cx="97.5" cy="52.1" rx="4.6" ry="3.1" fill="#f0dcc8" opacity="0.55"/>
<ellipse cx="127.5" cy="45.5" rx="3.5" ry="4.2" fill="#ebcfb2" opacity="0.55"/>
<ellipse cx="104.1" cy="101.6" rx="4.8" ry="3.5" fill="#eed3b8" opacity="0.55"/>
<ellipse cx="147.6" cy="28.1" rx="4.2" ry="4.2" fill="#eed3b8" opacity="0.55"/>
<ellipse cx="119.8" cy="82.7" rx="3.8" ry="3.9" fill="#ebcfb2" opacity="0.55"/>
<ellipse cx="113.1" cy="26.5" rx="3.5" ry="4.0" fill="#efd6c0" opacity="0.55"/>
<ellipse cx="167.2" cy="109.5" rx="5.8" ry="2.7" fill="#efd6c0" opacity="0.55"/>
<ellipse cx="136.1" cy="76.4" rx="5.9" ry="3.1" fill="#f0dcc8" opacity="0.55"/>
<ellipse cx="144.0" cy="78.3" rx="3.2" ry="4.1" fill="#ebcfb2" opacity="0.55"/>
<ellipse cx="166.1" cy="60.0" rx="5.0" ry="3.3" fill="#f0dcc8" opacity="0.55"/>
<ellipse cx="157.4" cy="91.7" rx="4.5" ry="4.4" fill="#efd6c0" opacity="0.55"/>
<ellipse cx="142.4" cy="97.5" rx="4.6" ry="3.3" fill="#efd6c0" opacity="0.55"/>
<ellipse cx="120.1" cy="46.1" rx="5.0" ry="2.6" fill="#eed3b8" opacity="0.55"/>
<ellipse cx="110.0" cy="85.1" rx="5.2" ry="3.4" fill="#efd6c0" opacity="0.55"/>
<ellipse cx="106.9" cy="63.2" rx="3.7" ry="4.3" fill="#efd6c0" opacity="0.55"/>
<ellipse cx="140.3" cy="26.0" rx="4.5" ry="3.9" fill="#ebcfb2" opacity="0.55"/>
<ellipse cx="159.2" cy="105.4" rx="3.7" ry="4.3" fill="#f0dcc8" opacity="0.55"/>
<ellipse cx="118.9" cy="87.8" rx="3.5" ry="2.9" fill="#eed3b8" opacity="0.55"/>
<ellipse cx="158.1" cy="98.7" rx="4.7" ry="2.7" fill="#eed3b8" opacity="0.55"/>
<ellipse cx="112.2" cy="123.0" rx="5.9" ry="4.5" fill="#efd6c0" opacity="0.55"/>
<ellipse cx="101.3" cy="68.4" rx="4.1" ry="3.7" fill="#f0dcc8" opacity="0.55"/>
<ellipse cx="103.1" cy="30.8" rx="4.0" ry="3.0" fill="#eed3b8" opacity="0.55"/>
<ellipse cx="155.6" cy="38.4" rx="3.7" ry="3.9" fill="#ebcfb2" opacity="0.55"/>
<ellipse cx="145.3" cy="38.8" rx="4.4" ry="3.4" fill="#efd6c0" opacity="0.55"/>
<ellipse cx="137.4" cy="52.0" rx="5.0" ry="3.7" fill="#ebcfb2" opacity="0.55"/>
<ellipse cx="95.9" cy="126.3" rx="3.1" ry="4.1" fill="#ebcfb2" opacity="0.55"/>
<ellipse cx="162.8" cy="97.4" rx="3.2" ry="3.7" fill="#eed3b8" opacity="0.55"/>
<ellipse cx="119.9" cy="69.2" rx="3.7" ry="2.5" fill="#efd6c0" opacity="0.55"/>
<ellipse cx="131.6" cy="32.1" rx="3.6" ry="3.2" fill="#f0dcc8" opacity="0.55"/>
<ellipse cx="88.2" cy="39.8" rx="4.6" ry="2.6" fill="#efd6c0" opacity="0.55"/>
<ellipse cx="103.0" cy="65.1" rx="3.7" ry="4.1" fill="#ebcfb2" opacity="0.55"/>
<ellipse cx="155.5" cy="121.0" rx="5.0" ry="2.6" fill="#eed3b8" opacity="0.55"/>
<ellipse cx="122.9" cy="111.1" rx="3.5" ry="3.5" fill="#ebcfb2" opacity="0.55"/>
<ellipse cx="130.1" cy="79.3" rx="4.4" ry="4.1" fill="#efd6c0" opacity="0.55"/>
<ellipse cx="115.0" cy="50.9" rx="3.9" ry="3.8" fill="#f0dcc8" opacity="0.55"/>
<ellipse cx="88.7" cy="108.3" rx="3.6" ry="2.7" fill="#eed3b8" opacity="0.55"/>
<ellipse cx="154.3" cy="60.5" rx="3.2" ry="2.6" fill="#f0dcc8" opacity="0.55"/>
<ellipse cx="127.6" cy="94.8" rx="3.5" ry="2.7" fill="#efd6c0" opacity="0.55"/>
<ellipse cx="162.5" cy="79.6" rx="3.6" ry="2.9" fill="#efd6c0" opacity="0.55"/>
<ellipse cx="164.3" cy="67.3" rx="5.5" ry="2.9" fill="#f0dcc8" opacity="0.55"/>
<ellipse cx="91.2" cy="59.7" rx="3.0" ry="1.6" fill="#c6cadb" opacity="0.75" transform="rotate(114 91.2 59.7)"/>
<ellipse cx="117.5" cy="73.2" rx="3.3" ry="2.2" fill="#b2bed8" opacity="0.75" transform="rotate(145 117.5 73.2)"/>
<ellipse cx="105.4" cy="105.2" rx="3.3" ry="2.5" fill="#c6cadb" opacity="0.75" transform="rotate(96 105.4 105.2)"/>
<ellipse cx="119.2" cy="122.8" rx="2.2" ry="1.9" fill="#a8b5d0" opacity="0.75" transform="rotate(143 119.2 122.8)"/>
<ellipse cx="137.1" cy="87.0" rx="2.4" ry="2.4" fill="#b2bed8" opacity="0.75" transform="rotate(116 137.1 87.0)"/>
<ellipse cx="130.9" cy="116.3" rx="2.8" ry="1.9" fill="#aeb9d3" opacity="0.75" transform="rotate(41 130.9 116.3)"/>
<ellipse cx="124.0" cy="104.1" rx="2.5" ry="2.1" fill="#bfc4d8" opacity="0.75" transform="rotate(164 124.0 104.1)"/>
<ellipse cx="116.2" cy="93.9" rx="3.4" ry="2.4" fill="#bfc4d8" opacity="0.75" transform="rotate(103 116.2 93.9)"/>
<ellipse cx="164.4" cy="102.8" rx="3.1" ry="1.8" fill="#a8b5d0" opacity="0.75" transform="rotate(133 164.4 102.8)"/>
<ellipse cx="130.6" cy="61.6" rx="2.4" ry="2.2" fill="#c6cadb" opacity="0.75" transform="rotate(53 130.6 61.6)"/>
<ellipse cx="137.1" cy="71.7" rx="3.0" ry="1.8" fill="#b2bed8" opacity="0.75" transform="rotate(135 137.1 71.7)"/>
<ellipse cx="122.4" cy="62.5" rx="2.2" ry="2.4" fill="#b2bed8" opacity="0.75" transform="rotate(86 122.4 62.5)"/>
<ellipse cx="104.5" cy="106.4" rx="3.2" ry="2.3" fill="#bfc4d8" opacity="0.75" transform="rotate(106 104.5 106.4)"/>
<ellipse cx="146.5" cy="128.3" rx="2.2" ry="2.3" fill="#b2bed8" opacity="0.75" transform="rotate(26 146.5 128.3)"/>
<ellipse cx="157.3" cy="53.7" rx="2.5" ry="2.3" fill="#b2bed8" opacity="0.75" transform="rotate(35 157.3 53.7)"/>
<ellipse cx="153.0" cy="73.7" rx="3.3" ry="1.7" fill="#b6bfd6" opacity="0.75" transform="rotate(5 153.0 73.7)"/>
<ellipse cx="114.7" cy="59.9" rx="2.9" ry="2.2" fill="#c6cadb" opacity="0.75" transform="rotate(113 114.7 59.9)"/>
<ellipse cx="157.2" cy="102.4" rx="3.1" ry="2.0" fill="#bfc4d8" opacity="0.75" transform="rotate(118 157.2 102.4)"/>
<ellipse cx="98.0" cy="117.7" rx="3.3" ry="1.7" fill="#c6cadb" opacity="0.75" transform="rotate(153 98.0 117.7)"/>
<ellipse cx="112.6" cy="89.8" rx="3.3" ry="1.7" fill="#aeb9d3" opacity="0.75" transform="rotate(135 112.6 89.8)"/>
<ellipse cx="137.4" cy="91.1" rx="2.8" ry="2.2" fill="#c6cadb" opacity="0.75" transform="rotate(37 137.4 91.1)"/>
<ellipse cx="105.4" cy="95.4" rx="2.8" ry="1.6" fill="#bfc4d8" opacity="0.75" transform="rotate(166 105.4 95.4)"/>
<ellipse cx="155.4" cy="52.4" rx="2.7" ry="1.7" fill="#bfc4d8" opacity="0.75" transform="rotate(125 155.4 52.4)"/>
<ellipse cx="158.4" cy="92.1" rx="2.5" ry="2.2" fill="#b6bfd6" opacity="0.75" transform="rotate(179 158.4 92.1)"/>
<ellipse cx="127.0" cy="79.5" rx="3.0" ry="2.2" fill="#c6cadb" opacity="0.75" transform="rotate(67 127.0 79.5)"/>
<ellipse cx="117.3" cy="59.1" rx="2.7" ry="2.1" fill="#b2bed8" opacity="0.75" transform="rotate(114 117.3 59.1)"/>
<ellipse cx="105.9" cy="106.5" rx="3.3" ry="2.4" fill="#b6bfd6" opacity="0.75" transform="rotate(153 105.9 106.5)"/>
<ellipse cx="150.0" cy="118.5" rx="2.8" ry="1.7" fill="#a8b5d0" opacity="0.75" transform="rotate(16 150.0 118.5)"/>
<ellipse cx="151.9" cy="57.0" rx="3.4" ry="2.0" fill="#bfc4d8" opacity="0.75" transform="rotate(54 151.9 57.0)"/>
<ellipse cx="104.1" cy="23.1" rx="2.5" ry="1.7" fill="#aeb9d3" opacity="0.75" transform="rotate(153 104.1 23.1)"/>
<ellipse cx="130.8" cy="34.4" rx="2.3" ry="2.2" fill="#b2bed8" opacity="0.75" transform="rotate(22 130.8 34.4)"/>
<ellipse cx="104.7" cy="23.9" rx="2.9" ry="1.8" fill="#aeb9d3" opacity="0.75" transform="rotate(40 104.7 23.9)"/>
<ellipse cx="122.5" cy="106.4" rx="3.2" ry="2.0" fill="#c6cadb" opacity="0.75" transform="rotate(126 122.5 106.4)"/>
<ellipse cx="164.8" cy="108.3" rx="3.1" ry="1.6" fill="#a8b5d0" opacity="0.75" transform="rotate(64 164.8 108.3)"/>
<ellipse cx="127.9" cy="117.4" rx="2.2" ry="2.2" fill="#c6cadb" opacity="0.75" transform="rotate(87 127.9 117.4)"/>
<ellipse cx="150.3" cy="49.5" rx="2.8" ry="1.7" fill="#b2bed8" opacity="0.75" transform="rotate(130 150.3 49.5)"/>
<ellipse cx="115.3" cy="93.0" rx="3.3" ry="1.9" fill="#a8b5d0" opacity="0.75" transform="rotate(48 115.3 93.0)"/>
<ellipse cx="97.2" cy="84.6" rx="3.2" ry="2.3" fill="#b2bed8" opacity="0.75" transform="rotate(58 97.2 84.6)"/>
<ellipse cx="99.9" cy="55.0" rx="3.0" ry="2.4" fill="#b6bfd6" opacity="0.75" transform="rotate(49 99.9 55.0)"/>
<ellipse cx="91.9" cy="101.8" rx="2.3" ry="2.5" fill="#b2bed8" opacity="0.75" transform="rotate(92 91.9 101.8)"/>
<ellipse cx="105.4" cy="116.5" rx="2.8" ry="1.9" fill="#a8b5d0" opacity="0.75" transform="rotate(36 105.4 116.5)"/>
<ellipse cx="114.4" cy="42.0" rx="2.4" ry="1.6" fill="#b6bfd6" opacity="0.75" transform="rotate(77 114.4 42.0)"/>
<ellipse cx="105.1" cy="114.9" rx="3.1" ry="2.4" fill="#bfc4d8" opacity="0.75" transform="rotate(2 105.1 114.9)"/>
<ellipse cx="165.1" cy="48.6" rx="2.7" ry="1.9" fill="#bfc4d8" opacity="0.75" transform="rotate(95 165.1 48.6)"/>
<ellipse cx="135.5" cy="111.0" rx="2.4" ry="1.9" fill="#a8b5d0" opacity="0.75" transform="rotate(66 135.5 111.0)"/>
<ellipse cx="160.2" cy="91.8" rx="3.1" ry="2.2" fill="#bfc4d8" opacity="0.75" transform="rotate(122 160.2 91.8)"/>
<ellipse cx="165.1" cy="116.1" rx="2.6" ry="2.1" fill="#aeb9d3" opacity="0.75" transform="rotate(129 165.1 116.1)"/>
<ellipse cx="153.7" cy="105.8" rx="3.0" ry="1.8" fill="#a8b5d0" opacity="0.75" transform="rotate(71 153.7 105.8)"/>
<ellipse cx="109.4" cy="107.0" rx="2.5" ry="1.7" fill="#c6cadb" opacity="0.75" transform="rotate(138 109.4 107.0)"/>
<ellipse cx="90.0" cy="44.5" rx="2.8" ry="2.2" fill="#b2bed8" opacity="0.75" transform="rotate(176 90.0 44.5)"/>
<ellipse cx="129.1" cy="125.7" rx="2.7" ry="2.4" fill="#a8b5d0" opacity="0.75" transform="rotate(162 129.1 125.7)"/>
<ellipse cx="149.6" cy="77.6" rx="2.2" ry="1.7" fill="#b6bfd6" opacity="0.75" transform="rotate(25 149.6 77.6)"/>
<ellipse cx="124.3" cy="103.7" rx="2.6" ry="1.8" fill="#b6bfd6" opacity="0.75" transform="rotate(13 124.3 103.7)"/>
<ellipse cx="134.6" cy="91.8" rx="3.1" ry="2.5" fill="#a8b5d0" opacity="0.75" transform="rotate(52 134.6 91.8)"/>
<ellipse cx="132.3" cy="51.9" rx="3.2" ry="2.5" fill="#b6bfd6" opacity="0.75" transform="rotate(126 132.3 51.9)"/>
<ellipse cx="108.6" cy="88.9" rx="2.5" ry="1.9" fill="#bfc4d8" opacity="0.75" transform="rotate(159 108.6 88.9)"/>
<ellipse cx="130.4" cy="91.7" rx="3.0" ry="2.3" fill="#a8b5d0" opacity="0.75" transform="rotate(63 130.4 91.7)"/>
<ellipse cx="110.3" cy="105.8" rx="2.3" ry="2.3" fill="#b6bfd6" opacity="0.75" transform="rotate(174 110.3 105.8)"/>
<ellipse cx="143.5" cy="76.0" rx="2.4" ry="2.1" fill="#b6bfd6" opacity="0.75" transform="rotate(145 143.5 76.0)"/>
<ellipse cx="132.3" cy="112.9" rx="2.4" ry="2.3" fill="#bfc4d8" opacity="0.75" transform="rotate(112 132.3 112.9)"/>
<ellipse cx="95.8" cy="121.4" rx="2.6" ry="2.3" fill="#bfc4d8" opacity="0.75" transform="rotate(74 95.8 121.4)"/>
<ellipse cx="118.7" cy="107.1" rx="3.1" ry="1.8" fill="#bfc4d8" opacity="0.75" transform="rotate(134 118.7 107.1)"/>
<ellipse cx="113.7" cy="54.6" rx="2.4" ry="2.5" fill="#b2bed8" opacity="0.75" transform="rotate(139 113.7 54.6)"/>
<ellipse cx="137.4" cy="118.3" rx="3.0" ry="2.3" fill="#b2bed8" opacity="0.75" transform="rotate(83 137.4 118.3)"/>
<ellipse cx="102.9" cy="87.9" rx="3.3" ry="1.7" fill="#b6bfd6" opacity="0.75" transform="rotate(158 102.9 87.9)"/>
<ellipse cx="145.2" cy="74.1" rx="3.3" ry="2.2" fill="#aeb9d3" opacity="0.75" transform="rotate(147 145.2 74.1)"/>
<ellipse cx="88.7" cy="104.0" rx="3.1" ry="1.6" fill="#bfc4d8" opacity="0.75" transform="rotate(94 88.7 104.0)"/>
<ellipse cx="159.0" cy="115.3" rx="2.7" ry="2.5" fill="#b2bed8" opacity="0.75" transform="rotate(16 159.0 115.3)"/>
<ellipse cx="157.1" cy="106.3" rx="2.4" ry="1.9" fill="#b2bed8" opacity="0.75" transform="rotate(135 157.1 106.3)"/>
<ellipse cx="149.1" cy="46.1" rx="2.4" ry="2.4" fill="#b6bfd6" opacity="0.75" transform="rotate(167 149.1 46.1)"/>
<ellipse cx="140.3" cy="81.7" rx="3.1" ry="1.9" fill="#bfc4d8" opacity="0.75" transform="rotate(71 140.3 81.7)"/>
<ellipse cx="128.9" cy="119.5" rx="2.5" ry="1.9" fill="#a8b5d0" opacity="0.75" transform="rotate(36 128.9 119.5)"/>
<ellipse cx="111.3" cy="111.5" rx="2.5" ry="1.8" fill="#a8b5d0" opacity="0.75" transform="rotate(99 111.3 111.5)"/>
<ellipse cx="133.8" cy="55.9" rx="2.8" ry="2.3" fill="#c6cadb" opacity="0.75" transform="rotate(134 133.8 55.9)"/>
<ellipse cx="138.6" cy="121.3" rx="2.4" ry="2.1" fill="#bfc4d8" opacity="0.75" transform="rotate(37 138.6 121.3)"/>
<ellipse cx="164.8" cy="39.7" rx="3.2" ry="2.0" fill="#a8b5d0" opacity="0.75" transform="rotate(33 164.8 39.7)"/>
<ellipse cx="135.7" cy="50.9" rx="3.2" ry="2.2" fill="#c6cadb" opacity="0.75" transform="rotate(46 135.7 50.9)"/>
<ellipse cx="138.3" cy="34.4" rx="2.3" ry="2.5" fill="#bfc4d8" opacity="0.75" transform="rotate(101 138.3 34.4)"/>
<ellipse cx="101.6" cy="23.2" rx="3.2" ry="2.2" fill="#c6cadb" opacity="0.75" transform="rotate(91 101.6 23.2)"/>
<ellipse cx="139.2" cy="96.7" rx="2.7" ry="2.2" fill="#a8b5d0" opacity="0.75" transform="rotate(153 139.2 96.7)"/>
<ellipse cx="102.4" cy="42.6" rx="2.7" ry="1.8" fill="#a8b5d0" opacity="0.75" transform="rotate(53 102.4 42.6)"/>
<ellipse cx="141.7" cy="128.2" rx="3.2" ry="2.0" fill="#a8b5d0" opacity="0.75" transform="rotate(113 141.7 128.2)"/>
<ellipse cx="134.9" cy="117.6" rx="2.5" ry="2.5" fill="#b6bfd6" opacity="0.75" transform="rotate(121 134.9 117.6)"/>
<ellipse cx="130.4" cy="77.0" rx="3.3" ry="1.8" fill="#bfc4d8" opacity="0.75" transform="rotate(122 130.4 77.0)"/>
<ellipse cx="102.9" cy="57.8" rx="2.9" ry="1.9" fill="#aeb9d3" opacity="0.75" transform="rotate(31 102.9 57.8)"/>
<ellipse cx="130.1" cy="120.3" rx="3.3" ry="2.4" fill="#c6cadb" opacity="0.75" transform="rotate(15 130.1 120.3)"/>
<ellipse cx="126.5" cy="114.0" rx="3.4" ry="1.9" fill="#c6cadb" opacity="0.75" transform="rotate(33 126.5 114.0)"/>
<ellipse cx="112.2" cy="106.1" rx="3.3" ry="1.9" fill="#aeb9d3" opacity="0.75" transform="rotate(26 112.2 106.1)"/>
<ellipse cx="138.1" cy="39.6" rx="3.0" ry="1.8" fill="#b2bed8" opacity="0.75" transform="rotate(62 138.1 39.6)"/>
<ellipse cx="129.1" cy="41.2" rx="2.2" ry="2.5" fill="#b6bfd6" opacity="0.75" transform="rotate(176 129.1 41.2)"/>
<ellipse cx="152.0" cy="58.1" rx="2.8" ry="1.7" fill="#b2bed8" opacity="0.75" transform="rotate(143 152.0 58.1)"/>
<ellipse cx="146.2" cy="65.0" rx="2.4" ry="2.1" fill="#c6cadb" opacity="0.75" transform="rotate(104 146.2 65.0)"/>
<ellipse cx="95.1" cy="112.2" rx="3.0" ry="2.3" fill="#b2bed8" opacity="0.75" transform="rotate(72 95.1 112.2)"/>
<ellipse cx="148.9" cy="116.6" rx="3.0" ry="1.6" fill="#b6bfd6" opacity="0.75" transform="rotate(74 148.9 116.6)"/>
<ellipse cx="151.5" cy="97.8" rx="2.5" ry="2.1" fill="#bfc4d8" opacity="0.75" transform="rotate(43 151.5 97.8)"/>
<ellipse cx="132.8" cy="46.9" rx="2.7" ry="1.9" fill="#a8b5d0" opacity="0.75" transform="rotate(140 132.8 46.9)"/>
<ellipse cx="163.7" cy="118.8" rx="3.2" ry="1.9" fill="#aeb9d3" opacity="0.75" transform="rotate(56 163.7 118.8)"/>
<ellipse cx="153.9" cy="95.2" rx="2.3" ry="1.8" fill="#b6bfd6" opacity="0.75" transform="rotate(173 153.9 95.2)"/>
<ellipse cx="141.1" cy="119.1" rx="3.1" ry="2.5" fill="#a8b5d0" opacity="0.75" transform="rotate(84 141.1 119.1)"/>
<ellipse cx="114.4" cy="46.3" rx="3.2" ry="1.8" fill="#bfc4d8" opacity="0.75" transform="rotate(14 114.4 46.3)"/>
<ellipse cx="148.0" cy="30.3" rx="2.8" ry="2.5" fill="#bfc4d8" opacity="0.75" transform="rotate(113 148.0 30.3)"/>
<ellipse cx="129.1" cy="74.5" rx="2.4" ry="2.3" fill="#c6cadb" opacity="0.75" transform="rotate(135 129.1 74.5)"/>
<ellipse cx="119.9" cy="125.7" rx="3.2" ry="1.8" fill="#b2bed8" opacity="0.75" transform="rotate(34 119.9 125.7)"/>
<ellipse cx="153.4" cy="24.0" rx="2.3" ry="2.1" fill="#a8b5d0" opacity="0.75" transform="rotate(131 153.4 24.0)"/>
<ellipse cx="135.8" cy="100.7" rx="2.7" ry="2.4" fill="#c6cadb" opacity="0.75" transform="rotate(20 135.8 100.7)"/>
<ellipse cx="154.1" cy="120.0" rx="3.2" ry="1.8" fill="#b6bfd6" opacity="0.75" transform="rotate(124 154.1 120.0)"/>
<ellipse cx="126.8" cy="63.0" rx="3.4" ry="2.3" fill="#bfc4d8" opacity="0.75" transform="rotate(11 126.8 63.0)"/>
<ellipse cx="109.8" cy="24.1" rx="2.8" ry="2.5" fill="#aeb9d3" opacity="0.75" transform="rotate(6 109.8 24.1)"/>
<ellipse cx="119.0" cy="123.2" rx="3.3" ry="2.1" fill="#b2bed8" opacity="0.75" transform="rotate(128 119.0 123.2)"/>
<ellipse cx="109.6" cy="89.3" rx="2.6" ry="1.8" fill="#b6bfd6" opacity="0.75" transform="rotate(47 109.6 89.3)"/>
<ellipse cx="91.3" cy="124.6" rx="3.2" ry="2.1" fill="#aeb9d3" opacity="0.75" transform="rotate(102 91.3 124.6)"/>
<ellipse cx="100.9" cy="88.0" rx="3.4" ry="1.8" fill="#aeb9d3" opacity="0.75" transform="rotate(142 100.9 88.0)"/>
<ellipse cx="143.5" cy="105.7" rx="2.8" ry="2.3" fill="#c6cadb" opacity="0.75" transform="rotate(62 143.5 105.7)"/>
<ellipse cx="108.1" cy="74.0" rx="2.6" ry="2.1" fill="#a8b5d0" opacity="0.75" transform="rotate(133 108.1 74.0)"/>
<ellipse cx="115.0" cy="22.1" rx="3.0" ry="2.0" fill="#b2bed8" opacity="0.75" transform="rotate(127 115.0 22.1)"/>
<ellipse cx="134.4" cy="22.1" rx="2.5" ry="2.4" fill="#b6bfd6" opacity="0.75" transform="rotate(86 134.4 22.1)"/>
<ellipse cx="99.5" cy="49.9" rx="3.3" ry="2.1" fill="#b6bfd6" opacity="0.75" transform="rotate(25 99.5 49.9)"/>
<ellipse cx="126.2" cy="90.3" rx="2.6" ry="2.0" fill="#aeb9d3" opacity="0.75" transform="rotate(36 126.2 90.3)"/>
<ellipse cx="92.1" cy="37.4" rx="2.7" ry="2.5" fill="#a8b5d0" opacity="0.75" transform="rotate(63 92.1 37.4)"/>
<ellipse cx="111.9" cy="63.3" rx="2.9" ry="2.4" fill="#aeb9d3" opacity="0.75" transform="rotate(156 111.9 63.3)"/>
<ellipse cx="157.6" cy="115.3" rx="2.5" ry="2.1" fill="#b6bfd6" opacity="0.75" transform="rotate(158 157.6 115.3)"/>
<ellipse cx="138.9" cy="83.8" rx="2.9" ry="1.9" fill="#b2bed8" opacity="0.75" transform="rotate(40 138.9 83.8)"/>
<ellipse cx="132.1" cy="101.5" rx="3.2" ry="1.7" fill="#b6bfd6" opacity="0.75" transform="rotate(103 132.1 101.5)"/>
<ellipse cx="141.8" cy="70.5" rx="3.4" ry="2.0" fill="#c6cadb" opacity="0.75" transform="rotate(28 141.8 70.5)"/>
<ellipse cx="142.8" cy="46.4" rx="2.8" ry="1.6" fill="#c6cadb" opacity="0.75" transform="rotate(157 142.8 46.4)"/>
<ellipse cx="126.5" cy="123.2" rx="2.5" ry="2.4" fill="#c6cadb" opacity="0.75" transform="rotate(77 126.5 123.2)"/>
<ellipse cx="110.8" cy="23.9" rx="3.2" ry="1.8" fill="#aeb9d3" opacity="0.75" transform="rotate(55 110.8 23.9)"/>
<ellipse cx="114.3" cy="71.4" rx="2.4" ry="2.2" fill="#a8b5d0" opacity="0.75" transform="rotate(62 114.3 71.4)"/>
<ellipse cx="122.9" cy="96.4" rx="3.0" ry="1.8" fill="#b2bed8" opacity="0.75" transform="rotate(40 122.9 96.4)"/>
<ellipse cx="136.3" cy="48.1" rx="2.9" ry="1.9" fill="#c6cadb" opacity="0.75" transform="rotate(88 136.3 48.1)"/>
<ellipse cx="94.1" cy="116.7" rx="3.2" ry="2.1" fill="#b2bed8" opacity="0.75" transform="rotate(138 94.1 116.7)"/>
<ellipse cx="167.6" cy="72.6" rx="2.7" ry="2.1" fill="#bfc4d8" opacity="0.75" transform="rotate(15 167.6 72.6)"/>
<ellipse cx="153.5" cy="77.7" rx="3.0" ry="2.3" fill="#bfc4d8" opacity="0.75" transform="rotate(67 153.5 77.7)"/>
<ellipse cx="136.0" cy="24.2" rx="2.7" ry="2.0" fill="#a8b5d0" opacity="0.75" transform="rotate(136 136.0 24.2)"/>
<ellipse cx="151.5" cy="111.2" rx="2.3" ry="1.8" fill="#a8b5d0" opacity="0.75" transform="rotate(129 151.5 111.2)"/>
<ellipse cx="143.6" cy="120.9" rx="3.0" ry="1.7" fill="#b6bfd6" opacity="0.75" transform="rotate(175 143.6 120.9)"/>
<ellipse cx="104.3" cy="69.4" rx="3.3" ry="2.0" fill="#c6cadb" opacity="0.75" transform="rotate(14 104.3 69.4)"/>
<ellipse cx="137.0" cy="36.3" rx="2.9" ry="1.7" fill="#a8b5d0" opacity="0.75" transform="rotate(77 137.0 36.3)"/>
<ellipse cx="140.0" cy="22.2" rx="3.0" ry="1.9" fill="#b6bfd6" opacity="0.75" transform="rotate(102 140.0 22.2)"/>
<ellipse cx="150.5" cy="55.2" rx="3.1" ry="2.4" fill="#c6cadb" opacity="0.75" transform="rotate(165 150.5 55.2)"/>
<ellipse cx="129.1" cy="53.8" rx="2.7" ry="2.2" fill="#b2bed8" opacity="0.75" transform="rotate(64 129.1 53.8)"/>
<ellipse cx="108.8" cy="81.8" rx="3.3" ry="1.6" fill="#b2bed8" opacity="0.75" transform="rotate(76 108.8 81.8)"/>
<ellipse cx="105.8" cy="27.5" rx="3.0" ry="2.0" fill="#bfc4d8" opacity="0.75" transform="rotate(162 105.8 27.5)"/>
<ellipse cx="94.2" cy="91.2" rx="3.1" ry="2.1" fill="#c6cadb" opacity="0.75" transform="rotate(63 94.2 91.2)"/>
<ellipse cx="95.2" cy="114.0" rx="2.5" ry="2.0" fill="#bfc4d8" opacity="0.75" transform="rotate(41 95.2 114.0)"/>
<ellipse cx="95.7" cy="117.2" rx="2.4" ry="2.1" fill="#b6bfd6" opacity="0.75" transform="rotate(152 95.7 117.2)"/>
<ellipse cx="122.6" cy="114.7" rx="2.4" ry="1.9" fill="#a8b5d0" opacity="0.75" transform="rotate(125 122.6 114.7)"/>
<ellipse cx="97.9" cy="64.0" rx="2.4" ry="2.3" fill="#aeb9d3" opacity="0.75" transform="rotate(63 97.9 64.0)"/>
<ellipse cx="98.4" cy="119.9" rx="2.8" ry="1.8" fill="#c6cadb" opacity="0.75" transform="rotate(145 98.4 119.9)"/>
<ellipse cx="133.2" cy="39.1" rx="2.6" ry="2.0" fill="#b6bfd6" opacity="0.75" transform="rotate(176 133.2 39.1)"/>
<ellipse cx="110.8" cy="61.9" rx="3.2" ry="1.8" fill="#bfc4d8" opacity="0.75" transform="rotate(162 110.8 61.9)"/>
<ellipse cx="106.4" cy="75.6" rx="2.5" ry="2.4" fill="#bfc4d8" opacity="0.75" transform="rotate(32 106.4 75.6)"/>
<ellipse cx="102.4" cy="116.4" rx="2.7" ry="2.2" fill="#aeb9d3" opacity="0.75" transform="rotate(77 102.4 116.4)"/>
<ellipse cx="110.1" cy="80.9" rx="2.7" ry="2.0" fill="#aeb9d3" opacity="0.75" transform="rotate(70 110.1 80.9)"/>
<ellipse cx="100.7" cy="89.3" rx="3.2" ry="2.0" fill="#aeb9d3" opacity="0.75" transform="rotate(15 100.7 89.3)"/>
<ellipse cx="145.7" cy="35.3" rx="3.2" ry="1.9" fill="#c6cadb" opacity="0.75" transform="rotate(172 145.7 35.3)"/>
<ellipse cx="97.5" cy="43.8" rx="2.3" ry="1.8" fill="#a8b5d0" opacity="0.75" transform="rotate(116 97.5 43.8)"/>
<ellipse cx="139.3" cy="88.2" rx="3.1" ry="2.1" fill="#b6bfd6" opacity="0.75" transform="rotate(164 139.3 88.2)"/>
<ellipse cx="114.4" cy="76.7" rx="2.3" ry="1.8" fill="#c6cadb" opacity="0.75" transform="rotate(167 114.4 76.7)"/>
<ellipse cx="150.9" cy="87.0" rx="3.1" ry="2.2" fill="#b2bed8" opacity="0.75" transform="rotate(1 150.9 87.0)"/>
<ellipse cx="93" cy="60" rx="5" ry="30" fill="#f3f1ef" opacity="0.5"/>
<ellipse cx="147" cy="45" rx="5" ry="4" fill="#ebc7a2" opacity="0.5"/>
<ellipse cx="150" cy="80" rx="6" ry="5" fill="#ebc7a2" opacity="0.5"/>
<ellipse cx="120" cy="75" rx="6" ry="5" fill="#ebc7a2" opacity="0.5"/>
<ellipse cx="155" cy="60" rx="4" ry="3" fill="#ebc7a2" opacity="0.5"/>
<ellipse cx="105" cy="95" rx="5" ry="4" fill="#ebc7a2" opacity="0.5"/>
<ellipse cx="140" cy="95" rx="5" ry="4" fill="#ebc7a2" opacity="0.5"/>
<ellipse cx="118" cy="40" rx="4" ry="3" fill="#ebc7a2" opacity="0.5"/>
<ellipse cx="160" cy="70" rx="4" ry="4" fill="#ebc7a2" opacity="0.5"/>
<ellipse cx="130" cy="60" rx="5" ry="4" fill="#ebc7a2" opacity="0.5"/>
<ellipse cx="112" cy="110" rx="5" ry="4" fill="#ebc7a2" opacity="0.5"/>
</g>
<g filter="url(#bl)">
<ellipse cx="138.7" cy="34.6" rx="1.9" ry="1.5" fill="#5b88c6" opacity="0.85"/>
<ellipse cx="132.0" cy="39.7" rx="1.9" ry="1.2" fill="#5b88c6" opacity="0.85"/>
<ellipse cx="138.9" cy="37.9" rx="1.4" ry="1.4" fill="#5b88c6" opacity="0.85"/>
<ellipse cx="129.4" cy="39.0" rx="1.3" ry="1.0" fill="#5b88c6" opacity="0.85"/>
<ellipse cx="127.4" cy="33.1" rx="1.8" ry="1.0" fill="#5b88c6" opacity="0.85"/>
<ellipse cx="131.2" cy="35.1" rx="1.9" ry="1.4" fill="#5b88c6" opacity="0.85"/>
<ellipse cx="127.0" cy="32.6" rx="1.7" ry="1.0" fill="#5b88c6" opacity="0.85"/>
<ellipse cx="126.7" cy="31.8" rx="1.6" ry="1.5" fill="#5b88c6" opacity="0.85"/>
<ellipse cx="134.3" cy="37.7" rx="1.7" ry="1.2" fill="#5b88c6" opacity="0.85"/>
<ellipse cx="126.9" cy="30.6" rx="1.2" ry="1.3" fill="#5b88c6" opacity="0.85"/>
<ellipse cx="164.2" cy="30.5" rx="1.2" ry="1.4" fill="#4f80c0" opacity="0.85"/>
<ellipse cx="162.1" cy="29.7" rx="1.4" ry="1.3" fill="#4f80c0" opacity="0.85"/>
<ellipse cx="165.4" cy="30.5" rx="1.8" ry="1.4" fill="#4f80c0" opacity="0.85"/>
<ellipse cx="164.2" cy="28.3" rx="1.5" ry="1.2" fill="#4f80c0" opacity="0.85"/>
<ellipse cx="163.2" cy="29.4" rx="1.8" ry="1.4" fill="#4f80c0" opacity="0.85"/>
<ellipse cx="163.5" cy="28.5" rx="1.7" ry="1.1" fill="#4f80c0" opacity="0.85"/>
<ellipse cx="106.9" cy="30.6" rx="1.9" ry="1.2" fill="#4a74a8" opacity="0.85"/>
<ellipse cx="105.8" cy="30.8" rx="1.3" ry="1.0" fill="#4a74a8" opacity="0.85"/>
<ellipse cx="157.1" cy="41.1" rx="1.3" ry="1.2" fill="#6e98cc" opacity="0.85"/>
<ellipse cx="161.3" cy="40.6" rx="2.0" ry="1.4" fill="#6e98cc" opacity="0.85"/>
<ellipse cx="159.4" cy="39.7" rx="1.9" ry="1.3" fill="#6e98cc" opacity="0.85"/>
<ellipse cx="138.8" cy="114.2" rx="2.0" ry="1.0" fill="#4d6e9a" opacity="0.85"/>
<ellipse cx="127.6" cy="122.7" rx="1.9" ry="1.3" fill="#4d6e9a" opacity="0.85"/>
<ellipse cx="133.0" cy="115.2" rx="1.8" ry="0.9" fill="#4d6e9a" opacity="0.85"/>
<ellipse cx="125.3" cy="115.0" rx="1.5" ry="0.9" fill="#4d6e9a" opacity="0.85"/>
<ellipse cx="139.4" cy="116.1" rx="1.7" ry="1.4" fill="#4d6e9a" opacity="0.85"/>
<ellipse cx="138.3" cy="114.3" rx="1.3" ry="1.2" fill="#4d6e9a" opacity="0.85"/>
<ellipse cx="141.8" cy="112.7" rx="1.3" ry="1.5" fill="#4d6e9a" opacity="0.85"/>
<ellipse cx="126.1" cy="117.9" rx="1.9" ry="1.0" fill="#4d6e9a" opacity="0.85"/>
<ellipse cx="134.8" cy="113.1" rx="1.6" ry="1.1" fill="#4d6e9a" opacity="0.85"/>
<ellipse cx="127.1" cy="122.9" rx="1.4" ry="1.3" fill="#4d6e9a" opacity="0.85"/>
<ellipse cx="140.5" cy="120.5" rx="1.9" ry="1.1" fill="#4d6e9a" opacity="0.85"/>
<ellipse cx="137.4" cy="117.7" rx="1.4" ry="0.9" fill="#4d6e9a" opacity="0.85"/>
<ellipse cx="132.6" cy="77.7" rx="1.6" ry="1.3" fill="#6b94cc" opacity="0.85"/>
<ellipse cx="131.8" cy="78.3" rx="1.7" ry="1.3" fill="#6b94cc" opacity="0.85"/>
<ellipse cx="132.9" cy="78.3" rx="1.5" ry="1.4" fill="#6b94cc" opacity="0.85"/>
<ellipse cx="134.5" cy="79.6" rx="1.4" ry="1.2" fill="#6b94cc" opacity="0.85"/>
<ellipse cx="95.8" cy="66.2" rx="1.6" ry="0.9" fill="#5a86c2" opacity="0.85"/>
<ellipse cx="97.4" cy="64.7" rx="1.7" ry="1.2" fill="#5a86c2" opacity="0.85"/>
<ellipse cx="97.0" cy="65.3" rx="1.5" ry="1.2" fill="#5a86c2" opacity="0.85"/>
<ellipse cx="95.3" cy="64.5" rx="1.6" ry="1.1" fill="#5a86c2" opacity="0.85"/>
<ellipse cx="93.6" cy="90.3" rx="1.6" ry="1.1" fill="#8aa8d4" opacity="0.85"/>
<ellipse cx="93.2" cy="90.2" rx="1.3" ry="1.0" fill="#8aa8d4" opacity="0.85"/>
<ellipse cx="91.5" cy="90.6" rx="1.5" ry="1.0" fill="#8aa8d4" opacity="0.85"/>
<ellipse cx="150.8" cy="29.4" rx="1.5" ry="1.2" fill="#7fa2d0" opacity="0.85"/>
<ellipse cx="152.2" cy="28.8" rx="1.2" ry="1.0" fill="#7fa2d0" opacity="0.85"/>
<ellipse cx="150.2" cy="28.5" rx="2.0" ry="1.1" fill="#7fa2d0" opacity="0.85"/>
<ellipse cx="91.9" cy="101.1" rx="1.8" ry="1.0" fill="#8fadd6" opacity="0.85"/>
<ellipse cx="94.2" cy="100.8" rx="1.2" ry="1.0" fill="#8fadd6" opacity="0.85"/>
<ellipse cx="93.5" cy="99.7" rx="1.3" ry="1.4" fill="#8fadd6" opacity="0.85"/>
<ellipse cx="91.8" cy="45.9" rx="1.3" ry="1.2" fill="#90aad0" opacity="0.85"/>
<ellipse cx="92.9" cy="46.1" rx="1.6" ry="1.1" fill="#90aad0" opacity="0.85"/>
<ellipse cx="102.4" cy="121.4" rx="1.8" ry="1.2" fill="#8fadd6" opacity="0.85"/>
<ellipse cx="101.5" cy="122.7" rx="1.9" ry="1.0" fill="#8fadd6" opacity="0.85"/>
<ellipse cx="108.9" cy="121.0" rx="1.8" ry="1.2" fill="#8fadd6" opacity="0.85"/>
<ellipse cx="158.4" cy="115.7" rx="2.0" ry="1.0" fill="#6e98cc" opacity="0.85"/>
<ellipse cx="162.0" cy="115.4" rx="1.7" ry="1.4" fill="#6e98cc" opacity="0.85"/>
<ellipse cx="159.0" cy="116.1" rx="1.5" ry="1.4" fill="#6e98cc" opacity="0.85"/>
</g>
</g>
<line x1="143.80" y1="44.40" x2="149.00" y2="44.40" stroke="#151515" stroke-width="1.0"/>
<polygon points="150.8,44.4 148.0,45.9 148.0,42.9" fill="#151515"/>
<line x1="157.70" y1="54.10" x2="157.70" y2="49.40" stroke="#151515" stroke-width="1.0"/>
<polygon points="157.7,47.6 159.1,50.4 156.2,50.4" fill="#151515"/>
<line x1="97.40" y1="75.60" x2="97.40" y2="70.40" stroke="#151515" stroke-width="1.0"/>
<polygon points="97.4,68.6 98.9,71.4 96.0,71.4" fill="#151515"/>
<line x1="147.30" y1="119.90" x2="147.30" y2="115.20" stroke="#151515" stroke-width="1.0"/>
<polygon points="147.3,113.4 148.8,116.2 145.9,116.2" fill="#151515"/>
<rect x="6.5" y="21.5" width="78.2" height="107.2" fill="none" stroke="#3c3c3c" stroke-width="1.1"/>
<rect x="87.6" y="21.5" width="79.8" height="107.2" fill="none" stroke="#3c3c3c" stroke-width="1.1"/>
<line x1="9.20" y1="126.30" x2="18.80" y2="126.30" stroke="#111" stroke-width="1"/>
<line x1="89.80" y1="125.80" x2="98.70" y2="125.80" stroke="#111" stroke-width="1"/>
<line x1="211.50" y1="37.30" x2="211.50" y2="128.80" stroke="#231f20" stroke-width="1"/>
<line x1="208.50" y1="128.80" x2="259.40" y2="128.80" stroke="#3a3a3a" stroke-width="1.3"/>
<line x1="208.80" y1="40.30" x2="211.50" y2="40.30" stroke="#231f20" stroke-width="0.9"/>
<text x="205.10" y="42.70" font-size="7" text-anchor="end" fill="#231f20" stroke="#231f20" stroke-width="0.16">60</text>
<line x1="208.80" y1="69.60" x2="211.50" y2="69.60" stroke="#231f20" stroke-width="0.9"/>
<text x="205.10" y="72.00" font-size="7" text-anchor="end" fill="#231f20" stroke="#231f20" stroke-width="0.16">40</text>
<line x1="208.80" y1="99.20" x2="211.50" y2="99.20" stroke="#231f20" stroke-width="0.9"/>
<text x="205.10" y="101.60" font-size="7" text-anchor="end" fill="#231f20" stroke="#231f20" stroke-width="0.16">20</text>
<line x1="208.80" y1="128.50" x2="211.50" y2="128.50" stroke="#231f20" stroke-width="0.9"/>
<text x="205.10" y="130.90" font-size="7" text-anchor="end" fill="#231f20" stroke="#231f20" stroke-width="0.16">0</text>
<text x="191.40" y="83.80" font-size="8.6" text-anchor="middle" fill="#231f20" textLength="87.5" lengthAdjust="spacingAndGlyphs" stroke="#231f20" stroke-width="0.16" transform="rotate(-90 191.40 83.80)">Relative FVII mRNA levels (a.u.)</text>
<rect x="216.00" y="127.50" width="13.00" height="2.20" fill="#d0102e"/>
<polygon points="218.5,125.5 220.0,128.2 217.0,128.2" fill="#d0102e"/>
<polygon points="222.8,124.5 224.3,127.2 221.3,127.2" fill="#d0102e"/>
<polygon points="227.2,124.3 228.7,127.0 225.7,127.0" fill="#d0102e"/>
<line x1="223.30" y1="129.00" x2="223.30" y2="131.60" stroke="#9a1228" stroke-width="0.9"/>
<rect x="245.80" y="53.80" width="2.40" height="2.40" fill="#163461"/>
<rect x="245.80" y="83.70" width="2.40" height="2.40" fill="#163461"/>
<rect x="245.90" y="101.50" width="2.40" height="2.40" fill="#163461"/>
<rect x="242.20" y="111.60" width="2.40" height="2.40" fill="#163461"/>
<rect x="245.90" y="113.60" width="2.40" height="2.40" fill="#163461"/>
<rect x="245.90" y="117.70" width="2.40" height="2.40" fill="#163461"/>
<rect x="242.50" y="120.00" width="2.40" height="2.40" fill="#163461"/>
<rect x="245.90" y="122.20" width="2.40" height="2.40" fill="#163461"/>
<rect x="240.10" y="124.30" width="2.40" height="2.40" fill="#163461"/>
<rect x="251.70" y="124.80" width="2.40" height="2.40" fill="#163461"/>
<rect x="242.20" y="127.20" width="2.40" height="2.40" fill="#163461"/>
<rect x="244.30" y="125.60" width="2.40" height="2.40" fill="#163461"/>
<rect x="245.90" y="127.80" width="2.40" height="2.40" fill="#163461"/>
<rect x="248.00" y="127.30" width="2.40" height="2.40" fill="#163461"/>
<rect x="250.20" y="127.00" width="2.40" height="2.40" fill="#163461"/>
<rect x="241.20" y="127.60" width="2.40" height="2.40" fill="#163461"/>
<rect x="249.30" y="125.80" width="2.40" height="2.40" fill="#163461"/>
<line x1="247.10" y1="129.00" x2="247.10" y2="131.40" stroke="#163461" stroke-width="0.9"/>
<text x="223.20" y="141.20" font-size="6.8" text-anchor="middle" fill="#231f20" textLength="17" lengthAdjust="spacingAndGlyphs" stroke="#231f20" stroke-width="0.16">FVII–</text>
<text x="247.20" y="141.20" font-size="6.8" text-anchor="middle" fill="#231f20" textLength="17" lengthAdjust="spacingAndGlyphs" stroke="#231f20" stroke-width="0.16">FVII+</text>
<text x="235.80" y="153.60" font-size="9" text-anchor="middle" fill="#231f20" textLength="23.8" lengthAdjust="spacingAndGlyphs" stroke="#231f20" stroke-width="0.16"><tspan font-style="italic">P</tspan> = .026</text>
<line x1="305.40" y1="37.30" x2="305.40" y2="128.60" stroke="#231f20" stroke-width="1"/>
<line x1="304.90" y1="128.60" x2="365.00" y2="128.60" stroke="#231f20" stroke-width="1"/>
<line x1="302.80" y1="128.60" x2="305.40" y2="128.60" stroke="#231f20" stroke-width="0.9"/>
<text x="298.70" y="130.70" font-size="7" text-anchor="end" fill="#231f20" stroke="#231f20" stroke-width="0.16">0</text>
<line x1="302.80" y1="110.91" x2="305.40" y2="110.91" stroke="#231f20" stroke-width="0.9"/>
<text x="298.70" y="113.01" font-size="7" text-anchor="end" fill="#231f20" stroke="#231f20" stroke-width="0.16">20</text>
<line x1="302.80" y1="93.23" x2="305.40" y2="93.23" stroke="#231f20" stroke-width="0.9"/>
<text x="298.70" y="95.33" font-size="7" text-anchor="end" fill="#231f20" stroke="#231f20" stroke-width="0.16">40</text>
<line x1="302.80" y1="75.54" x2="305.40" y2="75.54" stroke="#231f20" stroke-width="0.9"/>
<text x="298.70" y="77.64" font-size="7" text-anchor="end" fill="#231f20" stroke="#231f20" stroke-width="0.16">60</text>
<line x1="302.80" y1="57.86" x2="305.40" y2="57.86" stroke="#231f20" stroke-width="0.9"/>
<text x="298.70" y="59.96" font-size="7" text-anchor="end" fill="#231f20" stroke="#231f20" stroke-width="0.16">80</text>
<line x1="302.80" y1="40.17" x2="305.40" y2="40.17" stroke="#231f20" stroke-width="0.9"/>
<text x="298.70" y="42.27" font-size="7" text-anchor="end" fill="#231f20" stroke="#231f20" stroke-width="0.16">100</text>
<rect x="310.60" y="114.45" width="19.30" height="14.15" fill="#cb0c2d"/>
<rect x="310.60" y="64.40" width="19.30" height="50.05" fill="#39ab34"/>
<rect x="310.60" y="40.17" width="19.30" height="24.23" fill="#114a85"/>
<line x1="320.25" y1="128.60" x2="320.25" y2="131.40" stroke="#231f20" stroke-width="0.9"/>
<rect x="340.20" y="122.14" width="19.70" height="6.46" fill="#cb0c2d"/>
<rect x="340.20" y="83.50" width="19.70" height="38.64" fill="#39ab34"/>
<rect x="340.20" y="40.17" width="19.70" height="43.33" fill="#114a85"/>
<line x1="350.05" y1="128.60" x2="350.05" y2="131.40" stroke="#231f20" stroke-width="0.9"/>
<text x="335.40" y="26.50" font-size="9" text-anchor="middle" fill="#231f20" stroke="#231f20" stroke-width="0.12">Grade</text>
<rect x="368.00" y="72.20" width="5.80" height="5.50" fill="#114a85"/>
<text x="376.80" y="77.40" font-size="6.6" text-anchor="start" fill="#231f20" stroke="#231f20" stroke-width="0.16">III</text>
<rect x="368.00" y="80.20" width="5.80" height="5.50" fill="#39ab34"/>
<text x="376.80" y="85.40" font-size="6.6" text-anchor="start" fill="#231f20" stroke="#231f20" stroke-width="0.16">II</text>
<rect x="368.00" y="88.20" width="5.80" height="5.50" fill="#cb0c2d"/>
<text x="376.80" y="93.40" font-size="6.6" text-anchor="start" fill="#231f20" stroke="#231f20" stroke-width="0.16">I</text>
<text x="320.25" y="141.20" font-size="6.8" text-anchor="middle" fill="#231f20" textLength="17" lengthAdjust="spacingAndGlyphs" stroke="#231f20" stroke-width="0.16">FVII–</text>
<text x="350.05" y="141.20" font-size="6.8" text-anchor="middle" fill="#231f20" textLength="17" lengthAdjust="spacingAndGlyphs" stroke="#231f20" stroke-width="0.16">FVII+</text>
<text x="335.60" y="153.60" font-size="9" text-anchor="middle" fill="#231f20" textLength="23.8" lengthAdjust="spacingAndGlyphs" stroke="#231f20" stroke-width="0.16"><tspan font-style="italic">P</tspan> &lt; .001</text>
<line x1="428.80" y1="37.30" x2="428.80" y2="128.60" stroke="#231f20" stroke-width="1"/>
<line x1="428.30" y1="128.60" x2="487.30" y2="128.60" stroke="#231f20" stroke-width="1"/>
<line x1="426.20" y1="128.60" x2="428.80" y2="128.60" stroke="#231f20" stroke-width="0.9"/>
<text x="422.10" y="130.70" font-size="7" text-anchor="end" fill="#231f20" stroke="#231f20" stroke-width="0.16">0</text>
<line x1="426.20" y1="110.91" x2="428.80" y2="110.91" stroke="#231f20" stroke-width="0.9"/>
<text x="422.10" y="113.01" font-size="7" text-anchor="end" fill="#231f20" stroke="#231f20" stroke-width="0.16">20</text>
<line x1="426.20" y1="93.23" x2="428.80" y2="93.23" stroke="#231f20" stroke-width="0.9"/>
<text x="422.10" y="95.33" font-size="7" text-anchor="end" fill="#231f20" stroke="#231f20" stroke-width="0.16">40</text>
<line x1="426.20" y1="75.54" x2="428.80" y2="75.54" stroke="#231f20" stroke-width="0.9"/>
<text x="422.10" y="77.64" font-size="7" text-anchor="end" fill="#231f20" stroke="#231f20" stroke-width="0.16">60</text>
<line x1="426.20" y1="57.86" x2="428.80" y2="57.86" stroke="#231f20" stroke-width="0.9"/>
<text x="422.10" y="59.96" font-size="7" text-anchor="end" fill="#231f20" stroke="#231f20" stroke-width="0.16">80</text>
<line x1="426.20" y1="40.17" x2="428.80" y2="40.17" stroke="#231f20" stroke-width="0.9"/>
<text x="422.10" y="42.27" font-size="7" text-anchor="end" fill="#231f20" stroke="#231f20" stroke-width="0.16">100</text>
<rect x="433.10" y="89.43" width="19.70" height="39.17" fill="#cb0c2d"/>
<rect x="433.10" y="51.93" width="19.70" height="37.49" fill="#39ab34"/>
<rect x="433.10" y="40.17" width="19.70" height="11.76" fill="#114a85"/>
<line x1="442.95" y1="128.60" x2="442.95" y2="131.40" stroke="#231f20" stroke-width="0.9"/>
<rect x="463.20" y="102.34" width="19.10" height="26.26" fill="#cb0c2d"/>
<rect x="463.20" y="49.90" width="19.10" height="52.44" fill="#39ab34"/>
<rect x="463.20" y="40.17" width="19.10" height="9.73" fill="#114a85"/>
<line x1="472.75" y1="128.60" x2="472.75" y2="131.40" stroke="#231f20" stroke-width="0.9"/>
<text x="457.90" y="26.50" font-size="9" text-anchor="middle" fill="#231f20" stroke="#231f20" stroke-width="0.12">Status</text>
<rect x="490.60" y="72.20" width="5.80" height="5.50" fill="#114a85"/>
<text x="499.40" y="77.40" font-size="6.6" text-anchor="start" fill="#231f20" stroke="#231f20" stroke-width="0.16">T3-4</text>
<rect x="490.60" y="80.20" width="5.80" height="5.50" fill="#39ab34"/>
<text x="499.40" y="85.40" font-size="6.6" text-anchor="start" fill="#231f20" stroke="#231f20" stroke-width="0.16">T2</text>
<rect x="490.60" y="88.20" width="5.80" height="5.50" fill="#cb0c2d"/>
<text x="499.40" y="93.40" font-size="6.6" text-anchor="start" fill="#231f20" stroke="#231f20" stroke-width="0.16">T1</text>
<text x="442.95" y="141.20" font-size="6.8" text-anchor="middle" fill="#231f20" textLength="17" lengthAdjust="spacingAndGlyphs" stroke="#231f20" stroke-width="0.16">FVII–</text>
<text x="472.75" y="141.20" font-size="6.8" text-anchor="middle" fill="#231f20" textLength="17" lengthAdjust="spacingAndGlyphs" stroke="#231f20" stroke-width="0.16">FVII+</text>
<text x="458.50" y="153.60" font-size="9" text-anchor="middle" fill="#231f20" textLength="23.8" lengthAdjust="spacingAndGlyphs" stroke="#231f20" stroke-width="0.16"><tspan font-style="italic">P</tspan> = .009</text>
<line x1="35.80" y1="199.00" x2="35.80" y2="287.70" stroke="#231f20" stroke-width="1"/>
<line x1="35.30" y1="287.70" x2="132.60" y2="287.70" stroke="#231f20" stroke-width="1"/>
<line x1="33.20" y1="283.30" x2="35.80" y2="283.30" stroke="#231f20" stroke-width="0.9"/>
<text x="30.30" y="285.90" font-size="7.5" text-anchor="end" fill="#231f20" stroke="#231f20" stroke-width="0.16">0</text>
<line x1="33.20" y1="267.20" x2="35.80" y2="267.20" stroke="#231f20" stroke-width="0.9"/>
<text x="30.30" y="269.80" font-size="7.5" text-anchor="end" fill="#231f20" stroke="#231f20" stroke-width="0.16">0.2</text>
<line x1="33.20" y1="251.10" x2="35.80" y2="251.10" stroke="#231f20" stroke-width="0.9"/>
<text x="30.30" y="253.70" font-size="7.5" text-anchor="end" fill="#231f20" stroke="#231f20" stroke-width="0.16">0.4</text>
<line x1="33.20" y1="235.00" x2="35.80" y2="235.00" stroke="#231f20" stroke-width="0.9"/>
<text x="30.30" y="237.60" font-size="7.5" text-anchor="end" fill="#231f20" stroke="#231f20" stroke-width="0.16">0.6</text>
<line x1="33.20" y1="218.90" x2="35.80" y2="218.90" stroke="#231f20" stroke-width="0.9"/>
<text x="30.30" y="221.50" font-size="7.5" text-anchor="end" fill="#231f20" stroke="#231f20" stroke-width="0.16">0.8</text>
<line x1="33.20" y1="202.80" x2="35.80" y2="202.80" stroke="#231f20" stroke-width="0.9"/>
<text x="30.30" y="205.40" font-size="7.5" text-anchor="end" fill="#231f20" stroke="#231f20" stroke-width="0.16">1.0</text>
<line x1="40.60" y1="287.70" x2="40.60" y2="290.30" stroke="#231f20" stroke-width="0.9"/>
<text x="40.60" y="300.20" font-size="7.3" text-anchor="middle" fill="#231f20" stroke="#231f20" stroke-width="0.16">0</text>
<line x1="58.00" y1="287.70" x2="58.00" y2="290.30" stroke="#231f20" stroke-width="0.9"/>
<text x="58.00" y="300.20" font-size="7.3" text-anchor="middle" fill="#231f20" stroke="#231f20" stroke-width="0.16">5</text>
<line x1="75.40" y1="287.70" x2="75.40" y2="290.30" stroke="#231f20" stroke-width="0.9"/>
<text x="75.40" y="300.20" font-size="7.3" text-anchor="middle" fill="#231f20" stroke="#231f20" stroke-width="0.16">10</text>
<line x1="92.80" y1="287.70" x2="92.80" y2="290.30" stroke="#231f20" stroke-width="0.9"/>
<text x="92.80" y="300.20" font-size="7.3" text-anchor="middle" fill="#231f20" stroke="#231f20" stroke-width="0.16">15</text>
<line x1="110.20" y1="287.70" x2="110.20" y2="290.30" stroke="#231f20" stroke-width="0.9"/>
<text x="110.20" y="300.20" font-size="7.3" text-anchor="middle" fill="#231f20" stroke="#231f20" stroke-width="0.16">20</text>
<line x1="127.60" y1="287.70" x2="127.60" y2="290.30" stroke="#231f20" stroke-width="0.9"/>
<text x="127.60" y="300.20" font-size="7.3" text-anchor="middle" fill="#231f20" stroke="#231f20" stroke-width="0.16">25</text>
<text x="84.10" y="312.30" font-size="8.8" text-anchor="middle" fill="#231f20" font-weight="bold" textLength="42.5" lengthAdjust="spacingAndGlyphs" stroke="#231f20" stroke-width="0.22">Follow-up (yrs)</text>
<text x="13.90" y="243.05" font-size="8.8" text-anchor="middle" fill="#231f20" font-weight="bold" textLength="65.5" lengthAdjust="spacingAndGlyphs" stroke="#231f20" stroke-width="0.22" transform="rotate(-90 13.90 243.05)">Metastasis-free survival</text>
<text x="83.80" y="193.70" font-size="8.9" text-anchor="middle" fill="#231f20" textLength="16.7" lengthAdjust="spacingAndGlyphs" stroke="#231f20" stroke-width="0.12">&lt;55</text>
<text x="40.80" y="283.80" font-size="7.6" text-anchor="start" fill="#231f20" textLength="27.5" lengthAdjust="spacingAndGlyphs" stroke="#231f20" stroke-width="0.16"><tspan font-style="italic">P</tspan> = .001</text>
<path d="M40.80,203.20 L42.35,203.20 L42.35,205.35 L43.90,205.35 L43.90,207.50 L44.35,207.50 L44.35,209.88 L44.80,209.88 L44.80,212.25 L45.25,212.25 L45.25,214.62 L45.70,214.62 L45.70,217.00 L46.27,217.00 L46.27,219.33 L46.83,219.33 L46.83,221.67 L47.40,221.67 L47.40,224.00 L48.70,224.00 L48.70,226.55 L50.00,226.55 L50.00,229.10 L51.30,229.10 L51.30,230.85 L52.60,230.85 L52.60,232.60 L54.30,232.60 L54.30,233.45 L56.00,233.45 L56.00,234.30 L58.03,234.30 L58.03,234.60 L60.07,234.60 L60.07,234.90 L62.10,234.90 L62.10,235.20 L63.40,235.20 L63.40,237.35 L64.70,237.35 L64.70,239.50 L66.40,239.50 L66.40,240.80 L68.10,240.80 L68.10,242.10 L70.70,242.10 L70.70,243.40 L73.30,243.40 L73.30,244.70 L75.05,244.70 L75.05,245.75 L76.80,245.75 L76.80,246.80 L78.80,246.80 L78.80,247.13 L80.80,247.13 L80.80,247.47 L82.80,247.47 L82.80,247.80 L84.75,247.80 L84.75,247.98 L86.70,247.98 L86.70,248.15 L88.65,248.15 L88.65,248.32 L90.60,248.32 L90.60,248.50 L91.90,248.50 L91.90,250.25 L93.20,250.25 L93.20,252.00 L94.95,252.00 L94.95,253.10 L96.70,253.10 L96.70,254.20 L118.30,254.20" fill="none" stroke="#5fb65a" stroke-width="1.05" stroke-linejoin="round"/>
<path d="M40.80,203.20 L43.10,203.20 L43.10,204.90 L43.97,204.90 L43.97,207.20 L44.83,207.20 L44.83,209.50 L45.70,209.50 L45.70,211.80 L48.20,211.80 L48.20,214.40 L50.23,214.40 L50.23,215.00 L52.27,215.00 L52.27,215.60 L54.30,215.60 L54.30,216.20 L56.45,216.20 L56.45,217.90 L58.60,217.90 L58.60,219.60 L60.90,219.60 L60.90,220.77 L63.20,220.77 L63.20,221.93 L65.50,221.93 L65.50,223.10 L67.53,223.10 L67.53,223.67 L69.57,223.67 L69.57,224.23 L71.60,224.23 L71.60,224.80 L73.90,224.80 L73.90,225.10 L76.20,225.10 L76.20,225.40 L78.50,225.40 L78.50,225.70 L81.10,225.70 L81.10,226.10 L83.70,226.10 L83.70,226.50 L85.45,226.50 L85.45,227.65 L87.20,227.65 L87.20,228.80 L89.80,228.80 L89.80,229.40 L92.40,229.40 L92.40,230.00 L94.55,230.00 L94.55,230.22 L96.70,230.22 L96.70,230.45 L98.85,230.45 L98.85,230.68 L101.00,230.68 L101.00,230.90 L103.60,230.90 L103.60,233.50 L117.50,233.50" fill="none" stroke="#27446f" stroke-width="1.05" stroke-linejoin="round"/>
<line x1="59.85" y1="218.45" x2="59.85" y2="220.75" stroke="#27446f" stroke-width="0.9"/>
<line x1="61.92" y1="219.62" x2="61.92" y2="221.92" stroke="#27446f" stroke-width="0.9"/>
<line x1="65.40" y1="220.78" x2="65.40" y2="223.08" stroke="#27446f" stroke-width="0.9"/>
<line x1="67.36" y1="221.95" x2="67.36" y2="224.25" stroke="#27446f" stroke-width="0.9"/>
<line x1="71.28" y1="223.08" x2="71.28" y2="225.38" stroke="#27446f" stroke-width="0.9"/>
<line x1="75.53" y1="223.95" x2="75.53" y2="226.25" stroke="#27446f" stroke-width="0.9"/>
<line x1="78.73" y1="224.55" x2="78.73" y2="226.85" stroke="#27446f" stroke-width="0.9"/>
<line x1="81.66" y1="224.95" x2="81.66" y2="227.25" stroke="#27446f" stroke-width="0.9"/>
<line x1="83.72" y1="225.35" x2="83.72" y2="227.65" stroke="#27446f" stroke-width="0.9"/>
<line x1="87.01" y1="226.50" x2="87.01" y2="228.80" stroke="#27446f" stroke-width="0.9"/>
<line x1="91.73" y1="228.25" x2="91.73" y2="230.55" stroke="#27446f" stroke-width="0.9"/>
<line x1="94.68" y1="229.07" x2="94.68" y2="231.38" stroke="#27446f" stroke-width="0.9"/>
<line x1="97.67" y1="229.30" x2="97.67" y2="231.60" stroke="#27446f" stroke-width="0.9"/>
<line x1="103.84" y1="232.35" x2="103.84" y2="234.65" stroke="#27446f" stroke-width="0.9"/>
<line x1="104.52" y1="232.35" x2="104.52" y2="234.65" stroke="#27446f" stroke-width="0.9"/>
<line x1="107.31" y1="232.35" x2="107.31" y2="234.65" stroke="#27446f" stroke-width="0.9"/>
<line x1="108.11" y1="232.35" x2="108.11" y2="234.65" stroke="#27446f" stroke-width="0.9"/>
<line x1="110.45" y1="232.35" x2="110.45" y2="234.65" stroke="#27446f" stroke-width="0.9"/>
<line x1="112.26" y1="232.35" x2="112.26" y2="234.65" stroke="#27446f" stroke-width="0.9"/>
<line x1="114.40" y1="232.35" x2="114.40" y2="234.65" stroke="#27446f" stroke-width="0.9"/>
<line x1="115.36" y1="232.35" x2="115.36" y2="234.65" stroke="#27446f" stroke-width="0.9"/>
<line x1="117.39" y1="232.35" x2="117.39" y2="234.65" stroke="#27446f" stroke-width="0.9"/>
<line x1="70.26" y1="240.95" x2="70.26" y2="243.25" stroke="#5fb65a" stroke-width="0.9"/>
<line x1="71.44" y1="242.25" x2="71.44" y2="244.55" stroke="#5fb65a" stroke-width="0.9"/>
<line x1="76.14" y1="244.60" x2="76.14" y2="246.90" stroke="#5fb65a" stroke-width="0.9"/>
<line x1="77.84" y1="245.65" x2="77.84" y2="247.95" stroke="#5fb65a" stroke-width="0.9"/>
<line x1="79.99" y1="245.98" x2="79.99" y2="248.28" stroke="#5fb65a" stroke-width="0.9"/>
<line x1="82.14" y1="246.32" x2="82.14" y2="248.62" stroke="#5fb65a" stroke-width="0.9"/>
<line x1="85.50" y1="246.83" x2="85.50" y2="249.13" stroke="#5fb65a" stroke-width="0.9"/>
<line x1="89.57" y1="247.17" x2="89.57" y2="249.47" stroke="#5fb65a" stroke-width="0.9"/>
<line x1="92.59" y1="249.10" x2="92.59" y2="251.40" stroke="#5fb65a" stroke-width="0.9"/>
<line x1="98.42" y1="253.05" x2="98.42" y2="255.35" stroke="#5fb65a" stroke-width="0.9"/>
<line x1="100.25" y1="253.05" x2="100.25" y2="255.35" stroke="#5fb65a" stroke-width="0.9"/>
<line x1="102.30" y1="253.05" x2="102.30" y2="255.35" stroke="#5fb65a" stroke-width="0.9"/>
<line x1="105.89" y1="253.05" x2="105.89" y2="255.35" stroke="#5fb65a" stroke-width="0.9"/>
<line x1="108.53" y1="253.05" x2="108.53" y2="255.35" stroke="#5fb65a" stroke-width="0.9"/>
<line x1="109.75" y1="253.05" x2="109.75" y2="255.35" stroke="#5fb65a" stroke-width="0.9"/>
<line x1="111.45" y1="253.05" x2="111.45" y2="255.35" stroke="#5fb65a" stroke-width="0.9"/>
<line x1="113.04" y1="253.05" x2="113.04" y2="255.35" stroke="#5fb65a" stroke-width="0.9"/>
<line x1="115.39" y1="253.05" x2="115.39" y2="255.35" stroke="#5fb65a" stroke-width="0.9"/>
<line x1="118.44" y1="253.05" x2="118.44" y2="255.35" stroke="#5fb65a" stroke-width="0.9"/>
<line x1="157.30" y1="199.00" x2="157.30" y2="287.70" stroke="#231f20" stroke-width="1"/>
<line x1="156.80" y1="287.70" x2="253.00" y2="287.70" stroke="#231f20" stroke-width="1"/>
<line x1="154.70" y1="283.30" x2="157.30" y2="283.30" stroke="#231f20" stroke-width="0.9"/>
<text x="151.80" y="285.90" font-size="7.5" text-anchor="end" fill="#231f20" stroke="#231f20" stroke-width="0.16">0</text>
<line x1="154.70" y1="267.20" x2="157.30" y2="267.20" stroke="#231f20" stroke-width="0.9"/>
<text x="151.80" y="269.80" font-size="7.5" text-anchor="end" fill="#231f20" stroke="#231f20" stroke-width="0.16">0.2</text>
<line x1="154.70" y1="251.10" x2="157.30" y2="251.10" stroke="#231f20" stroke-width="0.9"/>
<text x="151.80" y="253.70" font-size="7.5" text-anchor="end" fill="#231f20" stroke="#231f20" stroke-width="0.16">0.4</text>
<line x1="154.70" y1="235.00" x2="157.30" y2="235.00" stroke="#231f20" stroke-width="0.9"/>
<text x="151.80" y="237.60" font-size="7.5" text-anchor="end" fill="#231f20" stroke="#231f20" stroke-width="0.16">0.6</text>
<line x1="154.70" y1="218.90" x2="157.30" y2="218.90" stroke="#231f20" stroke-width="0.9"/>
<text x="151.80" y="221.50" font-size="7.5" text-anchor="end" fill="#231f20" stroke="#231f20" stroke-width="0.16">0.8</text>
<line x1="154.70" y1="202.80" x2="157.30" y2="202.80" stroke="#231f20" stroke-width="0.9"/>
<text x="151.80" y="205.40" font-size="7.5" text-anchor="end" fill="#231f20" stroke="#231f20" stroke-width="0.16">1.0</text>
<line x1="162.40" y1="287.70" x2="162.40" y2="290.30" stroke="#231f20" stroke-width="0.9"/>
<text x="162.40" y="300.20" font-size="7.3" text-anchor="middle" fill="#231f20" stroke="#231f20" stroke-width="0.16">0</text>
<line x1="179.80" y1="287.70" x2="179.80" y2="290.30" stroke="#231f20" stroke-width="0.9"/>
<text x="179.80" y="300.20" font-size="7.3" text-anchor="middle" fill="#231f20" stroke="#231f20" stroke-width="0.16">5</text>
<line x1="197.20" y1="287.70" x2="197.20" y2="290.30" stroke="#231f20" stroke-width="0.9"/>
<text x="197.20" y="300.20" font-size="7.3" text-anchor="middle" fill="#231f20" stroke="#231f20" stroke-width="0.16">10</text>
<line x1="214.60" y1="287.70" x2="214.60" y2="290.30" stroke="#231f20" stroke-width="0.9"/>
<text x="214.60" y="300.20" font-size="7.3" text-anchor="middle" fill="#231f20" stroke="#231f20" stroke-width="0.16">15</text>
<line x1="232.00" y1="287.70" x2="232.00" y2="290.30" stroke="#231f20" stroke-width="0.9"/>
<text x="232.00" y="300.20" font-size="7.3" text-anchor="middle" fill="#231f20" stroke="#231f20" stroke-width="0.16">20</text>
<line x1="249.40" y1="287.70" x2="249.40" y2="290.30" stroke="#231f20" stroke-width="0.9"/>
<text x="249.40" y="300.20" font-size="7.3" text-anchor="middle" fill="#231f20" stroke="#231f20" stroke-width="0.16">25</text>
<text x="205.80" y="312.30" font-size="8.8" text-anchor="middle" fill="#231f20" font-weight="bold" textLength="42.5" lengthAdjust="spacingAndGlyphs" stroke="#231f20" stroke-width="0.22">Follow-up (yrs)</text>
<text x="205.50" y="193.50" font-size="8.9" text-anchor="middle" fill="#231f20" textLength="16.7" lengthAdjust="spacingAndGlyphs" stroke="#231f20" stroke-width="0.12">&gt;55</text>
<text x="161.80" y="283.50" font-size="6.8" text-anchor="start" fill="#b8405f" textLength="11" lengthAdjust="spacingAndGlyphs" stroke="#b8405f" stroke-width="0.1">n.s.</text>
<path d="M162.80,203.20 L163.58,203.20 L163.58,205.28 L164.36,205.28 L164.36,207.36 L165.14,207.36 L165.14,209.44 L165.92,209.44 L165.92,211.52 L166.70,211.52 L166.70,213.60 L167.83,213.60 L167.83,215.90 L168.97,215.90 L168.97,218.20 L170.10,218.20 L170.10,220.50 L172.70,220.50 L172.70,221.35 L175.30,221.35 L175.30,222.20 L177.45,222.20 L177.45,223.95 L179.60,223.95 L179.60,225.70 L181.35,225.70 L181.35,227.85 L183.10,227.85 L183.10,230.00 L185.47,230.00 L185.47,230.43 L187.85,230.43 L187.85,230.85 L190.22,230.85 L190.22,231.27 L192.60,231.27 L192.60,231.70 L195.20,231.70 L195.20,232.15 L197.80,232.15 L197.80,232.60 L199.95,232.60 L199.95,233.90 L202.10,233.90 L202.10,235.20 L202.95,235.20 L202.95,236.95 L203.80,236.95 L203.80,238.70 L211.60,238.70 L213.40,238.70 L213.40,241.30 L237.60,241.30" fill="none" stroke="#5fb65a" stroke-width="1.05" stroke-linejoin="round"/>
<path d="M162.80,203.20 L164.30,203.20 L164.30,205.80 L165.80,205.80 L165.80,208.40 L166.93,208.40 L166.93,210.40 L168.07,210.40 L168.07,212.40 L169.20,212.40 L169.20,214.40 L170.95,214.40 L170.95,216.15 L172.70,216.15 L172.70,217.90 L174.85,217.90 L174.85,220.05 L177.00,220.05 L177.00,222.20 L178.30,222.20 L178.30,224.35 L179.60,224.35 L179.60,226.50 L181.35,226.50 L181.35,228.25 L183.10,228.25 L183.10,230.00 L185.40,230.00 L185.40,230.57 L187.70,230.57 L187.70,231.13 L190.00,231.13 L190.00,231.70 L192.30,231.70 L192.30,232.00 L194.60,232.00 L194.60,232.30 L196.90,232.30 L196.90,232.60 L199.10,232.60 L199.10,233.05 L201.30,233.05 L201.30,233.50 L203.80,233.50 L203.80,234.30 L206.40,234.30 L206.40,235.20 L227.20,235.20 L227.20,244.70 L234.10,244.70" fill="none" stroke="#27446f" stroke-width="1.05" stroke-linejoin="round"/>
<line x1="169.39" y1="213.25" x2="169.39" y2="215.55" stroke="#27446f" stroke-width="0.9"/>
<line x1="173.27" y1="216.75" x2="173.27" y2="219.05" stroke="#27446f" stroke-width="0.9"/>
<line x1="175.41" y1="218.90" x2="175.41" y2="221.20" stroke="#27446f" stroke-width="0.9"/>
<line x1="178.23" y1="221.05" x2="178.23" y2="223.35" stroke="#27446f" stroke-width="0.9"/>
<line x1="181.11" y1="225.35" x2="181.11" y2="227.65" stroke="#27446f" stroke-width="0.9"/>
<line x1="184.88" y1="228.85" x2="184.88" y2="231.15" stroke="#27446f" stroke-width="0.9"/>
<line x1="187.63" y1="229.42" x2="187.63" y2="231.72" stroke="#27446f" stroke-width="0.9"/>
<line x1="190.47" y1="230.55" x2="190.47" y2="232.85" stroke="#27446f" stroke-width="0.9"/>
<line x1="194.23" y1="230.85" x2="194.23" y2="233.15" stroke="#27446f" stroke-width="0.9"/>
<line x1="196.54" y1="231.15" x2="196.54" y2="233.45" stroke="#27446f" stroke-width="0.9"/>
<line x1="199.43" y1="231.90" x2="199.43" y2="234.20" stroke="#27446f" stroke-width="0.9"/>
<line x1="202.25" y1="232.35" x2="202.25" y2="234.65" stroke="#27446f" stroke-width="0.9"/>
<line x1="206.80" y1="234.05" x2="206.80" y2="236.35" stroke="#27446f" stroke-width="0.9"/>
<line x1="209.27" y1="234.05" x2="209.27" y2="236.35" stroke="#27446f" stroke-width="0.9"/>
<line x1="211.79" y1="234.05" x2="211.79" y2="236.35" stroke="#27446f" stroke-width="0.9"/>
<line x1="215.10" y1="234.05" x2="215.10" y2="236.35" stroke="#27446f" stroke-width="0.9"/>
<line x1="216.59" y1="234.05" x2="216.59" y2="236.35" stroke="#27446f" stroke-width="0.9"/>
<line x1="220.42" y1="234.05" x2="220.42" y2="236.35" stroke="#27446f" stroke-width="0.9"/>
<line x1="224.47" y1="234.05" x2="224.47" y2="236.35" stroke="#27446f" stroke-width="0.9"/>
<line x1="185.46" y1="228.85" x2="185.46" y2="231.15" stroke="#5fb65a" stroke-width="0.9"/>
<line x1="189.28" y1="229.70" x2="189.28" y2="232.00" stroke="#5fb65a" stroke-width="0.9"/>
<line x1="192.02" y1="230.12" x2="192.02" y2="232.42" stroke="#5fb65a" stroke-width="0.9"/>
<line x1="194.91" y1="230.55" x2="194.91" y2="232.85" stroke="#5fb65a" stroke-width="0.9"/>
<line x1="198.12" y1="231.45" x2="198.12" y2="233.75" stroke="#5fb65a" stroke-width="0.9"/>
<line x1="202.64" y1="234.05" x2="202.64" y2="236.35" stroke="#5fb65a" stroke-width="0.9"/>
<line x1="207.60" y1="237.55" x2="207.60" y2="239.85" stroke="#5fb65a" stroke-width="0.9"/>
<line x1="210.47" y1="237.55" x2="210.47" y2="239.85" stroke="#5fb65a" stroke-width="0.9"/>
<line x1="215.00" y1="240.15" x2="215.00" y2="242.45" stroke="#5fb65a" stroke-width="0.9"/>
<line x1="219.53" y1="240.15" x2="219.53" y2="242.45" stroke="#5fb65a" stroke-width="0.9"/>
<line x1="223.53" y1="240.15" x2="223.53" y2="242.45" stroke="#5fb65a" stroke-width="0.9"/>
<line x1="227.46" y1="240.15" x2="227.46" y2="242.45" stroke="#5fb65a" stroke-width="0.9"/>
<line x1="232.12" y1="240.15" x2="232.12" y2="242.45" stroke="#5fb65a" stroke-width="0.9"/>
<line x1="236.64" y1="240.15" x2="236.64" y2="242.45" stroke="#5fb65a" stroke-width="0.9"/>
<line x1="230.00" y1="243.55" x2="230.00" y2="245.85" stroke="#27446f" stroke-width="0.9"/>
<line x1="233.00" y1="243.55" x2="233.00" y2="245.85" stroke="#27446f" stroke-width="0.9"/>
<line x1="297.60" y1="199.20" x2="297.60" y2="287.20" stroke="#231f20" stroke-width="1"/>
<line x1="297.10" y1="287.20" x2="392.00" y2="287.20" stroke="#231f20" stroke-width="1"/>
<line x1="295.00" y1="282.80" x2="297.60" y2="282.80" stroke="#231f20" stroke-width="0.9"/>
<text x="292.10" y="285.40" font-size="7.5" text-anchor="end" fill="#231f20" stroke="#231f20" stroke-width="0.16">0</text>
<line x1="295.00" y1="266.84" x2="297.60" y2="266.84" stroke="#231f20" stroke-width="0.9"/>
<text x="292.10" y="269.44" font-size="7.5" text-anchor="end" fill="#231f20" stroke="#231f20" stroke-width="0.16">0.2</text>
<line x1="295.00" y1="250.88" x2="297.60" y2="250.88" stroke="#231f20" stroke-width="0.9"/>
<text x="292.10" y="253.48" font-size="7.5" text-anchor="end" fill="#231f20" stroke="#231f20" stroke-width="0.16">0.4</text>
<line x1="295.00" y1="234.92" x2="297.60" y2="234.92" stroke="#231f20" stroke-width="0.9"/>
<text x="292.10" y="237.52" font-size="7.5" text-anchor="end" fill="#231f20" stroke="#231f20" stroke-width="0.16">0.6</text>
<line x1="295.00" y1="218.96" x2="297.60" y2="218.96" stroke="#231f20" stroke-width="0.9"/>
<text x="292.10" y="221.56" font-size="7.5" text-anchor="end" fill="#231f20" stroke="#231f20" stroke-width="0.16">0.8</text>
<line x1="295.00" y1="203.00" x2="297.60" y2="203.00" stroke="#231f20" stroke-width="0.9"/>
<text x="292.10" y="205.60" font-size="7.5" text-anchor="end" fill="#231f20" stroke="#231f20" stroke-width="0.16">1.0</text>
<line x1="303.10" y1="287.20" x2="303.10" y2="289.80" stroke="#231f20" stroke-width="0.9"/>
<text x="303.10" y="299.70" font-size="7.3" text-anchor="middle" fill="#231f20" stroke="#231f20" stroke-width="0.16">0</text>
<line x1="320.50" y1="287.20" x2="320.50" y2="289.80" stroke="#231f20" stroke-width="0.9"/>
<text x="320.50" y="299.70" font-size="7.3" text-anchor="middle" fill="#231f20" stroke="#231f20" stroke-width="0.16">5</text>
<line x1="337.90" y1="287.20" x2="337.90" y2="289.80" stroke="#231f20" stroke-width="0.9"/>
<text x="337.90" y="299.70" font-size="7.3" text-anchor="middle" fill="#231f20" stroke="#231f20" stroke-width="0.16">10</text>
<line x1="355.30" y1="287.20" x2="355.30" y2="289.80" stroke="#231f20" stroke-width="0.9"/>
<text x="355.30" y="299.70" font-size="7.3" text-anchor="middle" fill="#231f20" stroke="#231f20" stroke-width="0.16">15</text>
<line x1="372.70" y1="287.20" x2="372.70" y2="289.80" stroke="#231f20" stroke-width="0.9"/>
<text x="372.70" y="299.70" font-size="7.3" text-anchor="middle" fill="#231f20" stroke="#231f20" stroke-width="0.16">20</text>
<line x1="390.10" y1="287.20" x2="390.10" y2="289.80" stroke="#231f20" stroke-width="0.9"/>
<text x="390.10" y="299.70" font-size="7.3" text-anchor="middle" fill="#231f20" stroke="#231f20" stroke-width="0.16">25</text>
<text x="345.80" y="311.80" font-size="8.8" text-anchor="middle" fill="#231f20" font-weight="bold" textLength="42.5" lengthAdjust="spacingAndGlyphs" stroke="#231f20" stroke-width="0.22">Follow-up (yrs)</text>
<text x="275.00" y="242.90" font-size="8.8" text-anchor="middle" fill="#231f20" font-weight="bold" textLength="41.6" lengthAdjust="spacingAndGlyphs" stroke="#231f20" stroke-width="0.22" transform="rotate(-90 275.00 242.90)">Overall survival</text>
<text x="346.40" y="193.20" font-size="8.9" text-anchor="middle" fill="#231f20" textLength="16.7" lengthAdjust="spacingAndGlyphs" stroke="#231f20" stroke-width="0.12">&lt;55</text>
<text x="303.30" y="283.30" font-size="7.6" text-anchor="start" fill="#231f20" textLength="27.5" lengthAdjust="spacingAndGlyphs" stroke="#231f20" stroke-width="0.16"><tspan font-style="italic">P</tspan> = .004</text>
<path d="M303.20,203.50 L305.35,203.50 L305.35,204.65 L307.50,204.65 L307.50,205.80 L308.37,205.80 L308.37,207.80 L309.23,207.80 L309.23,209.80 L310.10,209.80 L310.10,211.80 L310.67,211.80 L310.67,214.13 L311.23,214.13 L311.23,216.47 L311.80,216.47 L311.80,218.80 L314.40,218.80 L314.40,221.40 L317.00,221.40 L317.00,222.25 L319.60,222.25 L319.60,223.10 L321.80,223.10 L321.80,224.80 L324.00,224.80 L324.00,226.50 L326.00,226.50 L326.00,227.37 L328.00,227.37 L328.00,228.23 L330.00,228.23 L330.00,229.10 L332.03,229.10 L332.03,230.27 L334.07,230.27 L334.07,231.43 L336.10,231.43 L336.10,232.60 L338.70,232.60 L338.70,234.35 L341.30,234.35 L341.30,236.10 L343.45,236.10 L343.45,237.80 L345.60,237.80 L345.60,239.50 L347.60,239.50 L347.60,239.80 L349.60,239.80 L349.60,240.10 L351.60,240.10 L351.60,240.40 L353.35,240.40 L353.35,241.85 L355.10,241.85 L355.10,243.30 L357.70,243.30 L357.70,243.85 L360.30,243.85 L360.30,244.40 L362.45,244.40 L362.45,245.70 L364.60,245.70 L364.60,247.00 L366.30,247.00 L366.30,249.90 L381.00,249.90" fill="none" stroke="#5fb65a" stroke-width="1.05" stroke-linejoin="round"/>
<path d="M303.20,203.50 L305.80,203.50 L305.80,204.20 L308.40,204.20 L308.40,204.90 L310.10,204.90 L310.10,207.05 L311.80,207.05 L311.80,209.20 L314.13,209.20 L314.13,209.40 L316.47,209.40 L316.47,209.60 L318.80,209.60 L318.80,209.80 L320.50,209.80 L320.50,210.80 L322.20,210.80 L322.20,211.80 L323.95,211.80 L323.95,213.55 L325.70,213.55 L325.70,215.30 L328.00,215.30 L328.00,216.47 L330.30,216.47 L330.30,217.63 L332.60,217.63 L332.60,218.80 L334.90,218.80 L334.90,219.23 L337.20,219.23 L337.20,219.67 L339.50,219.67 L339.50,220.10 L341.80,220.10 L341.80,220.93 L344.10,220.93 L344.10,221.77 L346.40,221.77 L346.40,222.60 L348.73,222.60 L348.73,223.07 L351.07,223.07 L351.07,223.53 L353.40,223.53 L353.40,224.00 L355.10,224.00 L355.10,225.25 L356.80,225.25 L356.80,226.50 L359.40,226.50 L359.40,227.80 L362.00,227.80 L362.00,229.10 L364.60,229.10 L364.60,230.15 L367.20,230.15 L367.20,231.20 L369.80,231.20 L369.80,231.90 L372.40,231.90 L372.40,232.60 L374.10,232.60 L374.10,234.90 L380.20,234.90" fill="none" stroke="#27446f" stroke-width="1.05" stroke-linejoin="round"/>
<line x1="340.58" y1="218.95" x2="340.58" y2="221.25" stroke="#27446f" stroke-width="0.9"/>
<line x1="342.47" y1="219.78" x2="342.47" y2="222.08" stroke="#27446f" stroke-width="0.9"/>
<line x1="344.75" y1="220.62" x2="344.75" y2="222.92" stroke="#27446f" stroke-width="0.9"/>
<line x1="346.20" y1="220.62" x2="346.20" y2="222.92" stroke="#27446f" stroke-width="0.9"/>
<line x1="350.31" y1="221.92" x2="350.31" y2="224.22" stroke="#27446f" stroke-width="0.9"/>
<line x1="352.57" y1="222.38" x2="352.57" y2="224.68" stroke="#27446f" stroke-width="0.9"/>
<line x1="354.51" y1="222.85" x2="354.51" y2="225.15" stroke="#27446f" stroke-width="0.9"/>
<line x1="358.96" y1="225.35" x2="358.96" y2="227.65" stroke="#27446f" stroke-width="0.9"/>
<line x1="361.55" y1="226.65" x2="361.55" y2="228.95" stroke="#27446f" stroke-width="0.9"/>
<line x1="365.00" y1="229.00" x2="365.00" y2="231.30" stroke="#27446f" stroke-width="0.9"/>
<line x1="368.86" y1="230.05" x2="368.86" y2="232.35" stroke="#27446f" stroke-width="0.9"/>
<line x1="369.94" y1="230.75" x2="369.94" y2="233.05" stroke="#27446f" stroke-width="0.9"/>
<line x1="372.45" y1="231.45" x2="372.45" y2="233.75" stroke="#27446f" stroke-width="0.9"/>
<line x1="376.69" y1="233.75" x2="376.69" y2="236.05" stroke="#27446f" stroke-width="0.9"/>
<line x1="378.54" y1="233.75" x2="378.54" y2="236.05" stroke="#27446f" stroke-width="0.9"/>
<line x1="350.72" y1="238.95" x2="350.72" y2="241.25" stroke="#5fb65a" stroke-width="0.9"/>
<line x1="353.42" y1="240.70" x2="353.42" y2="243.00" stroke="#5fb65a" stroke-width="0.9"/>
<line x1="358.75" y1="242.70" x2="358.75" y2="245.00" stroke="#5fb65a" stroke-width="0.9"/>
<line x1="362.12" y1="243.25" x2="362.12" y2="245.55" stroke="#5fb65a" stroke-width="0.9"/>
<line x1="364.81" y1="245.85" x2="364.81" y2="248.15" stroke="#5fb65a" stroke-width="0.9"/>
<line x1="366.74" y1="248.75" x2="366.74" y2="251.05" stroke="#5fb65a" stroke-width="0.9"/>
<line x1="371.24" y1="248.75" x2="371.24" y2="251.05" stroke="#5fb65a" stroke-width="0.9"/>
<line x1="374.61" y1="248.75" x2="374.61" y2="251.05" stroke="#5fb65a" stroke-width="0.9"/>
<line x1="379.00" y1="248.75" x2="379.00" y2="251.05" stroke="#5fb65a" stroke-width="0.9"/>
<line x1="416.90" y1="199.20" x2="416.90" y2="287.20" stroke="#231f20" stroke-width="1"/>
<line x1="416.40" y1="287.20" x2="513.00" y2="287.20" stroke="#231f20" stroke-width="1"/>
<line x1="414.30" y1="282.80" x2="416.90" y2="282.80" stroke="#231f20" stroke-width="0.9"/>
<text x="411.40" y="285.40" font-size="7.5" text-anchor="end" fill="#231f20" stroke="#231f20" stroke-width="0.16">0</text>
<line x1="414.30" y1="266.84" x2="416.90" y2="266.84" stroke="#231f20" stroke-width="0.9"/>
<text x="411.40" y="269.44" font-size="7.5" text-anchor="end" fill="#231f20" stroke="#231f20" stroke-width="0.16">0.2</text>
<line x1="414.30" y1="250.88" x2="416.90" y2="250.88" stroke="#231f20" stroke-width="0.9"/>
<text x="411.40" y="253.48" font-size="7.5" text-anchor="end" fill="#231f20" stroke="#231f20" stroke-width="0.16">0.4</text>
<line x1="414.30" y1="234.92" x2="416.90" y2="234.92" stroke="#231f20" stroke-width="0.9"/>
<text x="411.40" y="237.52" font-size="7.5" text-anchor="end" fill="#231f20" stroke="#231f20" stroke-width="0.16">0.6</text>
<line x1="414.30" y1="218.96" x2="416.90" y2="218.96" stroke="#231f20" stroke-width="0.9"/>
<text x="411.40" y="221.56" font-size="7.5" text-anchor="end" fill="#231f20" stroke="#231f20" stroke-width="0.16">0.8</text>
<line x1="414.30" y1="203.00" x2="416.90" y2="203.00" stroke="#231f20" stroke-width="0.9"/>
<text x="411.40" y="205.60" font-size="7.5" text-anchor="end" fill="#231f20" stroke="#231f20" stroke-width="0.16">1.0</text>
<line x1="421.90" y1="287.20" x2="421.90" y2="289.80" stroke="#231f20" stroke-width="0.9"/>
<text x="421.90" y="299.70" font-size="7.3" text-anchor="middle" fill="#231f20" stroke="#231f20" stroke-width="0.16">0</text>
<line x1="439.30" y1="287.20" x2="439.30" y2="289.80" stroke="#231f20" stroke-width="0.9"/>
<text x="439.30" y="299.70" font-size="7.3" text-anchor="middle" fill="#231f20" stroke="#231f20" stroke-width="0.16">5</text>
<line x1="456.70" y1="287.20" x2="456.70" y2="289.80" stroke="#231f20" stroke-width="0.9"/>
<text x="456.70" y="299.70" font-size="7.3" text-anchor="middle" fill="#231f20" stroke="#231f20" stroke-width="0.16">10</text>
<line x1="474.10" y1="287.20" x2="474.10" y2="289.80" stroke="#231f20" stroke-width="0.9"/>
<text x="474.10" y="299.70" font-size="7.3" text-anchor="middle" fill="#231f20" stroke="#231f20" stroke-width="0.16">15</text>
<line x1="491.50" y1="287.20" x2="491.50" y2="289.80" stroke="#231f20" stroke-width="0.9"/>
<text x="491.50" y="299.70" font-size="7.3" text-anchor="middle" fill="#231f20" stroke="#231f20" stroke-width="0.16">20</text>
<line x1="508.90" y1="287.20" x2="508.90" y2="289.80" stroke="#231f20" stroke-width="0.9"/>
<text x="508.90" y="299.70" font-size="7.3" text-anchor="middle" fill="#231f20" stroke="#231f20" stroke-width="0.16">25</text>
<text x="464.60" y="311.80" font-size="8.8" text-anchor="middle" fill="#231f20" font-weight="bold" textLength="42.5" lengthAdjust="spacingAndGlyphs" stroke="#231f20" stroke-width="0.22">Follow-up (yrs)</text>
<text x="465.00" y="193.20" font-size="8.9" text-anchor="middle" fill="#231f20" textLength="16.7" lengthAdjust="spacingAndGlyphs" stroke="#231f20" stroke-width="0.12">&gt;55</text>
<text x="421.30" y="283.00" font-size="6.8" text-anchor="start" fill="#b8405f" textLength="11" lengthAdjust="spacingAndGlyphs" stroke="#b8405f" stroke-width="0.1">n.s.</text>
<path d="M421.80,204.10 L423.45,204.10 L423.45,206.03 L425.10,206.03 L425.10,207.95 L426.75,207.95 L426.75,209.88 L428.40,209.88 L428.40,211.80 L429.70,211.80 L429.70,213.98 L431.00,213.98 L431.00,216.15 L432.30,216.15 L432.30,218.32 L433.60,218.32 L433.60,220.50 L435.75,220.50 L435.75,223.10 L437.90,223.10 L437.90,225.70 L439.65,225.70 L439.65,227.00 L441.40,227.00 L441.40,228.30 L442.70,228.30 L442.70,230.00 L444.00,230.00 L444.00,231.70 L445.25,231.70 L445.25,234.30 L446.50,234.30 L446.50,236.90 L447.80,236.90 L447.80,239.50 L449.10,239.50 L449.10,242.10 L450.27,242.10 L450.27,244.13 L451.43,244.13 L451.43,246.17 L452.60,246.17 L452.60,248.20 L454.35,248.20 L454.35,250.35 L456.10,250.35 L456.10,252.50 L458.25,252.50 L458.25,254.25 L460.40,254.25 L460.40,256.00 L462.55,256.00 L462.55,256.85 L464.70,256.85 L464.70,257.70 L469.90,257.70 L471.65,257.70 L471.65,259.00 L473.40,259.00 L473.40,260.30 L474.25,260.30 L474.25,262.45 L475.10,262.45 L475.10,264.60 L484.60,264.60 L485.45,264.60 L485.45,266.75 L486.30,266.75 L486.30,268.90 L495.90,268.90" fill="none" stroke="#5fb65a" stroke-width="1.05" stroke-linejoin="round"/>
<path d="M421.80,204.10 L423.70,204.10 L423.70,205.53 L425.60,205.53 L425.60,206.97 L427.50,206.97 L427.50,208.40 L428.57,208.40 L428.57,210.55 L429.65,210.55 L429.65,212.70 L430.73,212.70 L430.73,214.85 L431.80,214.85 L431.80,217.00 L433.27,217.00 L433.27,219.33 L434.73,219.33 L434.73,221.67 L436.20,221.67 L436.20,224.00 L437.50,224.00 L437.50,226.55 L438.80,226.55 L438.80,229.10 L439.93,229.10 L439.93,231.13 L441.07,231.13 L441.07,233.17 L442.20,233.17 L442.20,235.20 L444.35,235.20 L444.35,237.35 L446.50,237.35 L446.50,239.50 L448.25,239.50 L448.25,240.80 L450.00,240.80 L450.00,242.10 L452.15,242.10 L452.15,242.70 L454.30,242.70 L454.30,243.30 L456.50,243.30 L456.50,244.85 L458.70,244.85 L458.70,246.40 L460.85,246.40 L460.85,248.15 L463.00,248.15 L463.00,249.90 L465.15,249.90 L465.15,252.05 L467.30,252.05 L467.30,254.20 L469.45,254.20 L469.45,255.95 L471.60,255.95 L471.60,257.70 L472.90,257.70 L472.90,259.40 L474.20,259.40 L474.20,261.10 L474.65,261.10 L474.65,262.85 L475.10,262.85 L475.10,264.60 L485.50,264.60 L485.90,264.60 L485.90,266.75 L486.30,266.75 L486.30,268.90 L487.60,268.90 L487.60,271.10 L488.90,271.10 L488.90,273.30 L492.40,273.30" fill="none" stroke="#27446f" stroke-width="1.05" stroke-linejoin="round"/>
<line x1="454.64" y1="242.15" x2="454.64" y2="244.45" stroke="#27446f" stroke-width="0.9"/>
<line x1="458.80" y1="245.25" x2="458.80" y2="247.55" stroke="#27446f" stroke-width="0.9"/>
<line x1="461.42" y1="247.00" x2="461.42" y2="249.30" stroke="#27446f" stroke-width="0.9"/>
<line x1="464.91" y1="248.75" x2="464.91" y2="251.05" stroke="#27446f" stroke-width="0.9"/>
<line x1="469.51" y1="254.80" x2="469.51" y2="257.10" stroke="#27446f" stroke-width="0.9"/>
<line x1="471.30" y1="254.80" x2="471.30" y2="257.10" stroke="#27446f" stroke-width="0.9"/>
<line x1="473.39" y1="258.25" x2="473.39" y2="260.55" stroke="#27446f" stroke-width="0.9"/>
<line x1="475.94" y1="263.45" x2="475.94" y2="265.75" stroke="#27446f" stroke-width="0.9"/>
<line x1="479.29" y1="263.45" x2="479.29" y2="265.75" stroke="#27446f" stroke-width="0.9"/>
<line x1="482.28" y1="263.45" x2="482.28" y2="265.75" stroke="#27446f" stroke-width="0.9"/>
<line x1="485.13" y1="263.45" x2="485.13" y2="265.75" stroke="#27446f" stroke-width="0.9"/>
<line x1="488.53" y1="269.95" x2="488.53" y2="272.25" stroke="#27446f" stroke-width="0.9"/>
<line x1="490.65" y1="272.15" x2="490.65" y2="274.45" stroke="#27446f" stroke-width="0.9"/>
<line x1="469.28" y1="256.55" x2="469.28" y2="258.85" stroke="#5fb65a" stroke-width="0.9"/>
<line x1="471.95" y1="257.85" x2="471.95" y2="260.15" stroke="#5fb65a" stroke-width="0.9"/>
<line x1="475.35" y1="263.45" x2="475.35" y2="265.75" stroke="#5fb65a" stroke-width="0.9"/>
<line x1="477.39" y1="263.45" x2="477.39" y2="265.75" stroke="#5fb65a" stroke-width="0.9"/>
<line x1="481.40" y1="263.45" x2="481.40" y2="265.75" stroke="#5fb65a" stroke-width="0.9"/>
<line x1="485.28" y1="263.45" x2="485.28" y2="265.75" stroke="#5fb65a" stroke-width="0.9"/>
<line x1="488.11" y1="267.75" x2="488.11" y2="270.05" stroke="#5fb65a" stroke-width="0.9"/>
<line x1="491.69" y1="267.75" x2="491.69" y2="270.05" stroke="#5fb65a" stroke-width="0.9"/>
<line x1="494.34" y1="267.75" x2="494.34" y2="270.05" stroke="#5fb65a" stroke-width="0.9"/>
<line x1="74.80" y1="369.20" x2="74.80" y2="457.40" stroke="#231f20" stroke-width="1"/>
<line x1="74.30" y1="457.40" x2="170.80" y2="457.40" stroke="#231f20" stroke-width="1"/>
<line x1="72.20" y1="453.00" x2="74.80" y2="453.00" stroke="#231f20" stroke-width="0.9"/>
<text x="69.30" y="455.60" font-size="7.5" text-anchor="end" fill="#231f20" stroke="#231f20" stroke-width="0.16">0</text>
<line x1="72.20" y1="437.00" x2="74.80" y2="437.00" stroke="#231f20" stroke-width="0.9"/>
<text x="69.30" y="439.60" font-size="7.5" text-anchor="end" fill="#231f20" stroke="#231f20" stroke-width="0.16">0.2</text>
<line x1="72.20" y1="421.00" x2="74.80" y2="421.00" stroke="#231f20" stroke-width="0.9"/>
<text x="69.30" y="423.60" font-size="7.5" text-anchor="end" fill="#231f20" stroke="#231f20" stroke-width="0.16">0.4</text>
<line x1="72.20" y1="405.00" x2="74.80" y2="405.00" stroke="#231f20" stroke-width="0.9"/>
<text x="69.30" y="407.60" font-size="7.5" text-anchor="end" fill="#231f20" stroke="#231f20" stroke-width="0.16">0.6</text>
<line x1="72.20" y1="389.00" x2="74.80" y2="389.00" stroke="#231f20" stroke-width="0.9"/>
<text x="69.30" y="391.60" font-size="7.5" text-anchor="end" fill="#231f20" stroke="#231f20" stroke-width="0.16">0.8</text>
<line x1="72.20" y1="373.00" x2="74.80" y2="373.00" stroke="#231f20" stroke-width="0.9"/>
<text x="69.30" y="375.60" font-size="7.5" text-anchor="end" fill="#231f20" stroke="#231f20" stroke-width="0.16">1.0</text>
<line x1="79.50" y1="457.40" x2="79.50" y2="460.00" stroke="#231f20" stroke-width="0.9"/>
<text x="79.50" y="469.90" font-size="7.3" text-anchor="middle" fill="#231f20" stroke="#231f20" stroke-width="0.16">0</text>
<line x1="96.90" y1="457.40" x2="96.90" y2="460.00" stroke="#231f20" stroke-width="0.9"/>
<text x="96.90" y="469.90" font-size="7.3" text-anchor="middle" fill="#231f20" stroke="#231f20" stroke-width="0.16">5</text>
<line x1="114.30" y1="457.40" x2="114.30" y2="460.00" stroke="#231f20" stroke-width="0.9"/>
<text x="114.30" y="469.90" font-size="7.3" text-anchor="middle" fill="#231f20" stroke="#231f20" stroke-width="0.16">10</text>
<line x1="131.70" y1="457.40" x2="131.70" y2="460.00" stroke="#231f20" stroke-width="0.9"/>
<text x="131.70" y="469.90" font-size="7.3" text-anchor="middle" fill="#231f20" stroke="#231f20" stroke-width="0.16">15</text>
<line x1="149.10" y1="457.40" x2="149.10" y2="460.00" stroke="#231f20" stroke-width="0.9"/>
<text x="149.10" y="469.90" font-size="7.3" text-anchor="middle" fill="#231f20" stroke="#231f20" stroke-width="0.16">20</text>
<line x1="166.50" y1="457.40" x2="166.50" y2="460.00" stroke="#231f20" stroke-width="0.9"/>
<text x="166.50" y="469.90" font-size="7.3" text-anchor="middle" fill="#231f20" stroke="#231f20" stroke-width="0.16">25</text>
<text x="123.00" y="482.00" font-size="8.8" text-anchor="middle" fill="#231f20" font-weight="bold" textLength="42.5" lengthAdjust="spacingAndGlyphs" stroke="#231f20" stroke-width="0.22">Follow-up (yrs)</text>
<text x="53.20" y="413.00" font-size="8.8" text-anchor="middle" fill="#231f20" font-weight="bold" textLength="65.5" lengthAdjust="spacingAndGlyphs" stroke="#231f20" stroke-width="0.22" transform="rotate(-90 53.20 413.00)">Metastasis-free survival</text>
<text x="123.00" y="352.70" font-size="9" text-anchor="middle" fill="#231f20" stroke="#231f20" stroke-width="0.1">primary</text>
<text x="122.60" y="363.70" font-size="9" text-anchor="middle" fill="#231f20" textLength="77.5" lengthAdjust="spacingAndGlyphs" stroke="#231f20" stroke-width="0.1">metastasis, liver&lt;55</text>
<text x="79.70" y="453.50" font-size="7.6" text-anchor="start" fill="#231f20" textLength="27.5" lengthAdjust="spacingAndGlyphs" stroke="#231f20" stroke-width="0.16"><tspan font-style="italic">P</tspan> = .016</text>
<path d="M80.30,373.20 L81.60,373.20 L81.60,375.35 L82.90,375.35 L82.90,377.50 L83.80,377.50 L83.80,379.85 L84.70,379.85 L84.70,382.20 L86.85,382.20 L86.85,382.70 L89.00,382.70 L89.00,383.20 L91.60,383.20 L91.60,385.30 L102.00,385.30 L102.80,385.30 L102.80,387.00 L113.20,387.00 L114.10,387.00 L114.10,390.10 L131.40,390.10 L131.80,390.10 L131.80,391.85 L132.20,391.85 L132.20,393.60 L157.30,393.60" fill="none" stroke="#5fb65a" stroke-width="1.05" stroke-linejoin="round"/>
<path d="M80.30,373.20 L82.05,373.20 L82.05,374.25 L83.80,374.25 L83.80,375.30 L85.80,375.30 L85.80,375.63 L87.80,375.63 L87.80,375.97 L89.80,375.97 L89.80,376.30 L91.55,376.30 L91.55,376.90 L93.30,376.90 L93.30,377.50 L103.70,377.50 L106.30,377.50 L106.30,379.80 L144.30,379.80 L145.20,379.80 L145.20,381.80 L147.80,381.80 L147.80,383.20 L149.50,383.20 L149.50,386.20 L156.40,386.20" fill="none" stroke="#27446f" stroke-width="1.05" stroke-linejoin="round"/>
<line x1="86.24" y1="374.48" x2="86.24" y2="376.78" stroke="#27446f" stroke-width="0.9"/>
<line x1="89.34" y1="374.82" x2="89.34" y2="377.12" stroke="#27446f" stroke-width="0.9"/>
<line x1="94.02" y1="376.35" x2="94.02" y2="378.65" stroke="#27446f" stroke-width="0.9"/>
<line x1="97.13" y1="376.35" x2="97.13" y2="378.65" stroke="#27446f" stroke-width="0.9"/>
<line x1="100.25" y1="376.35" x2="100.25" y2="378.65" stroke="#27446f" stroke-width="0.9"/>
<line x1="102.88" y1="376.35" x2="102.88" y2="378.65" stroke="#27446f" stroke-width="0.9"/>
<line x1="107.91" y1="378.65" x2="107.91" y2="380.95" stroke="#27446f" stroke-width="0.9"/>
<line x1="111.47" y1="378.65" x2="111.47" y2="380.95" stroke="#27446f" stroke-width="0.9"/>
<line x1="114.28" y1="378.65" x2="114.28" y2="380.95" stroke="#27446f" stroke-width="0.9"/>
<line x1="116.34" y1="378.65" x2="116.34" y2="380.95" stroke="#27446f" stroke-width="0.9"/>
<line x1="119.62" y1="378.65" x2="119.62" y2="380.95" stroke="#27446f" stroke-width="0.9"/>
<line x1="121.87" y1="378.65" x2="121.87" y2="380.95" stroke="#27446f" stroke-width="0.9"/>
<line x1="126.43" y1="378.65" x2="126.43" y2="380.95" stroke="#27446f" stroke-width="0.9"/>
<line x1="128.70" y1="378.65" x2="128.70" y2="380.95" stroke="#27446f" stroke-width="0.9"/>
<line x1="132.65" y1="378.65" x2="132.65" y2="380.95" stroke="#27446f" stroke-width="0.9"/>
<line x1="135.00" y1="378.65" x2="135.00" y2="380.95" stroke="#27446f" stroke-width="0.9"/>
<line x1="136.96" y1="378.65" x2="136.96" y2="380.95" stroke="#27446f" stroke-width="0.9"/>
<line x1="141.60" y1="378.65" x2="141.60" y2="380.95" stroke="#27446f" stroke-width="0.9"/>
<line x1="143.63" y1="378.65" x2="143.63" y2="380.95" stroke="#27446f" stroke-width="0.9"/>
<line x1="147.83" y1="382.05" x2="147.83" y2="384.35" stroke="#27446f" stroke-width="0.9"/>
<line x1="150.99" y1="385.05" x2="150.99" y2="387.35" stroke="#27446f" stroke-width="0.9"/>
<line x1="153.18" y1="385.05" x2="153.18" y2="387.35" stroke="#27446f" stroke-width="0.9"/>
<line x1="87.68" y1="381.55" x2="87.68" y2="383.85" stroke="#5fb65a" stroke-width="0.9"/>
<line x1="91.33" y1="382.05" x2="91.33" y2="384.35" stroke="#5fb65a" stroke-width="0.9"/>
<line x1="95.81" y1="384.15" x2="95.81" y2="386.45" stroke="#5fb65a" stroke-width="0.9"/>
<line x1="97.72" y1="384.15" x2="97.72" y2="386.45" stroke="#5fb65a" stroke-width="0.9"/>
<line x1="101.03" y1="384.15" x2="101.03" y2="386.45" stroke="#5fb65a" stroke-width="0.9"/>
<line x1="105.07" y1="385.85" x2="105.07" y2="388.15" stroke="#5fb65a" stroke-width="0.9"/>
<line x1="107.71" y1="385.85" x2="107.71" y2="388.15" stroke="#5fb65a" stroke-width="0.9"/>
<line x1="111.60" y1="385.85" x2="111.60" y2="388.15" stroke="#5fb65a" stroke-width="0.9"/>
<line x1="113.83" y1="385.85" x2="113.83" y2="388.15" stroke="#5fb65a" stroke-width="0.9"/>
<line x1="117.33" y1="388.95" x2="117.33" y2="391.25" stroke="#5fb65a" stroke-width="0.9"/>
<line x1="120.64" y1="388.95" x2="120.64" y2="391.25" stroke="#5fb65a" stroke-width="0.9"/>
<line x1="125.71" y1="388.95" x2="125.71" y2="391.25" stroke="#5fb65a" stroke-width="0.9"/>
<line x1="129.38" y1="388.95" x2="129.38" y2="391.25" stroke="#5fb65a" stroke-width="0.9"/>
<line x1="133.68" y1="392.45" x2="133.68" y2="394.75" stroke="#5fb65a" stroke-width="0.9"/>
<line x1="138.57" y1="392.45" x2="138.57" y2="394.75" stroke="#5fb65a" stroke-width="0.9"/>
<line x1="140.80" y1="392.45" x2="140.80" y2="394.75" stroke="#5fb65a" stroke-width="0.9"/>
<line x1="143.30" y1="392.45" x2="143.30" y2="394.75" stroke="#5fb65a" stroke-width="0.9"/>
<line x1="146.71" y1="392.45" x2="146.71" y2="394.75" stroke="#5fb65a" stroke-width="0.9"/>
<line x1="148.37" y1="392.45" x2="148.37" y2="394.75" stroke="#5fb65a" stroke-width="0.9"/>
<line x1="153.09" y1="392.45" x2="153.09" y2="394.75" stroke="#5fb65a" stroke-width="0.9"/>
<line x1="157.41" y1="392.45" x2="157.41" y2="394.75" stroke="#5fb65a" stroke-width="0.9"/>
<line x1="196.00" y1="369.40" x2="196.00" y2="457.40" stroke="#231f20" stroke-width="1"/>
<line x1="195.50" y1="457.40" x2="293.30" y2="457.40" stroke="#231f20" stroke-width="1"/>
<line x1="193.40" y1="453.00" x2="196.00" y2="453.00" stroke="#231f20" stroke-width="0.9"/>
<text x="190.50" y="455.60" font-size="7.5" text-anchor="end" fill="#231f20" stroke="#231f20" stroke-width="0.16">0</text>
<line x1="193.40" y1="437.04" x2="196.00" y2="437.04" stroke="#231f20" stroke-width="0.9"/>
<text x="190.50" y="439.64" font-size="7.5" text-anchor="end" fill="#231f20" stroke="#231f20" stroke-width="0.16">0.2</text>
<line x1="193.40" y1="421.08" x2="196.00" y2="421.08" stroke="#231f20" stroke-width="0.9"/>
<text x="190.50" y="423.68" font-size="7.5" text-anchor="end" fill="#231f20" stroke="#231f20" stroke-width="0.16">0.4</text>
<line x1="193.40" y1="405.12" x2="196.00" y2="405.12" stroke="#231f20" stroke-width="0.9"/>
<text x="190.50" y="407.72" font-size="7.5" text-anchor="end" fill="#231f20" stroke="#231f20" stroke-width="0.16">0.6</text>
<line x1="193.40" y1="389.16" x2="196.00" y2="389.16" stroke="#231f20" stroke-width="0.9"/>
<text x="190.50" y="391.76" font-size="7.5" text-anchor="end" fill="#231f20" stroke="#231f20" stroke-width="0.16">0.8</text>
<line x1="193.40" y1="373.20" x2="196.00" y2="373.20" stroke="#231f20" stroke-width="0.9"/>
<text x="190.50" y="375.80" font-size="7.5" text-anchor="end" fill="#231f20" stroke="#231f20" stroke-width="0.16">1.0</text>
<line x1="201.70" y1="457.40" x2="201.70" y2="460.00" stroke="#231f20" stroke-width="0.9"/>
<text x="201.70" y="469.90" font-size="7.3" text-anchor="middle" fill="#231f20" stroke="#231f20" stroke-width="0.16">0</text>
<line x1="219.10" y1="457.40" x2="219.10" y2="460.00" stroke="#231f20" stroke-width="0.9"/>
<text x="219.10" y="469.90" font-size="7.3" text-anchor="middle" fill="#231f20" stroke="#231f20" stroke-width="0.16">5</text>
<line x1="236.50" y1="457.40" x2="236.50" y2="460.00" stroke="#231f20" stroke-width="0.9"/>
<text x="236.50" y="469.90" font-size="7.3" text-anchor="middle" fill="#231f20" stroke="#231f20" stroke-width="0.16">10</text>
<line x1="253.90" y1="457.40" x2="253.90" y2="460.00" stroke="#231f20" stroke-width="0.9"/>
<text x="253.90" y="469.90" font-size="7.3" text-anchor="middle" fill="#231f20" stroke="#231f20" stroke-width="0.16">15</text>
<line x1="271.30" y1="457.40" x2="271.30" y2="460.00" stroke="#231f20" stroke-width="0.9"/>
<text x="271.30" y="469.90" font-size="7.3" text-anchor="middle" fill="#231f20" stroke="#231f20" stroke-width="0.16">20</text>
<line x1="288.70" y1="457.40" x2="288.70" y2="460.00" stroke="#231f20" stroke-width="0.9"/>
<text x="288.70" y="469.90" font-size="7.3" text-anchor="middle" fill="#231f20" stroke="#231f20" stroke-width="0.16">25</text>
<text x="244.80" y="482.00" font-size="8.8" text-anchor="middle" fill="#231f20" font-weight="bold" textLength="42.5" lengthAdjust="spacingAndGlyphs" stroke="#231f20" stroke-width="0.22">Follow-up (yrs)</text>
<text x="245.00" y="352.70" font-size="9" text-anchor="middle" fill="#231f20" stroke="#231f20" stroke-width="0.1">primary</text>
<text x="244.80" y="363.70" font-size="9" text-anchor="middle" fill="#231f20" textLength="79.2" lengthAdjust="spacingAndGlyphs" stroke="#231f20" stroke-width="0.1">metastasis, lung&lt;55</text>
<text x="201.10" y="453.20" font-size="6.8" text-anchor="start" fill="#b8405f" textLength="11" lengthAdjust="spacingAndGlyphs" stroke="#b8405f" stroke-width="0.1">n.s.</text>
<path d="M202.80,373.20 L205.80,373.20 L205.80,375.80 L207.10,375.80 L207.10,377.50 L208.40,377.50 L208.40,379.20 L211.00,379.20 L211.00,381.50 L224.80,381.50 L225.70,381.50 L225.70,383.60 L252.50,383.60 L254.20,383.60 L254.20,386.20 L279.30,386.20" fill="none" stroke="#5fb65a" stroke-width="1.05" stroke-linejoin="round"/>
<path d="M202.80,373.20 L204.67,373.20 L204.67,373.50 L206.53,373.50 L206.53,373.80 L208.40,373.80 L208.40,374.10 L210.70,374.10 L210.70,374.37 L213.00,374.37 L213.00,374.63 L215.30,374.63 L215.30,374.90 L217.90,374.90 L217.90,375.80 L220.50,375.80 L220.50,377.00 L253.40,377.00 L255.10,377.00 L255.10,378.70 L278.40,378.70" fill="none" stroke="#27446f" stroke-width="1.05" stroke-linejoin="round"/>
<line x1="206.13" y1="372.35" x2="206.13" y2="374.65" stroke="#27446f" stroke-width="0.9"/>
<line x1="208.04" y1="372.65" x2="208.04" y2="374.95" stroke="#27446f" stroke-width="0.9"/>
<line x1="212.18" y1="373.22" x2="212.18" y2="375.52" stroke="#27446f" stroke-width="0.9"/>
<line x1="216.99" y1="373.75" x2="216.99" y2="376.05" stroke="#27446f" stroke-width="0.9"/>
<line x1="218.35" y1="374.65" x2="218.35" y2="376.95" stroke="#27446f" stroke-width="0.9"/>
<line x1="220.23" y1="374.65" x2="220.23" y2="376.95" stroke="#27446f" stroke-width="0.9"/>
<line x1="224.17" y1="375.85" x2="224.17" y2="378.15" stroke="#27446f" stroke-width="0.9"/>
<line x1="227.40" y1="375.85" x2="227.40" y2="378.15" stroke="#27446f" stroke-width="0.9"/>
<line x1="230.54" y1="375.85" x2="230.54" y2="378.15" stroke="#27446f" stroke-width="0.9"/>
<line x1="234.75" y1="375.85" x2="234.75" y2="378.15" stroke="#27446f" stroke-width="0.9"/>
<line x1="237.62" y1="375.85" x2="237.62" y2="378.15" stroke="#27446f" stroke-width="0.9"/>
<line x1="239.64" y1="375.85" x2="239.64" y2="378.15" stroke="#27446f" stroke-width="0.9"/>
<line x1="242.20" y1="375.85" x2="242.20" y2="378.15" stroke="#27446f" stroke-width="0.9"/>
<line x1="244.32" y1="375.85" x2="244.32" y2="378.15" stroke="#27446f" stroke-width="0.9"/>
<line x1="247.49" y1="375.85" x2="247.49" y2="378.15" stroke="#27446f" stroke-width="0.9"/>
<line x1="251.45" y1="375.85" x2="251.45" y2="378.15" stroke="#27446f" stroke-width="0.9"/>
<line x1="253.78" y1="375.85" x2="253.78" y2="378.15" stroke="#27446f" stroke-width="0.9"/>
<line x1="257.06" y1="377.55" x2="257.06" y2="379.85" stroke="#27446f" stroke-width="0.9"/>
<line x1="259.56" y1="377.55" x2="259.56" y2="379.85" stroke="#27446f" stroke-width="0.9"/>
<line x1="263.08" y1="377.55" x2="263.08" y2="379.85" stroke="#27446f" stroke-width="0.9"/>
<line x1="264.75" y1="377.55" x2="264.75" y2="379.85" stroke="#27446f" stroke-width="0.9"/>
<line x1="268.20" y1="377.55" x2="268.20" y2="379.85" stroke="#27446f" stroke-width="0.9"/>
<line x1="270.15" y1="377.55" x2="270.15" y2="379.85" stroke="#27446f" stroke-width="0.9"/>
<line x1="272.38" y1="377.55" x2="272.38" y2="379.85" stroke="#27446f" stroke-width="0.9"/>
<line x1="275.23" y1="377.55" x2="275.23" y2="379.85" stroke="#27446f" stroke-width="0.9"/>
<line x1="211.61" y1="380.35" x2="211.61" y2="382.65" stroke="#5fb65a" stroke-width="0.9"/>
<line x1="215.07" y1="380.35" x2="215.07" y2="382.65" stroke="#5fb65a" stroke-width="0.9"/>
<line x1="218.56" y1="380.35" x2="218.56" y2="382.65" stroke="#5fb65a" stroke-width="0.9"/>
<line x1="221.41" y1="380.35" x2="221.41" y2="382.65" stroke="#5fb65a" stroke-width="0.9"/>
<line x1="224.30" y1="380.35" x2="224.30" y2="382.65" stroke="#5fb65a" stroke-width="0.9"/>
<line x1="228.47" y1="382.45" x2="228.47" y2="384.75" stroke="#5fb65a" stroke-width="0.9"/>
<line x1="229.32" y1="382.45" x2="229.32" y2="384.75" stroke="#5fb65a" stroke-width="0.9"/>
<line x1="233.76" y1="382.45" x2="233.76" y2="384.75" stroke="#5fb65a" stroke-width="0.9"/>
<line x1="235.89" y1="382.45" x2="235.89" y2="384.75" stroke="#5fb65a" stroke-width="0.9"/>
<line x1="238.65" y1="382.45" x2="238.65" y2="384.75" stroke="#5fb65a" stroke-width="0.9"/>
<line x1="242.60" y1="382.45" x2="242.60" y2="384.75" stroke="#5fb65a" stroke-width="0.9"/>
<line x1="243.60" y1="382.45" x2="243.60" y2="384.75" stroke="#5fb65a" stroke-width="0.9"/>
<line x1="246.80" y1="382.45" x2="246.80" y2="384.75" stroke="#5fb65a" stroke-width="0.9"/>
<line x1="249.79" y1="382.45" x2="249.79" y2="384.75" stroke="#5fb65a" stroke-width="0.9"/>
<line x1="251.78" y1="382.45" x2="251.78" y2="384.75" stroke="#5fb65a" stroke-width="0.9"/>
<line x1="255.74" y1="385.05" x2="255.74" y2="387.35" stroke="#5fb65a" stroke-width="0.9"/>
<line x1="259.64" y1="385.05" x2="259.64" y2="387.35" stroke="#5fb65a" stroke-width="0.9"/>
<line x1="263.45" y1="385.05" x2="263.45" y2="387.35" stroke="#5fb65a" stroke-width="0.9"/>
<line x1="267.38" y1="385.05" x2="267.38" y2="387.35" stroke="#5fb65a" stroke-width="0.9"/>
<line x1="269.67" y1="385.05" x2="269.67" y2="387.35" stroke="#5fb65a" stroke-width="0.9"/>
<line x1="272.96" y1="385.05" x2="272.96" y2="387.35" stroke="#5fb65a" stroke-width="0.9"/>
<line x1="276.55" y1="385.05" x2="276.55" y2="387.35" stroke="#5fb65a" stroke-width="0.9"/>
<line x1="278.07" y1="385.05" x2="278.07" y2="387.35" stroke="#5fb65a" stroke-width="0.9"/>
<line x1="318.00" y1="369.20" x2="318.00" y2="457.00" stroke="#231f20" stroke-width="1"/>
<line x1="317.50" y1="457.00" x2="414.20" y2="457.00" stroke="#231f20" stroke-width="1"/>
<line x1="315.40" y1="452.60" x2="318.00" y2="452.60" stroke="#231f20" stroke-width="0.9"/>
<text x="312.50" y="455.20" font-size="7.5" text-anchor="end" fill="#231f20" stroke="#231f20" stroke-width="0.16">0</text>
<line x1="315.40" y1="436.68" x2="318.00" y2="436.68" stroke="#231f20" stroke-width="0.9"/>
<text x="312.50" y="439.28" font-size="7.5" text-anchor="end" fill="#231f20" stroke="#231f20" stroke-width="0.16">0.2</text>
<line x1="315.40" y1="420.76" x2="318.00" y2="420.76" stroke="#231f20" stroke-width="0.9"/>
<text x="312.50" y="423.36" font-size="7.5" text-anchor="end" fill="#231f20" stroke="#231f20" stroke-width="0.16">0.4</text>
<line x1="315.40" y1="404.84" x2="318.00" y2="404.84" stroke="#231f20" stroke-width="0.9"/>
<text x="312.50" y="407.44" font-size="7.5" text-anchor="end" fill="#231f20" stroke="#231f20" stroke-width="0.16">0.6</text>
<line x1="315.40" y1="388.92" x2="318.00" y2="388.92" stroke="#231f20" stroke-width="0.9"/>
<text x="312.50" y="391.52" font-size="7.5" text-anchor="end" fill="#231f20" stroke="#231f20" stroke-width="0.16">0.8</text>
<line x1="315.40" y1="373.00" x2="318.00" y2="373.00" stroke="#231f20" stroke-width="0.9"/>
<text x="312.50" y="375.60" font-size="7.5" text-anchor="end" fill="#231f20" stroke="#231f20" stroke-width="0.16">1.0</text>
<line x1="323.10" y1="457.00" x2="323.10" y2="459.60" stroke="#231f20" stroke-width="0.9"/>
<text x="323.10" y="469.50" font-size="7.3" text-anchor="middle" fill="#231f20" stroke="#231f20" stroke-width="0.16">0</text>
<line x1="340.50" y1="457.00" x2="340.50" y2="459.60" stroke="#231f20" stroke-width="0.9"/>
<text x="340.50" y="469.50" font-size="7.3" text-anchor="middle" fill="#231f20" stroke="#231f20" stroke-width="0.16">5</text>
<line x1="357.90" y1="457.00" x2="357.90" y2="459.60" stroke="#231f20" stroke-width="0.9"/>
<text x="357.90" y="469.50" font-size="7.3" text-anchor="middle" fill="#231f20" stroke="#231f20" stroke-width="0.16">10</text>
<line x1="375.30" y1="457.00" x2="375.30" y2="459.60" stroke="#231f20" stroke-width="0.9"/>
<text x="375.30" y="469.50" font-size="7.3" text-anchor="middle" fill="#231f20" stroke="#231f20" stroke-width="0.16">15</text>
<line x1="392.70" y1="457.00" x2="392.70" y2="459.60" stroke="#231f20" stroke-width="0.9"/>
<text x="392.70" y="469.50" font-size="7.3" text-anchor="middle" fill="#231f20" stroke="#231f20" stroke-width="0.16">20</text>
<line x1="410.10" y1="457.00" x2="410.10" y2="459.60" stroke="#231f20" stroke-width="0.9"/>
<text x="410.10" y="469.50" font-size="7.3" text-anchor="middle" fill="#231f20" stroke="#231f20" stroke-width="0.16">25</text>
<text x="366.90" y="481.60" font-size="8.8" text-anchor="middle" fill="#231f20" font-weight="bold" textLength="42.5" lengthAdjust="spacingAndGlyphs" stroke="#231f20" stroke-width="0.22">Follow-up (yrs)</text>
<text x="366.60" y="352.70" font-size="9" text-anchor="middle" fill="#231f20" stroke="#231f20" stroke-width="0.1">primary</text>
<text x="366.30" y="363.70" font-size="9" text-anchor="middle" fill="#231f20" textLength="80.5" lengthAdjust="spacingAndGlyphs" stroke="#231f20" stroke-width="0.1">metastasis, bone&lt;55</text>
<text x="323.30" y="453.10" font-size="7.6" text-anchor="start" fill="#231f20" textLength="27.5" lengthAdjust="spacingAndGlyphs" stroke="#231f20" stroke-width="0.16"><tspan font-style="italic">P</tspan> = .006</text>
<path d="M323.80,373.20 L325.35,373.20 L325.35,375.35 L326.90,375.35 L326.90,377.50 L327.50,377.50 L327.50,379.53 L328.10,379.53 L328.10,381.57 L328.70,381.57 L328.70,383.60 L329.95,383.60 L329.95,385.30 L331.20,385.30 L331.20,387.00 L333.80,387.00 L333.80,389.60 L334.67,389.60 L334.67,391.63 L335.53,391.63 L335.53,393.67 L336.40,393.67 L336.40,395.70 L345.10,395.70 L345.95,395.70 L345.95,397.40 L346.80,397.40 L346.80,399.10 L349.40,399.10 L349.40,400.00 L352.00,400.00 L352.00,400.90 L354.60,400.90 L354.60,403.50 L357.20,403.50 L357.20,404.70 L373.60,404.70 L374.50,404.70 L374.50,406.70 L375.40,406.70 L375.40,408.70 L377.10,408.70 L377.10,409.10 L378.80,409.10 L378.80,409.50 L379.70,409.50 L379.70,412.60 L401.30,412.60" fill="none" stroke="#5fb65a" stroke-width="1.05" stroke-linejoin="round"/>
<path d="M323.80,373.20 L326.90,373.20 L326.90,375.80 L328.20,375.80 L328.20,377.95 L329.50,377.95 L329.50,380.10 L331.65,380.10 L331.65,380.80 L333.80,380.80 L333.80,381.50 L336.40,381.50 L336.40,382.10 L339.00,382.10 L339.00,382.70 L341.60,382.70 L341.60,384.40 L344.20,384.40 L344.20,386.70 L367.60,386.70 L368.40,386.70 L368.40,388.80 L371.00,388.80 L371.00,391.90 L391.80,391.90 L392.25,391.90 L392.25,393.80 L392.70,393.80 L392.70,395.70 L400.40,395.70" fill="none" stroke="#27446f" stroke-width="1.05" stroke-linejoin="round"/>
<line x1="335.60" y1="380.35" x2="335.60" y2="382.65" stroke="#27446f" stroke-width="0.9"/>
<line x1="338.10" y1="380.95" x2="338.10" y2="383.25" stroke="#27446f" stroke-width="0.9"/>
<line x1="341.47" y1="381.55" x2="341.47" y2="383.85" stroke="#27446f" stroke-width="0.9"/>
<line x1="343.92" y1="383.25" x2="343.92" y2="385.55" stroke="#27446f" stroke-width="0.9"/>
<line x1="345.46" y1="385.55" x2="345.46" y2="387.85" stroke="#27446f" stroke-width="0.9"/>
<line x1="349.10" y1="385.55" x2="349.10" y2="387.85" stroke="#27446f" stroke-width="0.9"/>
<line x1="353.97" y1="385.55" x2="353.97" y2="387.85" stroke="#27446f" stroke-width="0.9"/>
<line x1="356.93" y1="385.55" x2="356.93" y2="387.85" stroke="#27446f" stroke-width="0.9"/>
<line x1="361.07" y1="385.55" x2="361.07" y2="387.85" stroke="#27446f" stroke-width="0.9"/>
<line x1="365.99" y1="385.55" x2="365.99" y2="387.85" stroke="#27446f" stroke-width="0.9"/>
<line x1="369.71" y1="387.65" x2="369.71" y2="389.95" stroke="#27446f" stroke-width="0.9"/>
<line x1="370.96" y1="387.65" x2="370.96" y2="389.95" stroke="#27446f" stroke-width="0.9"/>
<line x1="374.52" y1="390.75" x2="374.52" y2="393.05" stroke="#27446f" stroke-width="0.9"/>
<line x1="379.42" y1="390.75" x2="379.42" y2="393.05" stroke="#27446f" stroke-width="0.9"/>
<line x1="383.46" y1="390.75" x2="383.46" y2="393.05" stroke="#27446f" stroke-width="0.9"/>
<line x1="384.04" y1="390.75" x2="384.04" y2="393.05" stroke="#27446f" stroke-width="0.9"/>
<line x1="388.38" y1="390.75" x2="388.38" y2="393.05" stroke="#27446f" stroke-width="0.9"/>
<line x1="391.81" y1="390.75" x2="391.81" y2="393.05" stroke="#27446f" stroke-width="0.9"/>
<line x1="396.73" y1="394.55" x2="396.73" y2="396.85" stroke="#27446f" stroke-width="0.9"/>
<line x1="399.11" y1="394.55" x2="399.11" y2="396.85" stroke="#27446f" stroke-width="0.9"/>
<line x1="344.55" y1="394.55" x2="344.55" y2="396.85" stroke="#5fb65a" stroke-width="0.9"/>
<line x1="350.33" y1="398.85" x2="350.33" y2="401.15" stroke="#5fb65a" stroke-width="0.9"/>
<line x1="351.87" y1="398.85" x2="351.87" y2="401.15" stroke="#5fb65a" stroke-width="0.9"/>
<line x1="357.04" y1="402.35" x2="357.04" y2="404.65" stroke="#5fb65a" stroke-width="0.9"/>
<line x1="362.97" y1="403.55" x2="362.97" y2="405.85" stroke="#5fb65a" stroke-width="0.9"/>
<line x1="367.87" y1="403.55" x2="367.87" y2="405.85" stroke="#5fb65a" stroke-width="0.9"/>
<line x1="371.10" y1="403.55" x2="371.10" y2="405.85" stroke="#5fb65a" stroke-width="0.9"/>
<line x1="377.23" y1="407.95" x2="377.23" y2="410.25" stroke="#5fb65a" stroke-width="0.9"/>
<line x1="379.81" y1="411.45" x2="379.81" y2="413.75" stroke="#5fb65a" stroke-width="0.9"/>
<line x1="383.76" y1="411.45" x2="383.76" y2="413.75" stroke="#5fb65a" stroke-width="0.9"/>
<line x1="387.70" y1="411.45" x2="387.70" y2="413.75" stroke="#5fb65a" stroke-width="0.9"/>
<line x1="389.47" y1="411.45" x2="389.47" y2="413.75" stroke="#5fb65a" stroke-width="0.9"/>
<line x1="393.02" y1="411.45" x2="393.02" y2="413.75" stroke="#5fb65a" stroke-width="0.9"/>
<line x1="397.28" y1="411.45" x2="397.28" y2="413.75" stroke="#5fb65a" stroke-width="0.9"/>
<line x1="417.70" y1="407.70" x2="432.10" y2="407.70" stroke="#5fb65a" stroke-width="1.2"/>
<line x1="417.70" y1="418.50" x2="432.10" y2="418.50" stroke="#27446f" stroke-width="1.2"/>
<text x="435.00" y="410.20" font-size="7.6" text-anchor="start" fill="#333" textLength="37" lengthAdjust="spacingAndGlyphs" stroke="#333" stroke-width="0.08">FVII-positive</text>
<text x="435.00" y="421.00" font-size="7.6" text-anchor="start" fill="#333" textLength="39" lengthAdjust="spacingAndGlyphs" stroke="#333" stroke-width="0.08">FVII-negative</text>
<rect x="0.5" y="0.5" width="519" height="490" fill="none" stroke="#5a5a5a" stroke-width="1"/>
</svg></body></html>
